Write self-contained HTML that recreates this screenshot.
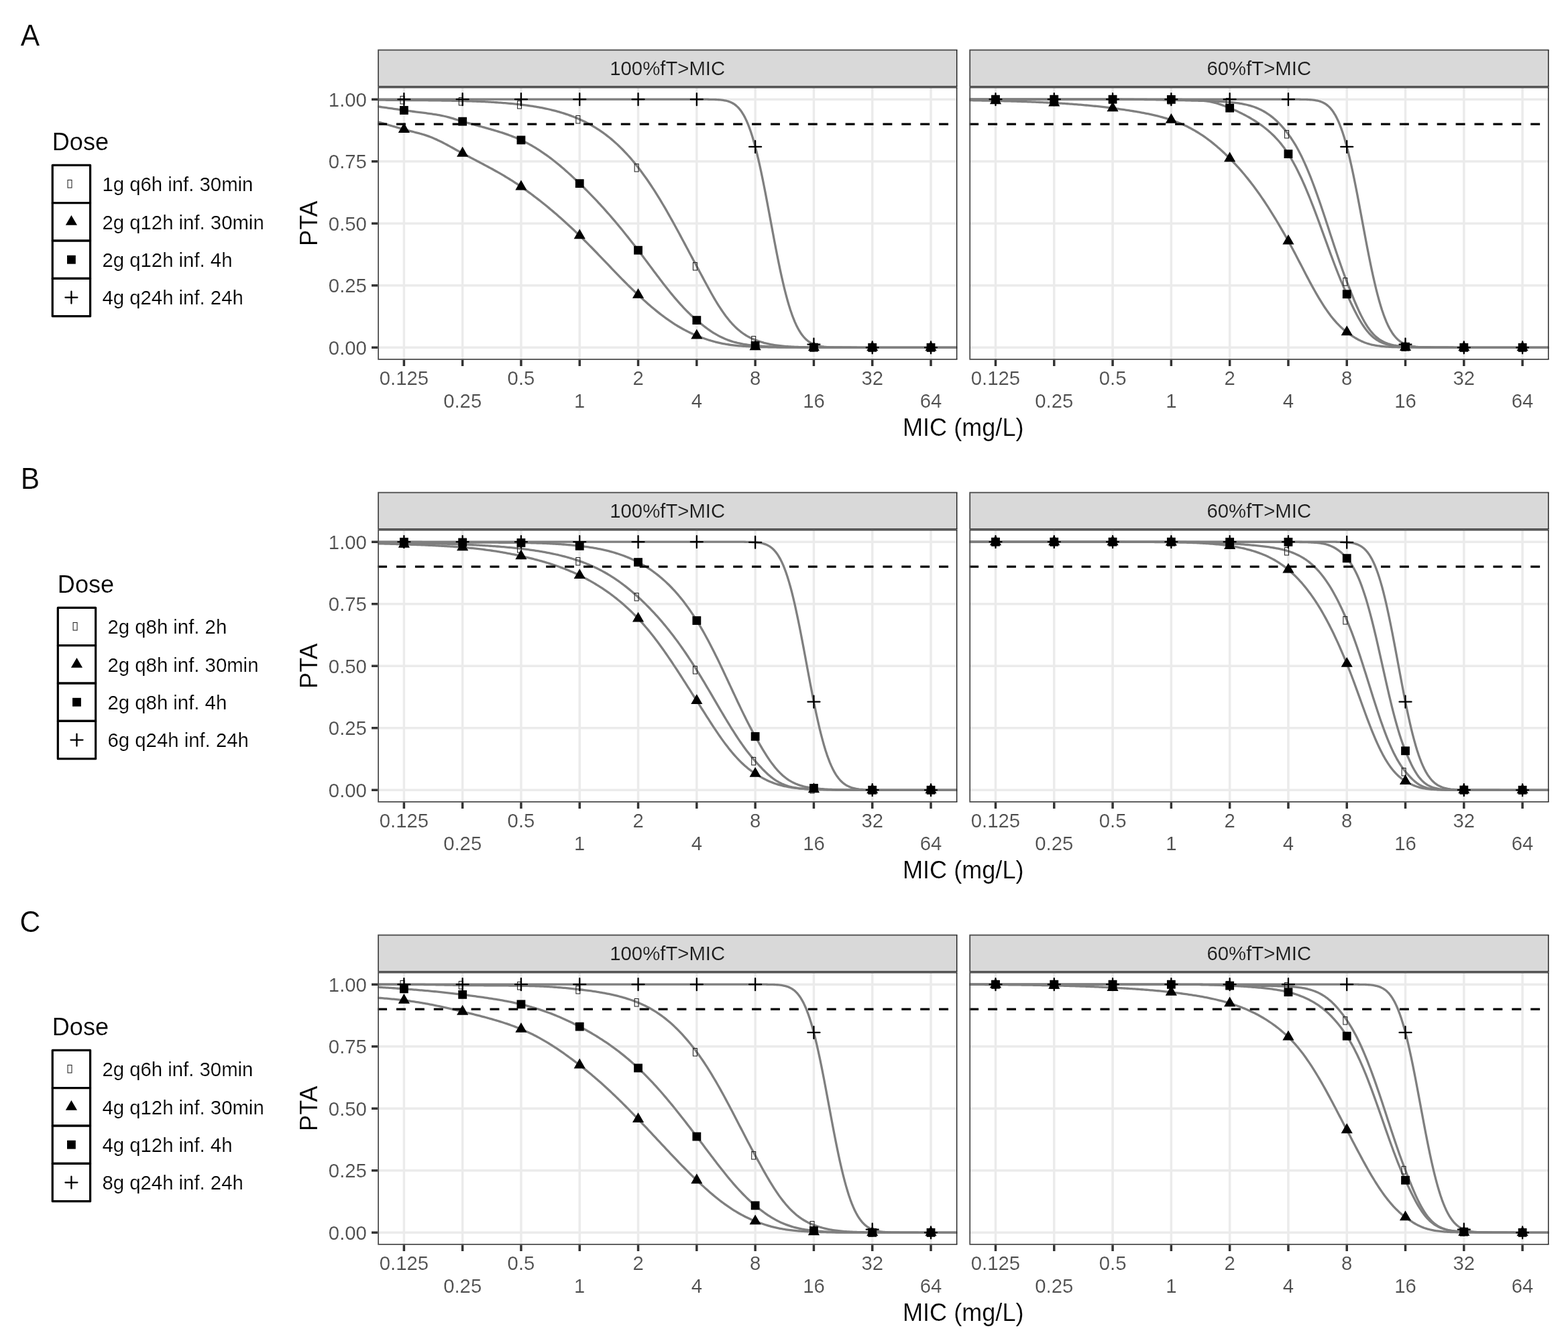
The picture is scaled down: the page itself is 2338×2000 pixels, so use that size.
<!DOCTYPE html>
<html lang="en">
<head>
<meta charset="utf-8">
<title>PTA versus MIC by dosing regimen</title>
<style>
html,body{margin:0;padding:0;background:#fff}
body{width:2338px;height:2000px;overflow:hidden}
svg{display:block}
text{font-family:"Liberation Sans",Arial,Helvetica,sans-serif;fill:#000;stroke:#fff;stroke-width:.2px;paint-order:fill stroke}
.tag{font-size:42.6px}
.lt,.at{font-size:36.1px}
.ll{font-size:29.33px}
.ax{font-size:29.33px;fill:#4D4D4D}
.st{font-size:29.33px;fill:#1A1A1A;stroke:#D9D9D9}
.key{fill:#fff;stroke:#000;stroke-width:3.2;stroke-linejoin:round}
.tk{stroke:#333333;stroke-width:3.49;fill:none}
.cv{stroke:#7F7F7F;stroke-width:3.3;fill:none;stroke-linejoin:round;stroke-linecap:butt}
.mk{fill:#000}
.mk .pl{stroke:#000;stroke-width:2.3;stroke-linecap:round;fill:none}
.mk .tf{stroke:#222;stroke-width:1.05;fill:none}
</style>
</head>
<body>
<svg width="2338" height="2000" viewBox="0 0 2338 2000" role="img" aria-label="Probability of target attainment versus MIC for three dosing groups">
<rect width="2338" height="2000" fill="#fff"/>
<defs>
<clipPath id="c1"><rect x="563.1" y="129.7" width="864.2" height="406.9"/></clipPath>
<clipPath id="c2"><rect x="1445.2" y="129.7" width="864.2" height="406.9"/></clipPath>
</defs>
<g transform="translate(0 0)">
<text class="tag" transform="translate(30.7 68) scale(1 1.02)">A</text>
<text class="lt" transform="translate(77.8 224.1) scale(1 1.02)">Dose</text>
<rect class="key" x="78.25" y="246.4" width="56.33" height="56.33"/>
<rect class="key" x="78.25" y="302.73" width="56.33" height="56.33"/>
<rect class="key" x="78.25" y="359.06" width="56.33" height="56.33"/>
<rect class="key" x="78.25" y="415.39" width="56.33" height="56.33"/>
<g class="mk"><rect x="101.04" y="268.5" width="5.95" height="11.5" class="tf"/></g>
<text class="ll" transform="translate(152.48 285.37) scale(1 1.02)">1g q6h inf. 30min</text>
<g class="mk"><path d="M106.41 321L114.99 335.85H97.84Z"/></g>
<text class="ll" transform="translate(152.48 341.7) scale(1 1.02)">2g q12h inf. 30min</text>
<g class="mk"><rect x="100.01" y="380.83" width="12.8" height="12.8"/></g>
<text class="ll" transform="translate(152.48 398.03) scale(1 1.02)">2g q12h inf. 4h</text>
<g class="mk"><path d="M97.41 443.56H115.41M106.41 434.56V452.56" class="pl"/></g>
<text class="ll" transform="translate(152.48 454.36) scale(1 1.02)">4g q24h inf. 24h</text>
<text class="at" text-anchor="middle" transform="translate(472.9 333.15) rotate(-90) scale(1 1.02)">PTA</text>
<text class="ax" text-anchor="end" transform="translate(546.9 528.8) scale(1 1.02)">0.00</text>
<text class="ax" text-anchor="end" transform="translate(546.9 436.27) scale(1 1.02)">0.25</text>
<text class="ax" text-anchor="end" transform="translate(546.9 343.75) scale(1 1.02)">0.50</text>
<text class="ax" text-anchor="end" transform="translate(546.9 251.22) scale(1 1.02)">0.75</text>
<text class="ax" text-anchor="end" transform="translate(546.9 158.7) scale(1 1.02)">1.00</text>
<path class="tk" d="M554.05 518.3H563.25M554.05 425.77H563.25M554.05 333.25H563.25M554.05 240.72H563.25M554.05 148.2H563.25"/>
<rect x="563.25" y="73.7" width="864.2" height="56.15" fill="#D9D9D9"/><path d="M563.25 73.7H1427.45V75.45H565V128.1H1427.45V129.85H563.25Z" fill="#4a4a4a"/><rect x="1425.95" y="74.6" width="1.4" height="54.35" fill="#1c1c1c"/>
<text class="st" text-anchor="middle" transform="translate(995.2 112.1) scale(1 1.02)">100%fT&gt;MIC</text>
<g clip-path="url(#c1)">
<path d="M563.1 518.3H1427.3M563.1 425.77H1427.3M563.1 333.25H1427.3M563.1 240.72H1427.3M563.1 148.2H1427.3M602.38 129.7V536.6M689.67 129.7V536.6M776.97 129.7V536.6M864.26 129.7V536.6M951.55 129.7V536.6M1038.85 129.7V536.6M1126.14 129.7V536.6M1213.43 129.7V536.6M1300.73 129.7V536.6M1388.02 129.7V536.6" stroke="#EBEBEB" stroke-width="3.49" fill="none"/>
<path class="cv" d="M563.1 149.13L565.28 149.15L567.46 149.17L569.65 149.18L571.83 149.2L574.01 149.22L576.19 149.23L578.38 149.25L580.56 149.27L582.74 149.28L584.92 149.3L587.11 149.32L589.29 149.34L591.47 149.36L593.65 149.38L595.83 149.4L598.02 149.42L600.2 149.44L602.38 149.46L604.56 149.47L606.75 149.48L608.93 149.49L611.11 149.5L613.29 149.51L615.48 149.53L617.66 149.54L619.84 149.56L622.02 149.57L624.21 149.59L626.39 149.61L628.57 149.63L630.75 149.65L632.93 149.67L635.12 149.69L637.3 149.71L639.48 149.74L641.66 149.76L643.85 149.79L646.03 149.81L648.21 149.84L650.39 149.87L652.58 149.9L654.76 149.93L656.94 149.96L659.12 149.99L661.3 150.03L663.49 150.06L665.67 150.1L667.85 150.13L670.03 150.17L672.22 150.21L674.4 150.25L676.58 150.29L678.76 150.34L680.95 150.38L683.13 150.43L685.31 150.47L687.49 150.52L689.67 150.57L691.86 150.62L694.04 150.67L696.22 150.73L698.4 150.79L700.59 150.86L702.77 150.92L704.95 151L707.13 151.07L709.32 151.15L711.5 151.23L713.68 151.32L715.86 151.41L718.04 151.51L720.23 151.61L722.41 151.71L724.59 151.82L726.77 151.94L728.96 152.05L731.14 152.18L733.32 152.31L735.5 152.44L737.69 152.58L739.87 152.73L742.05 152.88L744.23 153.04L746.42 153.2L748.6 153.37L750.78 153.54L752.96 153.72L755.14 153.91L757.33 154.1L759.51 154.3L761.69 154.51L763.87 154.72L766.06 154.94L768.24 155.16L770.42 155.39L772.6 155.63L774.79 155.87L776.97 156.12L779.15 156.38L781.33 156.64L783.51 156.92L785.7 157.21L787.88 157.5L790.06 157.81L792.24 158.13L794.43 158.46L796.61 158.81L798.79 159.16L800.97 159.53L803.16 159.91L805.34 160.31L807.52 160.72L809.7 161.14L811.88 161.58L814.07 162.04L816.25 162.51L818.43 163L820.61 163.5L822.8 164.02L824.98 164.56L827.16 165.12L829.34 165.7L831.53 166.3L833.71 166.91L835.89 167.55L838.07 168.21L840.26 168.89L842.44 169.59L844.62 170.32L846.8 171.06L848.98 171.84L851.17 172.63L853.35 173.45L855.53 174.3L857.71 175.17L859.9 176.07L862.08 177L864.26 177.96L866.44 178.94L868.63 179.96L870.81 181L872.99 182.08L875.17 183.2L877.35 184.35L879.54 185.53L881.72 186.75L883.9 188.01L886.08 189.31L888.27 190.64L890.45 192.02L892.63 193.43L894.81 194.89L897 196.39L899.18 197.93L901.36 199.52L903.54 201.15L905.72 202.83L907.91 204.55L910.09 206.32L912.27 208.14L914.45 210.01L916.64 211.92L918.82 213.89L921 215.91L923.18 217.97L925.37 220.1L927.55 222.27L929.73 224.5L931.91 226.78L934.09 229.11L936.28 231.5L938.46 233.94L940.64 236.44L942.82 238.99L945.01 241.6L947.19 244.26L949.37 246.98L951.55 249.76L953.74 252.59L955.92 255.47L958.1 258.41L960.28 261.41L962.47 264.46L964.65 267.57L966.83 270.73L969.01 273.95L971.19 277.22L973.38 280.54L975.56 283.92L977.74 287.35L979.92 290.83L982.11 294.35L984.29 297.93L986.47 301.55L988.65 305.22L990.84 308.94L993.02 312.69L995.2 316.49L997.38 320.32L999.56 324.19L1001.75 328.1L1003.93 332.03L1006.11 336L1008.29 340L1010.48 344.01L1012.66 348.06L1014.84 352.11L1017.02 356.19L1019.21 360.28L1021.39 364.37L1023.57 368.47L1025.75 372.58L1027.93 376.68L1030.12 380.78L1032.3 384.87L1034.48 388.95L1036.66 393.01L1038.85 397.06L1041.03 401.1L1043.21 405.18L1045.39 409.27L1047.58 413.36L1049.76 417.45L1051.94 421.53L1054.12 425.57L1056.31 429.58L1058.49 433.54L1060.67 437.45L1062.85 441.29L1065.03 445.05L1067.22 448.73L1069.4 452.33L1071.58 455.82L1073.76 459.22L1075.95 462.51L1078.13 465.69L1080.31 468.75L1082.49 471.7L1084.68 474.53L1086.86 477.23L1089.04 479.82L1091.22 482.28L1093.4 484.62L1095.59 486.84L1097.77 488.95L1099.95 490.93L1102.13 492.81L1104.32 494.57L1106.5 496.23L1108.68 497.78L1110.86 499.24L1113.05 500.59L1115.23 501.86L1117.41 503.04L1119.59 504.14L1121.77 505.16L1123.96 506.1L1126.14 506.97L1128.32 507.8L1130.5 508.58L1132.69 509.31L1134.87 510.01L1137.05 510.67L1139.23 511.29L1141.42 511.86L1143.6 512.4L1145.78 512.9L1147.96 513.36L1150.14 513.79L1152.33 514.19L1154.51 514.56L1156.69 514.89L1158.87 515.2L1161.06 515.48L1163.24 515.74L1165.42 515.97L1167.6 516.19L1169.79 516.38L1171.97 516.56L1174.15 516.72L1176.33 516.86L1178.52 516.99L1180.7 517.11L1182.88 517.21L1185.06 517.31L1187.24 517.39L1189.43 517.47L1191.61 517.54L1193.79 517.6L1195.97 517.66L1198.16 517.7L1200.34 517.75L1202.52 517.79L1204.7 517.82L1206.89 517.86L1209.07 517.88L1211.25 517.91L1213.43 517.93L1215.61 517.95L1217.8 517.97L1219.98 517.99L1222.16 518L1224.34 518.02L1226.53 518.04L1228.71 518.05L1230.89 518.06L1233.07 518.08L1235.26 518.09L1237.44 518.1L1239.62 518.11L1241.8 518.12L1243.98 518.13L1246.17 518.14L1248.35 518.15L1250.53 518.15L1252.71 518.16L1254.9 518.17L1257.08 518.17L1259.26 518.18L1261.44 518.18L1263.63 518.19L1265.81 518.19L1267.99 518.2L1270.17 518.2L1272.36 518.21L1274.54 518.21L1276.72 518.21L1278.9 518.3L1281.08 518.3L1283.27 518.3L1285.45 518.3L1287.63 518.3L1289.81 518.3L1292 518.3L1294.18 518.3L1296.36 518.3L1298.54 518.3L1300.73 518.3L1302.91 518.3L1305.09 518.3L1307.27 518.3L1309.45 518.3L1311.64 518.3L1313.82 518.3L1316 518.3L1318.18 518.3L1320.37 518.3L1322.55 518.3L1324.73 518.3L1326.91 518.3L1329.1 518.3L1331.28 518.3L1333.46 518.3L1335.64 518.3L1337.82 518.3L1340.01 518.3L1342.19 518.3L1344.37 518.3L1346.55 518.3L1348.74 518.3L1350.92 518.3L1353.1 518.3L1355.28 518.3L1357.47 518.3L1359.65 518.3L1361.83 518.3L1364.01 518.3L1366.19 518.3L1368.38 518.3L1370.56 518.3L1372.74 518.3L1374.92 518.3L1377.11 518.3L1379.29 518.3L1381.47 518.3L1383.65 518.3L1385.84 518.3L1388.02 518.3L1390.2 518.3L1392.38 518.3L1394.57 518.3L1396.75 518.3L1398.93 518.3L1401.11 518.3L1403.29 518.3L1405.48 518.3L1407.66 518.3L1409.84 518.3L1412.02 518.3L1414.21 518.3L1416.39 518.3L1418.57 518.3L1420.75 518.3L1422.94 518.3L1425.12 518.3L1427.3 518.3"/>
<path class="cv" d="M563.1 181.69L565.28 182.31L567.46 182.94L569.65 183.56L571.83 184.19L574.01 184.82L576.19 185.44L578.38 186.07L580.56 186.71L582.74 187.34L584.92 187.97L587.11 188.6L589.29 189.23L591.47 189.86L593.65 190.49L595.83 191.11L598.02 191.74L600.2 192.36L602.38 192.98L604.56 193.59L606.75 194.18L608.93 194.76L611.11 195.32L613.29 195.88L615.48 196.43L617.66 196.99L619.84 197.54L622.02 198.1L624.21 198.68L626.39 199.27L628.57 199.87L630.75 200.51L632.93 201.17L635.12 201.87L637.3 202.6L639.48 203.38L641.66 204.2L643.85 205.07L646.03 205.97L648.21 206.91L650.39 207.88L652.58 208.89L654.76 209.92L656.94 210.99L659.12 212.09L661.3 213.21L663.49 214.35L665.67 215.51L667.85 216.69L670.03 217.88L672.22 219.08L674.4 220.29L676.58 221.51L678.76 222.73L680.95 223.94L683.13 225.15L685.31 226.35L687.49 227.53L689.67 228.7L691.86 229.85L694.04 231L696.22 232.15L698.4 233.3L700.59 234.45L702.77 235.59L704.95 236.74L707.13 237.88L709.32 239.03L711.5 240.17L713.68 241.32L715.86 242.47L718.04 243.62L720.23 244.78L722.41 245.93L724.59 247.1L726.77 248.27L728.96 249.44L731.14 250.63L733.32 251.82L735.5 253.01L737.69 254.22L739.87 255.44L742.05 256.67L744.23 257.91L746.42 259.16L748.6 260.42L750.78 261.7L752.96 263L755.14 264.3L757.33 265.63L759.51 266.98L761.69 268.34L763.87 269.72L766.06 271.12L768.24 272.55L770.42 273.99L772.6 275.46L774.79 276.96L776.97 278.48L779.15 280.01L781.33 281.57L783.51 283.13L785.7 284.71L787.88 286.31L790.06 287.91L792.24 289.53L794.43 291.17L796.61 292.82L798.79 294.49L800.97 296.17L803.16 297.86L805.34 299.57L807.52 301.29L809.7 303.03L811.88 304.78L814.07 306.55L816.25 308.34L818.43 310.14L820.61 311.95L822.8 313.78L824.98 315.63L827.16 317.49L829.34 319.36L831.53 321.25L833.71 323.16L835.89 325.08L838.07 327.02L840.26 328.97L842.44 330.93L844.62 332.91L846.8 334.91L848.98 336.92L851.17 338.94L853.35 340.98L855.53 343.04L857.71 345.1L859.9 347.18L862.08 349.28L864.26 351.38L866.44 353.51L868.63 355.65L870.81 357.8L872.99 359.97L875.17 362.16L877.35 364.35L879.54 366.56L881.72 368.78L883.9 371.02L886.08 373.26L888.27 375.51L890.45 377.77L892.63 380.03L894.81 382.3L897 384.58L899.18 386.85L901.36 389.14L903.54 391.42L905.72 393.7L907.91 395.98L910.09 398.26L912.27 400.54L914.45 402.82L916.64 405.08L918.82 407.35L921 409.6L923.18 411.85L925.37 414.09L927.55 416.32L929.73 418.53L931.91 420.73L934.09 422.92L936.28 425.1L938.46 427.26L940.64 429.4L942.82 431.53L945.01 433.64L947.19 435.72L949.37 437.79L951.55 439.84L953.74 441.87L955.92 443.88L958.1 445.87L960.28 447.85L962.47 449.8L964.65 451.74L966.83 453.65L969.01 455.54L971.19 457.41L973.38 459.25L975.56 461.07L977.74 462.86L979.92 464.63L982.11 466.37L984.29 468.08L986.47 469.76L988.65 471.41L990.84 473.04L993.02 474.63L995.2 476.19L997.38 477.72L999.56 479.22L1001.75 480.69L1003.93 482.12L1006.11 483.52L1008.29 484.89L1010.48 486.22L1012.66 487.52L1014.84 488.79L1017.02 490.02L1019.21 491.22L1021.39 492.39L1023.57 493.52L1025.75 494.62L1027.93 495.69L1030.12 496.73L1032.3 497.73L1034.48 498.69L1036.66 499.63L1038.85 500.54L1041.03 501.41L1043.21 502.28L1045.39 503.12L1047.58 503.93L1049.76 504.73L1051.94 505.49L1054.12 506.24L1056.31 506.95L1058.49 507.64L1060.67 508.29L1062.85 508.92L1065.03 509.52L1067.22 510.09L1069.4 510.63L1071.58 511.15L1073.76 511.63L1075.95 512.09L1078.13 512.52L1080.31 512.93L1082.49 513.31L1084.68 513.67L1086.86 514L1089.04 514.31L1091.22 514.61L1093.4 514.88L1095.59 515.13L1097.77 515.36L1099.95 515.58L1102.13 515.78L1104.32 515.97L1106.5 516.14L1108.68 516.3L1110.86 516.45L1113.05 516.58L1115.23 516.71L1117.41 516.82L1119.59 516.92L1121.77 517.02L1123.96 517.11L1126.14 517.19L1128.32 517.27L1130.5 517.34L1132.69 517.41L1134.87 517.48L1137.05 517.54L1139.23 517.6L1141.42 517.65L1143.6 517.71L1145.78 517.76L1147.96 517.8L1150.14 517.84L1152.33 517.88L1154.51 517.92L1156.69 517.95L1158.87 517.98L1161.06 518.01L1163.24 518.03L1165.42 518.05L1167.6 518.07L1169.79 518.09L1171.97 518.11L1174.15 518.12L1176.33 518.14L1178.52 518.15L1180.7 518.16L1182.88 518.17L1185.06 518.18L1187.24 518.19L1189.43 518.19L1191.61 518.2L1193.79 518.21L1195.97 518.21L1198.16 518.21L1200.34 518.3L1202.52 518.3L1204.7 518.3L1206.89 518.3L1209.07 518.3L1211.25 518.3L1213.43 518.3L1215.61 518.3L1217.8 518.3L1219.98 518.3L1222.16 518.3L1224.34 518.3L1226.53 518.3L1228.71 518.3L1230.89 518.3L1233.07 518.3L1235.26 518.3L1237.44 518.3L1239.62 518.3L1241.8 518.3L1243.98 518.3L1246.17 518.3L1248.35 518.3L1250.53 518.3L1252.71 518.3L1254.9 518.3L1257.08 518.3L1259.26 518.3L1261.44 518.3L1263.63 518.3L1265.81 518.3L1267.99 518.3L1270.17 518.3L1272.36 518.3L1274.54 518.3L1276.72 518.3L1278.9 518.3L1281.08 518.3L1283.27 518.3L1285.45 518.3L1287.63 518.3L1289.81 518.3L1292 518.3L1294.18 518.3L1296.36 518.3L1298.54 518.3L1300.73 518.3L1302.91 518.3L1305.09 518.3L1307.27 518.3L1309.45 518.3L1311.64 518.3L1313.82 518.3L1316 518.3L1318.18 518.3L1320.37 518.3L1322.55 518.3L1324.73 518.3L1326.91 518.3L1329.1 518.3L1331.28 518.3L1333.46 518.3L1335.64 518.3L1337.82 518.3L1340.01 518.3L1342.19 518.3L1344.37 518.3L1346.55 518.3L1348.74 518.3L1350.92 518.3L1353.1 518.3L1355.28 518.3L1357.47 518.3L1359.65 518.3L1361.83 518.3L1364.01 518.3L1366.19 518.3L1368.38 518.3L1370.56 518.3L1372.74 518.3L1374.92 518.3L1377.11 518.3L1379.29 518.3L1381.47 518.3L1383.65 518.3L1385.84 518.3L1388.02 518.3L1390.2 518.3L1392.38 518.3L1394.57 518.3L1396.75 518.3L1398.93 518.3L1401.11 518.3L1403.29 518.3L1405.48 518.3L1407.66 518.3L1409.84 518.3L1412.02 518.3L1414.21 518.3L1416.39 518.3L1418.57 518.3L1420.75 518.3L1422.94 518.3L1425.12 518.3L1427.3 518.3"/>
<path class="cv" d="M563.1 158.93L565.28 159.22L567.46 159.51L569.65 159.81L571.83 160.11L574.01 160.41L576.19 160.72L578.38 161.03L580.56 161.34L582.74 161.65L584.92 161.97L587.11 162.28L589.29 162.6L591.47 162.92L593.65 163.23L595.83 163.55L598.02 163.86L600.2 164.17L602.38 164.48L604.56 164.79L606.75 165.09L608.93 165.38L611.11 165.67L613.29 165.96L615.48 166.24L617.66 166.51L619.84 166.79L622.02 167.06L624.21 167.33L626.39 167.61L628.57 167.88L630.75 168.16L632.93 168.44L635.12 168.73L637.3 169.02L639.48 169.32L641.66 169.62L643.85 169.94L646.03 170.27L648.21 170.61L650.39 170.96L652.58 171.33L654.76 171.71L656.94 172.12L659.12 172.55L661.3 173L663.49 173.49L665.67 174.02L667.85 174.58L670.03 175.18L672.22 175.81L674.4 176.45L676.58 177.12L678.76 177.8L680.95 178.48L683.13 179.16L685.31 179.84L687.49 180.5L689.67 181.14L691.86 181.76L694.04 182.38L696.22 182.99L698.4 183.6L700.59 184.21L702.77 184.81L704.95 185.42L707.13 186.02L709.32 186.62L711.5 187.21L713.68 187.81L715.86 188.41L718.04 189.01L720.23 189.61L722.41 190.21L724.59 190.82L726.77 191.43L728.96 192.04L731.14 192.66L733.32 193.29L735.5 193.92L737.69 194.57L739.87 195.22L742.05 195.88L744.23 196.56L746.42 197.24L748.6 197.94L750.78 198.66L752.96 199.39L755.14 200.14L757.33 200.91L759.51 201.69L761.69 202.5L763.87 203.34L766.06 204.19L768.24 205.07L770.42 205.98L772.6 206.92L774.79 207.89L776.97 208.9L779.15 209.93L781.33 211L783.51 212.1L785.7 213.23L787.88 214.39L790.06 215.58L792.24 216.81L794.43 218.07L796.61 219.36L798.79 220.68L800.97 222.03L803.16 223.42L805.34 224.84L807.52 226.29L809.7 227.77L811.88 229.28L814.07 230.82L816.25 232.4L818.43 234L820.61 235.63L822.8 237.3L824.98 238.99L827.16 240.71L829.34 242.46L831.53 244.24L833.71 246.04L835.89 247.87L838.07 249.72L840.26 251.6L842.44 253.51L844.62 255.43L846.8 257.38L848.98 259.35L851.17 261.34L853.35 263.36L855.53 265.38L857.71 267.43L859.9 269.49L862.08 271.57L864.26 273.66L866.44 275.77L868.63 277.9L870.81 280.04L872.99 282.21L875.17 284.39L877.35 286.59L879.54 288.82L881.72 291.06L883.9 293.32L886.08 295.6L888.27 297.9L890.45 300.22L892.63 302.56L894.81 304.93L897 307.31L899.18 309.71L901.36 312.14L903.54 314.58L905.72 317.05L907.91 319.53L910.09 322.04L912.27 324.56L914.45 327.11L916.64 329.68L918.82 332.26L921 334.87L923.18 337.5L925.37 340.14L927.55 342.81L929.73 345.49L931.91 348.19L934.09 350.91L936.28 353.64L938.46 356.4L940.64 359.16L942.82 361.95L945.01 364.75L947.19 367.56L949.37 370.38L951.55 373.22L953.74 376.07L955.92 378.94L958.1 381.83L960.28 384.72L962.47 387.63L964.65 390.54L966.83 393.46L969.01 396.38L971.19 399.31L973.38 402.23L975.56 405.14L977.74 408.05L979.92 410.95L982.11 413.83L984.29 416.71L986.47 419.56L988.65 422.39L990.84 425.21L993.02 428L995.2 430.76L997.38 433.49L999.56 436.19L1001.75 438.86L1003.93 441.5L1006.11 444.1L1008.29 446.65L1010.48 449.17L1012.66 451.65L1014.84 454.08L1017.02 456.47L1019.21 458.81L1021.39 461.1L1023.57 463.34L1025.75 465.53L1027.93 467.67L1030.12 469.76L1032.3 471.8L1034.48 473.78L1036.66 475.71L1038.85 477.59L1041.03 479.43L1043.21 481.24L1045.39 483.02L1047.58 484.78L1049.76 486.49L1051.94 488.16L1054.12 489.78L1056.31 491.36L1058.49 492.88L1060.67 494.36L1062.85 495.77L1065.03 497.14L1067.22 498.44L1069.4 499.69L1071.58 500.88L1073.76 502.01L1075.95 503.08L1078.13 504.1L1080.31 505.07L1082.49 505.97L1084.68 506.83L1086.86 507.63L1089.04 508.39L1091.22 509.1L1093.4 509.76L1095.59 510.37L1097.77 510.95L1099.95 511.48L1102.13 511.98L1104.32 512.44L1106.5 512.87L1108.68 513.26L1110.86 513.62L1113.05 513.96L1115.23 514.27L1117.41 514.56L1119.59 514.82L1121.77 515.06L1123.96 515.28L1126.14 515.49L1128.32 515.68L1130.5 515.86L1132.69 516.03L1134.87 516.19L1137.05 516.34L1139.23 516.48L1141.42 516.61L1143.6 516.74L1145.78 516.85L1147.96 516.96L1150.14 517.06L1152.33 517.15L1154.51 517.24L1156.69 517.32L1158.87 517.39L1161.06 517.46L1163.24 517.52L1165.42 517.58L1167.6 517.64L1169.79 517.69L1171.97 517.73L1174.15 517.77L1176.33 517.81L1178.52 517.84L1180.7 517.88L1182.88 517.9L1185.06 517.93L1187.24 517.95L1189.43 517.98L1191.61 518L1193.79 518.01L1195.97 518.03L1198.16 518.05L1200.34 518.06L1202.52 518.07L1204.7 518.08L1206.89 518.09L1209.07 518.1L1211.25 518.11L1213.43 518.11L1215.61 518.12L1217.8 518.13L1219.98 518.13L1222.16 518.14L1224.34 518.14L1226.53 518.15L1228.71 518.15L1230.89 518.16L1233.07 518.16L1235.26 518.17L1237.44 518.17L1239.62 518.18L1241.8 518.18L1243.98 518.18L1246.17 518.19L1248.35 518.19L1250.53 518.19L1252.71 518.2L1254.9 518.2L1257.08 518.2L1259.26 518.2L1261.44 518.21L1263.63 518.21L1265.81 518.21L1267.99 518.21L1270.17 518.3L1272.36 518.3L1274.54 518.3L1276.72 518.3L1278.9 518.3L1281.08 518.3L1283.27 518.3L1285.45 518.3L1287.63 518.3L1289.81 518.3L1292 518.3L1294.18 518.3L1296.36 518.3L1298.54 518.3L1300.73 518.3L1302.91 518.3L1305.09 518.3L1307.27 518.3L1309.45 518.3L1311.64 518.3L1313.82 518.3L1316 518.3L1318.18 518.3L1320.37 518.3L1322.55 518.3L1324.73 518.3L1326.91 518.3L1329.1 518.3L1331.28 518.3L1333.46 518.3L1335.64 518.3L1337.82 518.3L1340.01 518.3L1342.19 518.3L1344.37 518.3L1346.55 518.3L1348.74 518.3L1350.92 518.3L1353.1 518.3L1355.28 518.3L1357.47 518.3L1359.65 518.3L1361.83 518.3L1364.01 518.3L1366.19 518.3L1368.38 518.3L1370.56 518.3L1372.74 518.3L1374.92 518.3L1377.11 518.3L1379.29 518.3L1381.47 518.3L1383.65 518.3L1385.84 518.3L1388.02 518.3L1390.2 518.3L1392.38 518.3L1394.57 518.3L1396.75 518.3L1398.93 518.3L1401.11 518.3L1403.29 518.3L1405.48 518.3L1407.66 518.3L1409.84 518.3L1412.02 518.3L1414.21 518.3L1416.39 518.3L1418.57 518.3L1420.75 518.3L1422.94 518.3L1425.12 518.3L1427.3 518.3"/>
<path class="cv" d="M563.1 148.2L565.28 148.2L567.46 148.2L569.65 148.2L571.83 148.2L574.01 148.2L576.19 148.2L578.38 148.2L580.56 148.2L582.74 148.2L584.92 148.2L587.11 148.2L589.29 148.2L591.47 148.2L593.65 148.2L595.83 148.2L598.02 148.2L600.2 148.2L602.38 148.2L604.56 148.2L606.75 148.2L608.93 148.2L611.11 148.2L613.29 148.2L615.48 148.2L617.66 148.2L619.84 148.2L622.02 148.2L624.21 148.2L626.39 148.2L628.57 148.2L630.75 148.2L632.93 148.2L635.12 148.2L637.3 148.2L639.48 148.2L641.66 148.2L643.85 148.2L646.03 148.2L648.21 148.2L650.39 148.2L652.58 148.2L654.76 148.2L656.94 148.2L659.12 148.2L661.3 148.2L663.49 148.2L665.67 148.2L667.85 148.2L670.03 148.2L672.22 148.2L674.4 148.2L676.58 148.2L678.76 148.2L680.95 148.2L683.13 148.2L685.31 148.2L687.49 148.2L689.67 148.2L691.86 148.2L694.04 148.2L696.22 148.2L698.4 148.2L700.59 148.2L702.77 148.2L704.95 148.2L707.13 148.2L709.32 148.2L711.5 148.2L713.68 148.2L715.86 148.2L718.04 148.2L720.23 148.2L722.41 148.2L724.59 148.2L726.77 148.2L728.96 148.2L731.14 148.2L733.32 148.2L735.5 148.2L737.69 148.2L739.87 148.2L742.05 148.2L744.23 148.2L746.42 148.2L748.6 148.2L750.78 148.2L752.96 148.2L755.14 148.2L757.33 148.2L759.51 148.2L761.69 148.2L763.87 148.2L766.06 148.2L768.24 148.2L770.42 148.2L772.6 148.2L774.79 148.2L776.97 148.2L779.15 148.2L781.33 148.2L783.51 148.2L785.7 148.2L787.88 148.2L790.06 148.2L792.24 148.2L794.43 148.2L796.61 148.2L798.79 148.2L800.97 148.2L803.16 148.2L805.34 148.2L807.52 148.2L809.7 148.2L811.88 148.2L814.07 148.2L816.25 148.2L818.43 148.2L820.61 148.2L822.8 148.2L824.98 148.2L827.16 148.2L829.34 148.2L831.53 148.2L833.71 148.2L835.89 148.2L838.07 148.2L840.26 148.2L842.44 148.2L844.62 148.2L846.8 148.2L848.98 148.2L851.17 148.2L853.35 148.2L855.53 148.2L857.71 148.2L859.9 148.2L862.08 148.2L864.26 148.2L866.44 148.2L868.63 148.2L870.81 148.2L872.99 148.2L875.17 148.2L877.35 148.2L879.54 148.2L881.72 148.2L883.9 148.2L886.08 148.2L888.27 148.2L890.45 148.2L892.63 148.2L894.81 148.2L897 148.2L899.18 148.2L901.36 148.2L903.54 148.2L905.72 148.2L907.91 148.2L910.09 148.2L912.27 148.2L914.45 148.2L916.64 148.2L918.82 148.2L921 148.2L923.18 148.2L925.37 148.2L927.55 148.2L929.73 148.2L931.91 148.2L934.09 148.2L936.28 148.2L938.46 148.2L940.64 148.2L942.82 148.2L945.01 148.2L947.19 148.2L949.37 148.2L951.55 148.2L953.74 148.2L955.92 148.2L958.1 148.2L960.28 148.2L962.47 148.2L964.65 148.2L966.83 148.2L969.01 148.2L971.19 148.2L973.38 148.2L975.56 148.2L977.74 148.2L979.92 148.2L982.11 148.2L984.29 148.2L986.47 148.2L988.65 148.2L990.84 148.2L993.02 148.2L995.2 148.2L997.38 148.2L999.56 148.2L1001.75 148.2L1003.93 148.2L1006.11 148.2L1008.29 148.2L1010.48 148.2L1012.66 148.2L1014.84 148.2L1017.02 148.2L1019.21 148.2L1021.39 148.2L1023.57 148.2L1025.75 148.2L1027.93 148.2L1030.12 148.2L1032.3 148.2L1034.48 148.2L1036.66 148.2L1038.85 148.2L1041.03 148.2L1043.21 148.2L1045.39 148.2L1047.58 148.2L1049.76 148.2L1051.94 148.2L1054.12 148.2L1056.31 148.26L1058.49 148.28L1060.67 148.32L1062.85 148.36L1065.03 148.42L1067.22 148.5L1069.4 148.6L1071.58 148.73L1073.76 148.9L1075.95 149.12L1078.13 149.4L1080.31 149.76L1082.49 150.2L1084.68 150.75L1086.86 151.42L1089.04 152.25L1091.22 153.25L1093.4 154.45L1095.59 155.89L1097.77 157.59L1099.95 159.6L1102.13 161.94L1104.32 164.65L1106.5 167.77L1108.68 171.33L1110.86 175.37L1113.05 179.91L1115.23 184.99L1117.41 190.62L1119.59 196.82L1121.77 203.61L1123.96 210.98L1126.14 218.93L1128.32 227.45L1130.5 236.51L1132.69 246.09L1134.87 256.15L1137.05 266.64L1139.23 277.5L1141.42 288.68L1143.6 300.1L1145.78 311.71L1147.96 323.42L1150.14 335.17L1152.33 346.88L1154.51 358.46L1156.69 369.87L1158.87 381.02L1161.06 391.86L1163.24 402.33L1165.42 412.38L1167.6 421.98L1169.79 431.08L1171.97 439.67L1174.15 447.72L1176.33 455.22L1178.52 462.18L1180.7 468.59L1182.88 474.46L1185.06 479.81L1187.24 484.66L1189.43 489.03L1191.61 492.94L1193.79 496.43L1195.97 499.53L1198.16 502.25L1200.34 504.65L1202.52 506.73L1204.7 508.54L1206.89 510.11L1209.07 511.45L1211.25 512.6L1213.43 513.58L1215.61 514.4L1217.8 515.1L1219.98 515.68L1222.16 516.17L1224.34 516.57L1226.53 516.9L1228.71 517.18L1230.89 517.4L1233.07 517.58L1235.26 517.73L1237.44 517.85L1239.62 517.94L1241.8 518.02L1243.98 518.08L1246.17 518.13L1248.35 518.17L1250.53 518.2L1252.71 518.22L1254.9 518.24L1257.08 518.3L1259.26 518.3L1261.44 518.3L1263.63 518.3L1265.81 518.3L1267.99 518.3L1270.17 518.3L1272.36 518.3L1274.54 518.3L1276.72 518.3L1278.9 518.3L1281.08 518.3L1283.27 518.3L1285.45 518.3L1287.63 518.3L1289.81 518.3L1292 518.3L1294.18 518.3L1296.36 518.3L1298.54 518.3L1300.73 518.3L1302.91 518.3L1305.09 518.3L1307.27 518.3L1309.45 518.3L1311.64 518.3L1313.82 518.3L1316 518.3L1318.18 518.3L1320.37 518.3L1322.55 518.3L1324.73 518.3L1326.91 518.3L1329.1 518.3L1331.28 518.3L1333.46 518.3L1335.64 518.3L1337.82 518.3L1340.01 518.3L1342.19 518.3L1344.37 518.3L1346.55 518.3L1348.74 518.3L1350.92 518.3L1353.1 518.3L1355.28 518.3L1357.47 518.3L1359.65 518.3L1361.83 518.3L1364.01 518.3L1366.19 518.3L1368.38 518.3L1370.56 518.3L1372.74 518.3L1374.92 518.3L1377.11 518.3L1379.29 518.3L1381.47 518.3L1383.65 518.3L1385.84 518.3L1388.02 518.3L1390.2 518.3L1392.38 518.3L1394.57 518.3L1396.75 518.3L1398.93 518.3L1401.11 518.3L1403.29 518.3L1405.48 518.3L1407.66 518.3L1409.84 518.3L1412.02 518.3L1414.21 518.3L1416.39 518.3L1418.57 518.3L1420.75 518.3L1422.94 518.3L1425.12 518.3L1427.3 518.3"/>
<path d="M563.1 185.21H1427.3" stroke="#000" stroke-width="3.3" stroke-dasharray="13.95 13.95" fill="none"/>
<g class="mk">
<rect x="597.01" y="143.5" width="5.95" height="11.5" class="tf"/>
<rect x="684.3" y="145.5" width="5.95" height="11.5" class="tf"/>
<rect x="771.59" y="150.5" width="5.95" height="11.5" class="tf"/>
<rect x="858.89" y="172.5" width="5.95" height="11.5" class="tf"/>
<rect x="946.18" y="244.5" width="5.95" height="11.5" class="tf"/>
<rect x="1033.47" y="391.5" width="5.95" height="11.5" class="tf"/>
<rect x="1120.76" y="501.5" width="5.95" height="11.5" class="tf"/>
<rect x="1208.06" y="512.5" width="5.95" height="11.5" class="tf"/>
<rect x="1295.35" y="512.5" width="5.95" height="11.5" class="tf"/>
<rect x="1382.64" y="512.5" width="5.95" height="11.5" class="tf"/>
<path d="M602.38 183.08L610.96 197.93H593.81Z"/>
<path d="M689.67 218.8L698.25 233.65H681.1Z"/>
<path d="M776.97 268.58L785.54 283.43H768.39Z"/>
<path d="M864.26 341.48L872.83 356.33H855.69Z"/>
<path d="M951.55 429.94L960.13 444.79H942.98Z"/>
<path d="M1038.85 490.64L1047.42 505.49H1030.27Z"/>
<path d="M1126.14 507.29L1134.71 522.14H1117.57Z"/>
<path d="M1213.43 508.4L1222.01 523.25H1204.86Z"/>
<path d="M1300.73 508.4L1309.3 523.25H1292.15Z"/>
<path d="M1388.02 508.4L1396.59 523.25H1379.44Z"/>
<rect x="595.98" y="158.08" width="12.8" height="12.8"/>
<rect x="683.27" y="174.74" width="12.8" height="12.8"/>
<rect x="770.57" y="202.5" width="12.8" height="12.8"/>
<rect x="857.86" y="267.26" width="12.8" height="12.8"/>
<rect x="945.15" y="366.82" width="12.8" height="12.8"/>
<rect x="1032.45" y="471.19" width="12.8" height="12.8"/>
<rect x="1119.74" y="509.09" width="12.8" height="12.8"/>
<rect x="1207.03" y="511.71" width="12.8" height="12.8"/>
<rect x="1294.33" y="511.9" width="12.8" height="12.8"/>
<rect x="1381.62" y="511.9" width="12.8" height="12.8"/>
<path d="M593.38 148.2H611.38M602.38 139.2V157.2" class="pl"/>
<path d="M680.67 148.2H698.67M689.67 139.2V157.2" class="pl"/>
<path d="M767.97 148.2H785.97M776.97 139.2V157.2" class="pl"/>
<path d="M855.26 148.2H873.26M864.26 139.2V157.2" class="pl"/>
<path d="M942.55 148.2H960.55M951.55 139.2V157.2" class="pl"/>
<path d="M1029.85 148.2H1047.85M1038.85 139.2V157.2" class="pl"/>
<path d="M1117.14 218.93H1135.14M1126.14 209.93V227.93" class="pl"/>
<path d="M1204.43 513.58H1222.43M1213.43 504.58V522.58" class="pl"/>
<path d="M1291.73 518.3H1309.73M1300.73 509.3V527.3" class="pl"/>
<path d="M1379.02 518.3H1397.02M1388.02 509.3V527.3" class="pl"/>
</g>
</g>
<path d="M563.25 129.85H1427.45V131.59H565V535H1427.45V536.75H563.25Z" fill="#4a4a4a"/><rect x="1425.95" y="130.75" width="1.4" height="405.1" fill="#1c1c1c"/>
<path class="tk" d="M602.38 536.75V545.95M689.67 536.75V545.95M776.97 536.75V545.95M864.26 536.75V545.95M951.55 536.75V545.95M1038.85 536.75V545.95M1126.14 536.75V545.95M1213.43 536.75V545.95M1300.73 536.75V545.95M1388.02 536.75V545.95"/>
<text class="ax" text-anchor="middle" transform="translate(602.38 574.2) scale(1 1.02)">0.125</text>
<text class="ax" text-anchor="middle" transform="translate(689.67 608.3) scale(1 1.02)">0.25</text>
<text class="ax" text-anchor="middle" transform="translate(776.97 574.2) scale(1 1.02)">0.5</text>
<text class="ax" text-anchor="middle" transform="translate(864.26 608.3) scale(1 1.02)">1</text>
<text class="ax" text-anchor="middle" transform="translate(951.55 574.2) scale(1 1.02)">2</text>
<text class="ax" text-anchor="middle" transform="translate(1038.85 608.3) scale(1 1.02)">4</text>
<text class="ax" text-anchor="middle" transform="translate(1126.14 574.2) scale(1 1.02)">8</text>
<text class="ax" text-anchor="middle" transform="translate(1213.43 608.3) scale(1 1.02)">16</text>
<text class="ax" text-anchor="middle" transform="translate(1300.73 574.2) scale(1 1.02)">32</text>
<text class="ax" text-anchor="middle" transform="translate(1388.02 608.3) scale(1 1.02)">64</text>
<rect x="1445.35" y="73.7" width="864.2" height="56.15" fill="#D9D9D9"/><path d="M1445.35 73.7H2309.55V75.45H1447.1V128.1H2309.55V129.85H1445.35Z" fill="#4a4a4a"/><rect x="2308.05" y="74.6" width="1.4" height="54.35" fill="#1c1c1c"/>
<text class="st" text-anchor="middle" transform="translate(1877.3 112.1) scale(1 1.02)">60%fT&gt;MIC</text>
<g clip-path="url(#c2)">
<path d="M1445.2 518.3H2309.4M1445.2 425.77H2309.4M1445.2 333.25H2309.4M1445.2 240.72H2309.4M1445.2 148.2H2309.4M1484.48 129.7V536.6M1571.77 129.7V536.6M1659.07 129.7V536.6M1746.36 129.7V536.6M1833.65 129.7V536.6M1920.95 129.7V536.6M2008.24 129.7V536.6M2095.53 129.7V536.6M2182.83 129.7V536.6M2270.12 129.7V536.6" stroke="#EBEBEB" stroke-width="3.49" fill="none"/>
<path class="cv" d="M1445.2 148.2L1447.38 148.2L1449.56 148.2L1451.75 148.2L1453.93 148.2L1456.11 148.2L1458.29 148.2L1460.48 148.2L1462.66 148.2L1464.84 148.2L1467.02 148.2L1469.21 148.2L1471.39 148.2L1473.57 148.2L1475.75 148.2L1477.93 148.2L1480.12 148.2L1482.3 148.2L1484.48 148.2L1486.66 148.2L1488.85 148.2L1491.03 148.2L1493.21 148.2L1495.39 148.2L1497.58 148.2L1499.76 148.2L1501.94 148.2L1504.12 148.2L1506.31 148.2L1508.49 148.2L1510.67 148.2L1512.85 148.2L1515.03 148.2L1517.22 148.2L1519.4 148.2L1521.58 148.2L1523.76 148.2L1525.95 148.2L1528.13 148.2L1530.31 148.2L1532.49 148.2L1534.68 148.2L1536.86 148.2L1539.04 148.2L1541.22 148.2L1543.4 148.2L1545.59 148.2L1547.77 148.2L1549.95 148.2L1552.13 148.2L1554.32 148.2L1556.5 148.2L1558.68 148.2L1560.86 148.2L1563.05 148.2L1565.23 148.2L1567.41 148.2L1569.59 148.2L1571.77 148.2L1573.96 148.2L1576.14 148.2L1578.32 148.2L1580.5 148.2L1582.69 148.2L1584.87 148.2L1587.05 148.2L1589.23 148.2L1591.42 148.2L1593.6 148.2L1595.78 148.2L1597.96 148.2L1600.14 148.2L1602.33 148.2L1604.51 148.2L1606.69 148.2L1608.87 148.2L1611.06 148.2L1613.24 148.2L1615.42 148.2L1617.6 148.2L1619.79 148.2L1621.97 148.2L1624.15 148.2L1626.33 148.2L1628.52 148.2L1630.7 148.2L1632.88 148.2L1635.06 148.2L1637.24 148.2L1639.43 148.2L1641.61 148.2L1643.79 148.2L1645.97 148.2L1648.16 148.2L1650.34 148.2L1652.52 148.2L1654.7 148.2L1656.89 148.2L1659.07 148.2L1661.25 148.2L1663.43 148.2L1665.61 148.2L1667.8 148.2L1669.98 148.2L1672.16 148.2L1674.34 148.29L1676.53 148.29L1678.71 148.3L1680.89 148.31L1683.07 148.31L1685.26 148.32L1687.44 148.33L1689.62 148.34L1691.8 148.35L1693.98 148.37L1696.17 148.38L1698.35 148.4L1700.53 148.41L1702.71 148.43L1704.9 148.46L1707.08 148.48L1709.26 148.51L1711.44 148.53L1713.63 148.57L1715.81 148.6L1717.99 148.64L1720.17 148.68L1722.36 148.72L1724.54 148.76L1726.72 148.81L1728.9 148.86L1731.08 148.91L1733.27 148.96L1735.45 149.01L1737.63 149.06L1739.81 149.12L1742 149.17L1744.18 149.22L1746.36 149.27L1748.54 149.32L1750.73 149.37L1752.91 149.42L1755.09 149.47L1757.27 149.52L1759.45 149.57L1761.64 149.62L1763.82 149.67L1766 149.72L1768.18 149.77L1770.37 149.82L1772.55 149.87L1774.73 149.93L1776.91 149.98L1779.1 150.03L1781.28 150.09L1783.46 150.14L1785.64 150.2L1787.82 150.26L1790.01 150.32L1792.19 150.38L1794.37 150.44L1796.55 150.51L1798.74 150.58L1800.92 150.65L1803.1 150.72L1805.28 150.8L1807.47 150.88L1809.65 150.97L1811.83 151.07L1814.01 151.16L1816.19 151.27L1818.38 151.38L1820.56 151.5L1822.74 151.63L1824.92 151.76L1827.11 151.91L1829.29 152.07L1831.47 152.24L1833.65 152.42L1835.84 152.62L1838.02 152.84L1840.2 153.08L1842.38 153.34L1844.57 153.63L1846.75 153.95L1848.93 154.29L1851.11 154.66L1853.29 155.07L1855.48 155.51L1857.66 155.99L1859.84 156.51L1862.02 157.07L1864.21 157.68L1866.39 158.34L1868.57 159.05L1870.75 159.81L1872.94 160.63L1875.12 161.52L1877.3 162.47L1879.48 163.49L1881.66 164.59L1883.85 165.76L1886.03 167.01L1888.21 168.34L1890.39 169.76L1892.58 171.28L1894.76 172.88L1896.94 174.58L1899.12 176.38L1901.31 178.29L1903.49 180.29L1905.67 182.4L1907.85 184.62L1910.03 186.94L1912.22 189.38L1914.4 191.91L1916.58 194.56L1918.76 197.31L1920.95 200.16L1923.13 203.14L1925.31 206.29L1927.49 209.6L1929.68 213.07L1931.86 216.72L1934.04 220.55L1936.22 224.55L1938.41 228.73L1940.59 233.09L1942.77 237.63L1944.95 242.35L1947.13 247.24L1949.32 252.31L1951.5 257.54L1953.68 262.95L1955.86 268.51L1958.05 274.22L1960.23 280.08L1962.41 286.08L1964.59 292.2L1966.78 298.44L1968.96 304.78L1971.14 311.21L1973.32 317.72L1975.5 324.29L1977.69 330.91L1979.87 337.56L1982.05 344.23L1984.23 350.91L1986.42 357.56L1988.6 364.19L1990.78 370.77L1992.96 377.29L1995.15 383.73L1997.33 390.09L1999.51 396.33L2001.69 402.46L2003.87 408.45L2006.06 414.3L2008.24 420L2010.42 425.62L2012.6 431.21L2014.79 436.75L2016.97 442.2L2019.15 447.54L2021.33 452.74L2023.52 457.77L2025.7 462.6L2027.88 467.24L2030.06 471.64L2032.24 475.82L2034.43 479.75L2036.61 483.43L2038.79 486.85L2040.97 490.03L2043.16 492.96L2045.34 495.65L2047.52 498.11L2049.7 500.34L2051.89 502.36L2054.07 504.18L2056.25 505.82L2058.43 507.28L2060.62 508.58L2062.8 509.74L2064.98 510.76L2067.16 511.66L2069.34 512.45L2071.53 513.15L2073.71 513.76L2075.89 514.29L2078.07 514.76L2080.26 515.16L2082.44 515.51L2084.62 515.81L2086.8 516.08L2088.99 516.31L2091.17 516.5L2093.35 516.67L2095.53 516.82L2097.71 516.95L2099.9 517.07L2102.08 517.18L2104.26 517.28L2106.44 517.38L2108.63 517.46L2110.81 517.54L2112.99 517.61L2115.17 517.68L2117.36 517.74L2119.54 517.79L2121.72 517.84L2123.9 517.88L2126.08 517.92L2128.27 517.96L2130.45 517.99L2132.63 518.02L2134.81 518.04L2137 518.07L2139.18 518.09L2141.36 518.1L2143.54 518.12L2145.73 518.14L2147.91 518.15L2150.09 518.16L2152.27 518.17L2154.46 518.18L2156.64 518.19L2158.82 518.19L2161 518.2L2163.18 518.21L2165.37 518.21L2167.55 518.21L2169.73 518.3L2171.91 518.3L2174.1 518.3L2176.28 518.3L2178.46 518.3L2180.64 518.3L2182.83 518.3L2185.01 518.3L2187.19 518.3L2189.37 518.3L2191.55 518.3L2193.74 518.3L2195.92 518.3L2198.1 518.3L2200.28 518.3L2202.47 518.3L2204.65 518.3L2206.83 518.3L2209.01 518.3L2211.2 518.3L2213.38 518.3L2215.56 518.3L2217.74 518.3L2219.92 518.3L2222.11 518.3L2224.29 518.3L2226.47 518.3L2228.65 518.3L2230.84 518.3L2233.02 518.3L2235.2 518.3L2237.38 518.3L2239.57 518.3L2241.75 518.3L2243.93 518.3L2246.11 518.3L2248.29 518.3L2250.48 518.3L2252.66 518.3L2254.84 518.3L2257.02 518.3L2259.21 518.3L2261.39 518.3L2263.57 518.3L2265.75 518.3L2267.94 518.3L2270.12 518.3L2272.3 518.3L2274.48 518.3L2276.67 518.3L2278.85 518.3L2281.03 518.3L2283.21 518.3L2285.39 518.3L2287.58 518.3L2289.76 518.3L2291.94 518.3L2294.12 518.3L2296.31 518.3L2298.49 518.3L2300.67 518.3L2302.85 518.3L2305.04 518.3L2307.22 518.3L2309.4 518.3"/>
<path class="cv" d="M1445.2 149.65L1447.38 149.68L1449.56 149.72L1451.75 149.76L1453.93 149.79L1456.11 149.83L1458.29 149.87L1460.48 149.91L1462.66 149.95L1464.84 150L1467.02 150.04L1469.21 150.08L1471.39 150.13L1473.57 150.18L1475.75 150.22L1477.93 150.27L1480.12 150.32L1482.3 150.37L1484.48 150.42L1486.66 150.47L1488.85 150.52L1491.03 150.57L1493.21 150.62L1495.39 150.67L1497.58 150.73L1499.76 150.78L1501.94 150.84L1504.12 150.9L1506.31 150.96L1508.49 151.02L1510.67 151.08L1512.85 151.15L1515.03 151.21L1517.22 151.28L1519.4 151.35L1521.58 151.42L1523.76 151.49L1525.95 151.57L1528.13 151.64L1530.31 151.72L1532.49 151.8L1534.68 151.88L1536.86 151.96L1539.04 152.04L1541.22 152.13L1543.4 152.22L1545.59 152.31L1547.77 152.4L1549.95 152.5L1552.13 152.59L1554.32 152.69L1556.5 152.79L1558.68 152.9L1560.86 153L1563.05 153.11L1565.23 153.22L1567.41 153.33L1569.59 153.45L1571.77 153.57L1573.96 153.69L1576.14 153.81L1578.32 153.94L1580.5 154.07L1582.69 154.2L1584.87 154.34L1587.05 154.47L1589.23 154.62L1591.42 154.76L1593.6 154.91L1595.78 155.06L1597.96 155.22L1600.14 155.38L1602.33 155.54L1604.51 155.71L1606.69 155.88L1608.87 156.05L1611.06 156.23L1613.24 156.41L1615.42 156.6L1617.6 156.79L1619.79 156.99L1621.97 157.18L1624.15 157.39L1626.33 157.6L1628.52 157.81L1630.7 158.02L1632.88 158.25L1635.06 158.47L1637.24 158.7L1639.43 158.94L1641.61 159.18L1643.79 159.43L1645.97 159.68L1648.16 159.94L1650.34 160.2L1652.52 160.47L1654.7 160.74L1656.89 161.02L1659.07 161.3L1661.25 161.59L1663.43 161.88L1665.61 162.18L1667.8 162.48L1669.98 162.78L1672.16 163.09L1674.34 163.41L1676.53 163.72L1678.71 164.05L1680.89 164.38L1683.07 164.71L1685.26 165.05L1687.44 165.4L1689.62 165.75L1691.8 166.11L1693.98 166.48L1696.17 166.85L1698.35 167.24L1700.53 167.63L1702.71 168.03L1704.9 168.44L1707.08 168.87L1709.26 169.3L1711.44 169.74L1713.63 170.2L1715.81 170.67L1717.99 171.15L1720.17 171.64L1722.36 172.15L1724.54 172.67L1726.72 173.21L1728.9 173.77L1731.08 174.34L1733.27 174.93L1735.45 175.55L1737.63 176.18L1739.81 176.83L1742 177.5L1744.18 178.2L1746.36 178.92L1748.54 179.67L1750.73 180.44L1752.91 181.25L1755.09 182.08L1757.27 182.95L1759.45 183.85L1761.64 184.78L1763.82 185.74L1766 186.74L1768.18 187.76L1770.37 188.83L1772.55 189.93L1774.73 191.06L1776.91 192.23L1779.1 193.44L1781.28 194.68L1783.46 195.97L1785.64 197.28L1787.82 198.64L1790.01 200.04L1792.19 201.47L1794.37 202.95L1796.55 204.46L1798.74 206.02L1800.92 207.61L1803.1 209.25L1805.28 210.92L1807.47 212.64L1809.65 214.39L1811.83 216.19L1814.01 218.02L1816.19 219.9L1818.38 221.81L1820.56 223.77L1822.74 225.76L1824.92 227.79L1827.11 229.86L1829.29 231.96L1831.47 234.11L1833.65 236.28L1835.84 238.5L1838.02 240.75L1840.2 243.05L1842.38 245.39L1844.57 247.76L1846.75 250.18L1848.93 252.65L1851.11 255.15L1853.29 257.71L1855.48 260.3L1857.66 262.94L1859.84 265.63L1862.02 268.36L1864.21 271.14L1866.39 273.97L1868.57 276.84L1870.75 279.76L1872.94 282.73L1875.12 285.74L1877.3 288.81L1879.48 291.92L1881.66 295.08L1883.85 298.29L1886.03 301.54L1888.21 304.85L1890.39 308.2L1892.58 311.59L1894.76 315.03L1896.94 318.52L1899.12 322.05L1901.31 325.63L1903.49 329.25L1905.67 332.9L1907.85 336.6L1910.03 340.34L1912.22 344.11L1914.4 347.92L1916.58 351.76L1918.76 355.63L1920.95 359.53L1923.13 363.47L1925.31 367.48L1927.49 371.54L1929.68 375.64L1931.86 379.78L1934.04 383.96L1936.22 388.16L1938.41 392.37L1940.59 396.59L1942.77 400.81L1944.95 405.02L1947.13 409.21L1949.32 413.37L1951.5 417.51L1953.68 421.6L1955.86 425.64L1958.05 429.62L1960.23 433.55L1962.41 437.4L1964.59 441.17L1966.78 444.87L1968.96 448.47L1971.14 451.99L1973.32 455.41L1975.5 458.72L1977.69 461.94L1979.87 465.04L1982.05 468.04L1984.23 470.93L1986.42 473.7L1988.6 476.36L1990.78 478.91L1992.96 481.35L1995.15 483.67L1997.33 485.89L1999.51 487.99L2001.69 489.99L2003.87 491.88L2006.06 493.67L2008.24 495.35L2010.42 496.98L2012.6 498.55L2014.79 500.08L2016.97 501.55L2019.15 502.96L2021.33 504.29L2023.52 505.55L2025.7 506.74L2027.88 507.84L2030.06 508.87L2032.24 509.82L2034.43 510.69L2036.61 511.5L2038.79 512.23L2040.97 512.89L2043.16 513.49L2045.34 514.03L2047.52 514.51L2049.7 514.95L2051.89 515.33L2054.07 515.68L2056.25 515.98L2058.43 516.25L2060.62 516.49L2062.8 516.69L2064.98 516.88L2067.16 517.04L2069.34 517.18L2071.53 517.3L2073.71 517.4L2075.89 517.5L2078.07 517.58L2080.26 517.65L2082.44 517.71L2084.62 517.76L2086.8 517.81L2088.99 517.84L2091.17 517.88L2093.35 517.91L2095.53 517.93L2097.71 517.95L2099.9 517.97L2102.08 517.99L2104.26 518.01L2106.44 518.02L2108.63 518.04L2110.81 518.05L2112.99 518.07L2115.17 518.08L2117.36 518.09L2119.54 518.1L2121.72 518.11L2123.9 518.12L2126.08 518.13L2128.27 518.14L2130.45 518.15L2132.63 518.16L2134.81 518.16L2137 518.17L2139.18 518.18L2141.36 518.18L2143.54 518.19L2145.73 518.19L2147.91 518.2L2150.09 518.2L2152.27 518.2L2154.46 518.21L2156.64 518.21L2158.82 518.21L2161 518.3L2163.18 518.3L2165.37 518.3L2167.55 518.3L2169.73 518.3L2171.91 518.3L2174.1 518.3L2176.28 518.3L2178.46 518.3L2180.64 518.3L2182.83 518.3L2185.01 518.3L2187.19 518.3L2189.37 518.3L2191.55 518.3L2193.74 518.3L2195.92 518.3L2198.1 518.3L2200.28 518.3L2202.47 518.3L2204.65 518.3L2206.83 518.3L2209.01 518.3L2211.2 518.3L2213.38 518.3L2215.56 518.3L2217.74 518.3L2219.92 518.3L2222.11 518.3L2224.29 518.3L2226.47 518.3L2228.65 518.3L2230.84 518.3L2233.02 518.3L2235.2 518.3L2237.38 518.3L2239.57 518.3L2241.75 518.3L2243.93 518.3L2246.11 518.3L2248.29 518.3L2250.48 518.3L2252.66 518.3L2254.84 518.3L2257.02 518.3L2259.21 518.3L2261.39 518.3L2263.57 518.3L2265.75 518.3L2267.94 518.3L2270.12 518.3L2272.3 518.3L2274.48 518.3L2276.67 518.3L2278.85 518.3L2281.03 518.3L2283.21 518.3L2285.39 518.3L2287.58 518.3L2289.76 518.3L2291.94 518.3L2294.12 518.3L2296.31 518.3L2298.49 518.3L2300.67 518.3L2302.85 518.3L2305.04 518.3L2307.22 518.3L2309.4 518.3"/>
<path class="cv" d="M1445.2 148.2L1447.38 148.2L1449.56 148.2L1451.75 148.2L1453.93 148.2L1456.11 148.2L1458.29 148.2L1460.48 148.2L1462.66 148.2L1464.84 148.2L1467.02 148.2L1469.21 148.2L1471.39 148.2L1473.57 148.2L1475.75 148.2L1477.93 148.2L1480.12 148.2L1482.3 148.2L1484.48 148.2L1486.66 148.2L1488.85 148.2L1491.03 148.2L1493.21 148.2L1495.39 148.2L1497.58 148.2L1499.76 148.2L1501.94 148.2L1504.12 148.2L1506.31 148.2L1508.49 148.2L1510.67 148.2L1512.85 148.2L1515.03 148.2L1517.22 148.2L1519.4 148.2L1521.58 148.2L1523.76 148.2L1525.95 148.2L1528.13 148.2L1530.31 148.2L1532.49 148.2L1534.68 148.2L1536.86 148.2L1539.04 148.2L1541.22 148.2L1543.4 148.2L1545.59 148.2L1547.77 148.2L1549.95 148.2L1552.13 148.2L1554.32 148.2L1556.5 148.2L1558.68 148.2L1560.86 148.2L1563.05 148.2L1565.23 148.2L1567.41 148.2L1569.59 148.2L1571.77 148.2L1573.96 148.2L1576.14 148.2L1578.32 148.2L1580.5 148.2L1582.69 148.2L1584.87 148.2L1587.05 148.2L1589.23 148.2L1591.42 148.2L1593.6 148.2L1595.78 148.2L1597.96 148.2L1600.14 148.2L1602.33 148.2L1604.51 148.2L1606.69 148.2L1608.87 148.2L1611.06 148.2L1613.24 148.2L1615.42 148.2L1617.6 148.2L1619.79 148.2L1621.97 148.2L1624.15 148.2L1626.33 148.2L1628.52 148.2L1630.7 148.2L1632.88 148.2L1635.06 148.2L1637.24 148.2L1639.43 148.2L1641.61 148.2L1643.79 148.2L1645.97 148.2L1648.16 148.2L1650.34 148.2L1652.52 148.2L1654.7 148.2L1656.89 148.2L1659.07 148.2L1661.25 148.2L1663.43 148.2L1665.61 148.2L1667.8 148.2L1669.98 148.2L1672.16 148.2L1674.34 148.2L1676.53 148.2L1678.71 148.2L1680.89 148.2L1683.07 148.2L1685.26 148.2L1687.44 148.2L1689.62 148.2L1691.8 148.29L1693.98 148.29L1696.17 148.29L1698.35 148.29L1700.53 148.29L1702.71 148.3L1704.9 148.3L1707.08 148.3L1709.26 148.3L1711.44 148.31L1713.63 148.31L1715.81 148.31L1717.99 148.32L1720.17 148.32L1722.36 148.33L1724.54 148.33L1726.72 148.33L1728.9 148.34L1731.08 148.34L1733.27 148.35L1735.45 148.35L1737.63 148.36L1739.81 148.37L1742 148.37L1744.18 148.38L1746.36 148.39L1748.54 148.39L1750.73 148.4L1752.91 148.42L1755.09 148.43L1757.27 148.45L1759.45 148.47L1761.64 148.5L1763.82 148.53L1766 148.57L1768.18 148.61L1770.37 148.67L1772.55 148.72L1774.73 148.79L1776.91 148.87L1779.1 148.97L1781.28 149.07L1783.46 149.2L1785.64 149.34L1787.82 149.5L1790.01 149.69L1792.19 149.9L1794.37 150.14L1796.55 150.41L1798.74 150.72L1800.92 151.06L1803.1 151.45L1805.28 151.87L1807.47 152.34L1809.65 152.86L1811.83 153.42L1814.01 154.02L1816.19 154.68L1818.38 155.38L1820.56 156.12L1822.74 156.89L1824.92 157.71L1827.11 158.55L1829.29 159.41L1831.47 160.28L1833.65 161.15L1835.84 162.04L1838.02 162.95L1840.2 163.9L1842.38 164.86L1844.57 165.86L1846.75 166.88L1848.93 167.93L1851.11 169L1853.29 170.1L1855.48 171.23L1857.66 172.39L1859.84 173.58L1862.02 174.8L1864.21 176.05L1866.39 177.33L1868.57 178.65L1870.75 180L1872.94 181.4L1875.12 182.83L1877.3 184.31L1879.48 185.84L1881.66 187.42L1883.85 189.05L1886.03 190.74L1888.21 192.48L1890.39 194.3L1892.58 196.18L1894.76 198.14L1896.94 200.18L1899.12 202.3L1901.31 204.52L1903.49 206.83L1905.67 209.24L1907.85 211.76L1910.03 214.4L1912.22 217.17L1914.4 220.06L1916.58 223.1L1918.76 226.28L1920.95 229.62L1923.13 233.11L1925.31 236.75L1927.49 240.54L1929.68 244.47L1931.86 248.55L1934.04 252.77L1936.22 257.14L1938.41 261.66L1940.59 266.31L1942.77 271.11L1944.95 276.04L1947.13 281.1L1949.32 286.28L1951.5 291.58L1953.68 297L1955.86 302.52L1958.05 308.14L1960.23 313.84L1962.41 319.63L1964.59 325.48L1966.78 331.39L1968.96 337.34L1971.14 343.33L1973.32 349.34L1975.5 355.36L1977.69 361.38L1979.87 367.39L1982.05 373.37L1984.23 379.31L1986.42 385.19L1988.6 391.01L1990.78 396.76L1992.96 402.42L1995.15 407.98L1997.33 413.43L1999.51 418.76L2001.69 423.96L2003.87 429.03L2006.06 433.95L2008.24 438.73L2010.42 443.43L2012.6 448.1L2014.79 452.73L2016.97 457.28L2019.15 461.72L2021.33 466.04L2023.52 470.2L2025.7 474.2L2027.88 478.01L2030.06 481.62L2032.24 485.03L2034.43 488.22L2036.61 491.2L2038.79 493.96L2040.97 496.51L2043.16 498.85L2045.34 500.98L2047.52 502.92L2049.7 504.68L2051.89 506.26L2054.07 507.67L2056.25 508.94L2058.43 510.06L2060.62 511.06L2062.8 511.94L2064.98 512.71L2067.16 513.39L2069.34 513.99L2071.53 514.51L2073.71 514.96L2075.89 515.35L2078.07 515.69L2080.26 515.99L2082.44 516.25L2084.62 516.47L2086.8 516.66L2088.99 516.82L2091.17 516.97L2093.35 517.09L2095.53 517.19L2097.71 517.28L2099.9 517.37L2102.08 517.45L2104.26 517.52L2106.44 517.59L2108.63 517.65L2110.81 517.71L2112.99 517.76L2115.17 517.8L2117.36 517.85L2119.54 517.89L2121.72 517.92L2123.9 517.96L2126.08 517.99L2128.27 518.01L2130.45 518.04L2132.63 518.06L2134.81 518.08L2137 518.1L2139.18 518.11L2141.36 518.13L2143.54 518.14L2145.73 518.15L2147.91 518.16L2150.09 518.17L2152.27 518.18L2154.46 518.19L2156.64 518.19L2158.82 518.2L2161 518.2L2163.18 518.21L2165.37 518.21L2167.55 518.3L2169.73 518.3L2171.91 518.3L2174.1 518.3L2176.28 518.3L2178.46 518.3L2180.64 518.3L2182.83 518.3L2185.01 518.3L2187.19 518.3L2189.37 518.3L2191.55 518.3L2193.74 518.3L2195.92 518.3L2198.1 518.3L2200.28 518.3L2202.47 518.3L2204.65 518.3L2206.83 518.3L2209.01 518.3L2211.2 518.3L2213.38 518.3L2215.56 518.3L2217.74 518.3L2219.92 518.3L2222.11 518.3L2224.29 518.3L2226.47 518.3L2228.65 518.3L2230.84 518.3L2233.02 518.3L2235.2 518.3L2237.38 518.3L2239.57 518.3L2241.75 518.3L2243.93 518.3L2246.11 518.3L2248.29 518.3L2250.48 518.3L2252.66 518.3L2254.84 518.3L2257.02 518.3L2259.21 518.3L2261.39 518.3L2263.57 518.3L2265.75 518.3L2267.94 518.3L2270.12 518.3L2272.3 518.3L2274.48 518.3L2276.67 518.3L2278.85 518.3L2281.03 518.3L2283.21 518.3L2285.39 518.3L2287.58 518.3L2289.76 518.3L2291.94 518.3L2294.12 518.3L2296.31 518.3L2298.49 518.3L2300.67 518.3L2302.85 518.3L2305.04 518.3L2307.22 518.3L2309.4 518.3"/>
<path class="cv" d="M1445.2 148.2L1447.38 148.2L1449.56 148.2L1451.75 148.2L1453.93 148.2L1456.11 148.2L1458.29 148.2L1460.48 148.2L1462.66 148.2L1464.84 148.2L1467.02 148.2L1469.21 148.2L1471.39 148.2L1473.57 148.2L1475.75 148.2L1477.93 148.2L1480.12 148.2L1482.3 148.2L1484.48 148.2L1486.66 148.2L1488.85 148.2L1491.03 148.2L1493.21 148.2L1495.39 148.2L1497.58 148.2L1499.76 148.2L1501.94 148.2L1504.12 148.2L1506.31 148.2L1508.49 148.2L1510.67 148.2L1512.85 148.2L1515.03 148.2L1517.22 148.2L1519.4 148.2L1521.58 148.2L1523.76 148.2L1525.95 148.2L1528.13 148.2L1530.31 148.2L1532.49 148.2L1534.68 148.2L1536.86 148.2L1539.04 148.2L1541.22 148.2L1543.4 148.2L1545.59 148.2L1547.77 148.2L1549.95 148.2L1552.13 148.2L1554.32 148.2L1556.5 148.2L1558.68 148.2L1560.86 148.2L1563.05 148.2L1565.23 148.2L1567.41 148.2L1569.59 148.2L1571.77 148.2L1573.96 148.2L1576.14 148.2L1578.32 148.2L1580.5 148.2L1582.69 148.2L1584.87 148.2L1587.05 148.2L1589.23 148.2L1591.42 148.2L1593.6 148.2L1595.78 148.2L1597.96 148.2L1600.14 148.2L1602.33 148.2L1604.51 148.2L1606.69 148.2L1608.87 148.2L1611.06 148.2L1613.24 148.2L1615.42 148.2L1617.6 148.2L1619.79 148.2L1621.97 148.2L1624.15 148.2L1626.33 148.2L1628.52 148.2L1630.7 148.2L1632.88 148.2L1635.06 148.2L1637.24 148.2L1639.43 148.2L1641.61 148.2L1643.79 148.2L1645.97 148.2L1648.16 148.2L1650.34 148.2L1652.52 148.2L1654.7 148.2L1656.89 148.2L1659.07 148.2L1661.25 148.2L1663.43 148.2L1665.61 148.2L1667.8 148.2L1669.98 148.2L1672.16 148.2L1674.34 148.2L1676.53 148.2L1678.71 148.2L1680.89 148.2L1683.07 148.2L1685.26 148.2L1687.44 148.2L1689.62 148.2L1691.8 148.2L1693.98 148.2L1696.17 148.2L1698.35 148.2L1700.53 148.2L1702.71 148.2L1704.9 148.2L1707.08 148.2L1709.26 148.2L1711.44 148.2L1713.63 148.2L1715.81 148.2L1717.99 148.2L1720.17 148.2L1722.36 148.2L1724.54 148.2L1726.72 148.2L1728.9 148.2L1731.08 148.2L1733.27 148.2L1735.45 148.2L1737.63 148.2L1739.81 148.2L1742 148.2L1744.18 148.2L1746.36 148.2L1748.54 148.2L1750.73 148.2L1752.91 148.2L1755.09 148.2L1757.27 148.2L1759.45 148.2L1761.64 148.2L1763.82 148.2L1766 148.2L1768.18 148.2L1770.37 148.2L1772.55 148.2L1774.73 148.2L1776.91 148.2L1779.1 148.2L1781.28 148.2L1783.46 148.2L1785.64 148.2L1787.82 148.2L1790.01 148.2L1792.19 148.2L1794.37 148.2L1796.55 148.2L1798.74 148.2L1800.92 148.2L1803.1 148.2L1805.28 148.2L1807.47 148.2L1809.65 148.2L1811.83 148.2L1814.01 148.2L1816.19 148.2L1818.38 148.2L1820.56 148.2L1822.74 148.2L1824.92 148.2L1827.11 148.2L1829.29 148.2L1831.47 148.2L1833.65 148.2L1835.84 148.2L1838.02 148.2L1840.2 148.2L1842.38 148.2L1844.57 148.2L1846.75 148.2L1848.93 148.2L1851.11 148.2L1853.29 148.2L1855.48 148.2L1857.66 148.2L1859.84 148.2L1862.02 148.2L1864.21 148.2L1866.39 148.2L1868.57 148.2L1870.75 148.2L1872.94 148.2L1875.12 148.2L1877.3 148.2L1879.48 148.2L1881.66 148.2L1883.85 148.2L1886.03 148.2L1888.21 148.2L1890.39 148.2L1892.58 148.2L1894.76 148.2L1896.94 148.2L1899.12 148.2L1901.31 148.2L1903.49 148.2L1905.67 148.2L1907.85 148.2L1910.03 148.2L1912.22 148.2L1914.4 148.2L1916.58 148.2L1918.76 148.2L1920.95 148.2L1923.13 148.2L1925.31 148.2L1927.49 148.2L1929.68 148.2L1931.86 148.2L1934.04 148.2L1936.22 148.2L1938.41 148.26L1940.59 148.28L1942.77 148.32L1944.95 148.36L1947.13 148.42L1949.32 148.5L1951.5 148.6L1953.68 148.73L1955.86 148.9L1958.05 149.12L1960.23 149.4L1962.41 149.76L1964.59 150.2L1966.78 150.75L1968.96 151.42L1971.14 152.25L1973.32 153.25L1975.5 154.45L1977.69 155.89L1979.87 157.59L1982.05 159.6L1984.23 161.94L1986.42 164.65L1988.6 167.77L1990.78 171.33L1992.96 175.37L1995.15 179.91L1997.33 184.99L1999.51 190.62L2001.69 196.82L2003.87 203.61L2006.06 210.98L2008.24 218.93L2010.42 227.45L2012.6 236.51L2014.79 246.09L2016.97 256.15L2019.15 266.64L2021.33 277.5L2023.52 288.68L2025.7 300.1L2027.88 311.71L2030.06 323.42L2032.24 335.17L2034.43 346.88L2036.61 358.46L2038.79 369.87L2040.97 381.02L2043.16 391.86L2045.34 402.33L2047.52 412.38L2049.7 421.98L2051.89 431.08L2054.07 439.67L2056.25 447.72L2058.43 455.22L2060.62 462.18L2062.8 468.59L2064.98 474.46L2067.16 479.81L2069.34 484.66L2071.53 489.03L2073.71 492.94L2075.89 496.43L2078.07 499.53L2080.26 502.25L2082.44 504.65L2084.62 506.73L2086.8 508.54L2088.99 510.11L2091.17 511.45L2093.35 512.6L2095.53 513.58L2097.71 514.4L2099.9 515.1L2102.08 515.68L2104.26 516.17L2106.44 516.57L2108.63 516.9L2110.81 517.18L2112.99 517.4L2115.17 517.58L2117.36 517.73L2119.54 517.85L2121.72 517.94L2123.9 518.02L2126.08 518.08L2128.27 518.13L2130.45 518.17L2132.63 518.2L2134.81 518.22L2137 518.24L2139.18 518.3L2141.36 518.3L2143.54 518.3L2145.73 518.3L2147.91 518.3L2150.09 518.3L2152.27 518.3L2154.46 518.3L2156.64 518.3L2158.82 518.3L2161 518.3L2163.18 518.3L2165.37 518.3L2167.55 518.3L2169.73 518.3L2171.91 518.3L2174.1 518.3L2176.28 518.3L2178.46 518.3L2180.64 518.3L2182.83 518.3L2185.01 518.3L2187.19 518.3L2189.37 518.3L2191.55 518.3L2193.74 518.3L2195.92 518.3L2198.1 518.3L2200.28 518.3L2202.47 518.3L2204.65 518.3L2206.83 518.3L2209.01 518.3L2211.2 518.3L2213.38 518.3L2215.56 518.3L2217.74 518.3L2219.92 518.3L2222.11 518.3L2224.29 518.3L2226.47 518.3L2228.65 518.3L2230.84 518.3L2233.02 518.3L2235.2 518.3L2237.38 518.3L2239.57 518.3L2241.75 518.3L2243.93 518.3L2246.11 518.3L2248.29 518.3L2250.48 518.3L2252.66 518.3L2254.84 518.3L2257.02 518.3L2259.21 518.3L2261.39 518.3L2263.57 518.3L2265.75 518.3L2267.94 518.3L2270.12 518.3L2272.3 518.3L2274.48 518.3L2276.67 518.3L2278.85 518.3L2281.03 518.3L2283.21 518.3L2285.39 518.3L2287.58 518.3L2289.76 518.3L2291.94 518.3L2294.12 518.3L2296.31 518.3L2298.49 518.3L2300.67 518.3L2302.85 518.3L2305.04 518.3L2307.22 518.3L2309.4 518.3"/>
<path d="M1445.2 185.21H2309.4" stroke="#000" stroke-width="3.3" stroke-dasharray="13.95 13.95" fill="none"/>
<g class="mk">
<rect x="1479.11" y="142.5" width="5.95" height="11.5" class="tf"/>
<rect x="1566.4" y="142.5" width="5.95" height="11.5" class="tf"/>
<rect x="1653.69" y="142.5" width="5.95" height="11.5" class="tf"/>
<rect x="1740.99" y="143.5" width="5.95" height="11.5" class="tf"/>
<rect x="1828.28" y="146.5" width="5.95" height="11.5" class="tf"/>
<rect x="1915.57" y="194.5" width="5.95" height="11.5" class="tf"/>
<rect x="2002.86" y="414.5" width="5.95" height="11.5" class="tf"/>
<rect x="2090.16" y="511.5" width="5.95" height="11.5" class="tf"/>
<rect x="2177.45" y="512.5" width="5.95" height="11.5" class="tf"/>
<rect x="2264.74" y="512.5" width="5.95" height="11.5" class="tf"/>
<path d="M1484.48 140.52L1493.06 155.37H1475.91Z"/>
<path d="M1571.77 143.67L1580.35 158.52H1563.2Z"/>
<path d="M1659.07 151.4L1667.64 166.25H1650.49Z"/>
<path d="M1746.36 169.02L1754.93 183.87H1737.79Z"/>
<path d="M1833.65 226.38L1842.23 241.23H1825.08Z"/>
<path d="M1920.95 349.63L1929.52 364.48H1912.37Z"/>
<path d="M2008.24 485.45L2016.81 500.3H1999.67Z"/>
<path d="M2095.53 508.03L2104.11 522.88H2086.96Z"/>
<path d="M2182.83 508.4L2191.4 523.25H2174.25Z"/>
<path d="M2270.12 508.4L2278.69 523.25H2261.54Z"/>
<rect x="1478.08" y="141.8" width="12.8" height="12.8"/>
<rect x="1565.37" y="141.8" width="12.8" height="12.8"/>
<rect x="1652.67" y="141.8" width="12.8" height="12.8"/>
<rect x="1739.96" y="141.99" width="12.8" height="12.8"/>
<rect x="1827.25" y="154.75" width="12.8" height="12.8"/>
<rect x="1914.55" y="223.22" width="12.8" height="12.8"/>
<rect x="2001.84" y="432.33" width="12.8" height="12.8"/>
<rect x="2089.13" y="510.79" width="12.8" height="12.8"/>
<rect x="2176.43" y="511.9" width="12.8" height="12.8"/>
<rect x="2263.72" y="511.9" width="12.8" height="12.8"/>
<path d="M1475.48 148.2H1493.48M1484.48 139.2V157.2" class="pl"/>
<path d="M1562.77 148.2H1580.77M1571.77 139.2V157.2" class="pl"/>
<path d="M1650.07 148.2H1668.07M1659.07 139.2V157.2" class="pl"/>
<path d="M1737.36 148.2H1755.36M1746.36 139.2V157.2" class="pl"/>
<path d="M1824.65 148.2H1842.65M1833.65 139.2V157.2" class="pl"/>
<path d="M1911.95 148.2H1929.95M1920.95 139.2V157.2" class="pl"/>
<path d="M1999.24 218.93H2017.24M2008.24 209.93V227.93" class="pl"/>
<path d="M2086.53 513.58H2104.53M2095.53 504.58V522.58" class="pl"/>
<path d="M2173.83 518.3H2191.83M2182.83 509.3V527.3" class="pl"/>
<path d="M2261.12 518.3H2279.12M2270.12 509.3V527.3" class="pl"/>
</g>
</g>
<path d="M1445.35 129.85H2309.55V131.59H1447.1V535H2309.55V536.75H1445.35Z" fill="#4a4a4a"/><rect x="2308.05" y="130.75" width="1.4" height="405.1" fill="#1c1c1c"/>
<path class="tk" d="M1484.48 536.75V545.95M1571.77 536.75V545.95M1659.07 536.75V545.95M1746.36 536.75V545.95M1833.65 536.75V545.95M1920.95 536.75V545.95M2008.24 536.75V545.95M2095.53 536.75V545.95M2182.83 536.75V545.95M2270.12 536.75V545.95"/>
<text class="ax" text-anchor="middle" transform="translate(1484.48 574.2) scale(1 1.02)">0.125</text>
<text class="ax" text-anchor="middle" transform="translate(1571.77 608.3) scale(1 1.02)">0.25</text>
<text class="ax" text-anchor="middle" transform="translate(1659.07 574.2) scale(1 1.02)">0.5</text>
<text class="ax" text-anchor="middle" transform="translate(1746.36 608.3) scale(1 1.02)">1</text>
<text class="ax" text-anchor="middle" transform="translate(1833.65 574.2) scale(1 1.02)">2</text>
<text class="ax" text-anchor="middle" transform="translate(1920.95 608.3) scale(1 1.02)">4</text>
<text class="ax" text-anchor="middle" transform="translate(2008.24 574.2) scale(1 1.02)">8</text>
<text class="ax" text-anchor="middle" transform="translate(2095.53 608.3) scale(1 1.02)">16</text>
<text class="ax" text-anchor="middle" transform="translate(2182.83 574.2) scale(1 1.02)">32</text>
<text class="ax" text-anchor="middle" transform="translate(2270.12 608.3) scale(1 1.02)">64</text>
<text class="at" text-anchor="middle" transform="translate(1436.25 650.2) scale(1 1.02)">MIC (mg/L)</text>
</g>
<g transform="translate(0 660)">
<text class="tag" transform="translate(30.7 68.9) scale(1 1.02)">B</text>
<text class="lt" transform="translate(85.85 224.1) scale(1 1.02)">Dose</text>
<rect class="key" x="86.3" y="246.4" width="56.33" height="56.33"/>
<rect class="key" x="86.3" y="302.73" width="56.33" height="56.33"/>
<rect class="key" x="86.3" y="359.06" width="56.33" height="56.33"/>
<rect class="key" x="86.3" y="415.39" width="56.33" height="56.33"/>
<g class="mk"><rect x="109.09" y="268.5" width="5.95" height="11.5" class="tf"/></g>
<text class="ll" transform="translate(160.53 285.37) scale(1 1.02)">2g q8h inf. 2h</text>
<g class="mk"><path d="M114.47 321L123.04 335.85H105.89Z"/></g>
<text class="ll" transform="translate(160.53 341.7) scale(1 1.02)">2g q8h inf. 30min</text>
<g class="mk"><rect x="108.06" y="380.83" width="12.8" height="12.8"/></g>
<text class="ll" transform="translate(160.53 398.03) scale(1 1.02)">2g q8h inf. 4h</text>
<g class="mk"><path d="M105.47 443.56H123.47M114.47 434.56V452.56" class="pl"/></g>
<text class="ll" transform="translate(160.53 454.36) scale(1 1.02)">6g q24h inf. 24h</text>
<text class="at" text-anchor="middle" transform="translate(472.9 333.15) rotate(-90) scale(1 1.02)">PTA</text>
<text class="ax" text-anchor="end" transform="translate(546.9 528.8) scale(1 1.02)">0.00</text>
<text class="ax" text-anchor="end" transform="translate(546.9 436.27) scale(1 1.02)">0.25</text>
<text class="ax" text-anchor="end" transform="translate(546.9 343.75) scale(1 1.02)">0.50</text>
<text class="ax" text-anchor="end" transform="translate(546.9 251.22) scale(1 1.02)">0.75</text>
<text class="ax" text-anchor="end" transform="translate(546.9 158.7) scale(1 1.02)">1.00</text>
<path class="tk" d="M554.05 518.3H563.25M554.05 425.77H563.25M554.05 333.25H563.25M554.05 240.72H563.25M554.05 148.2H563.25"/>
<rect x="563.25" y="73.7" width="864.2" height="56.15" fill="#D9D9D9"/><path d="M563.25 73.7H1427.45V75.45H565V128.1H1427.45V129.85H563.25Z" fill="#4a4a4a"/><rect x="1425.95" y="74.6" width="1.4" height="54.35" fill="#1c1c1c"/>
<text class="st" text-anchor="middle" transform="translate(995.2 112.1) scale(1 1.02)">100%fT&gt;MIC</text>
<g clip-path="url(#c1)">
<path d="M563.1 518.3H1427.3M563.1 425.77H1427.3M563.1 333.25H1427.3M563.1 240.72H1427.3M563.1 148.2H1427.3M602.38 129.7V536.6M689.67 129.7V536.6M776.97 129.7V536.6M864.26 129.7V536.6M951.55 129.7V536.6M1038.85 129.7V536.6M1126.14 129.7V536.6M1213.43 129.7V536.6M1300.73 129.7V536.6M1388.02 129.7V536.6" stroke="#EBEBEB" stroke-width="3.49" fill="none"/>
<path class="cv" d="M563.1 149.27L565.28 149.3L567.46 149.33L569.65 149.35L571.83 149.38L574.01 149.41L576.19 149.44L578.38 149.47L580.56 149.5L582.74 149.53L584.92 149.56L587.11 149.59L589.29 149.62L591.47 149.65L593.65 149.69L595.83 149.72L598.02 149.76L600.2 149.79L602.38 149.83L604.56 149.86L606.75 149.89L608.93 149.93L611.11 149.96L613.29 150L615.48 150.04L617.66 150.07L619.84 150.11L622.02 150.15L624.21 150.19L626.39 150.23L628.57 150.28L630.75 150.32L632.93 150.37L635.12 150.41L637.3 150.46L639.48 150.51L641.66 150.56L643.85 150.61L646.03 150.66L648.21 150.72L650.39 150.77L652.58 150.83L654.76 150.89L656.94 150.95L659.12 151.01L661.3 151.07L663.49 151.14L665.67 151.2L667.85 151.27L670.03 151.34L672.22 151.41L674.4 151.48L676.58 151.56L678.76 151.64L680.95 151.71L683.13 151.79L685.31 151.88L687.49 151.96L689.67 152.05L691.86 152.14L694.04 152.23L696.22 152.32L698.4 152.42L700.59 152.52L702.77 152.62L704.95 152.73L707.13 152.83L709.32 152.94L711.5 153.06L713.68 153.17L715.86 153.29L718.04 153.42L720.23 153.54L722.41 153.67L724.59 153.8L726.77 153.94L728.96 154.08L731.14 154.23L733.32 154.37L735.5 154.53L737.69 154.68L739.87 154.84L742.05 155.01L744.23 155.18L746.42 155.35L748.6 155.53L750.78 155.71L752.96 155.9L755.14 156.09L757.33 156.29L759.51 156.5L761.69 156.71L763.87 156.92L766.06 157.14L768.24 157.37L770.42 157.6L772.6 157.84L774.79 158.09L776.97 158.34L779.15 158.6L781.33 158.87L783.51 159.14L785.7 159.42L787.88 159.71L790.06 160.01L792.24 160.31L794.43 160.62L796.61 160.94L798.79 161.28L800.97 161.61L803.16 161.96L805.34 162.32L807.52 162.69L809.7 163.07L811.88 163.46L814.07 163.86L816.25 164.27L818.43 164.69L820.61 165.12L822.8 165.57L824.98 166.03L827.16 166.5L829.34 166.99L831.53 167.48L833.71 167.99L835.89 168.52L838.07 169.06L840.26 169.62L842.44 170.19L844.62 170.77L846.8 171.38L848.98 172L851.17 172.64L853.35 173.29L855.53 173.96L857.71 174.65L859.9 175.37L862.08 176.1L864.26 176.85L866.44 177.62L868.63 178.41L870.81 179.23L872.99 180.08L875.17 180.95L877.35 181.85L879.54 182.77L881.72 183.72L883.9 184.69L886.08 185.7L888.27 186.73L890.45 187.79L892.63 188.88L894.81 190L897 191.15L899.18 192.33L901.36 193.54L903.54 194.78L905.72 196.05L907.91 197.36L910.09 198.69L912.27 200.06L914.45 201.47L916.64 202.9L918.82 204.37L921 205.88L923.18 207.41L925.37 208.98L927.55 210.59L929.73 212.23L931.91 213.9L934.09 215.61L936.28 217.35L938.46 219.13L940.64 220.94L942.82 222.79L945.01 224.67L947.19 226.58L949.37 228.53L951.55 230.51L953.74 232.52L955.92 234.57L958.1 236.64L960.28 238.75L962.47 240.89L964.65 243.06L966.83 245.26L969.01 247.5L971.19 249.77L973.38 252.08L975.56 254.42L977.74 256.8L979.92 259.22L982.11 261.67L984.29 264.16L986.47 266.69L988.65 269.25L990.84 271.86L993.02 274.5L995.2 277.18L997.38 279.9L999.56 282.67L1001.75 285.47L1003.93 288.31L1006.11 291.2L1008.29 294.12L1010.48 297.09L1012.66 300.1L1014.84 303.15L1017.02 306.24L1019.21 309.37L1021.39 312.54L1023.57 315.75L1025.75 319L1027.93 322.3L1030.12 325.63L1032.3 328.99L1034.48 332.4L1036.66 335.84L1038.85 339.32L1041.03 342.83L1043.21 346.38L1045.39 349.96L1047.58 353.57L1049.76 357.2L1051.94 360.86L1054.12 364.54L1056.31 368.24L1058.49 371.95L1060.67 375.68L1062.85 379.41L1065.03 383.15L1067.22 386.88L1069.4 390.62L1071.58 394.35L1073.76 398.07L1075.95 401.77L1078.13 405.46L1080.31 409.13L1082.49 412.77L1084.68 416.38L1086.86 419.96L1089.04 423.51L1091.22 427.01L1093.4 430.47L1095.59 433.89L1097.77 437.25L1099.95 440.57L1102.13 443.82L1104.32 447.02L1106.5 450.15L1108.68 453.22L1110.86 456.22L1113.05 459.15L1115.23 462.01L1117.41 464.79L1119.59 467.5L1121.77 470.13L1123.96 472.68L1126.14 475.15L1128.32 477.58L1130.5 479.99L1132.69 482.38L1134.87 484.73L1137.05 487.02L1139.23 489.25L1141.42 491.4L1143.6 493.46L1145.78 495.44L1147.96 497.32L1150.14 499.1L1152.33 500.77L1154.51 502.34L1156.69 503.81L1158.87 505.17L1161.06 506.43L1163.24 507.6L1165.42 508.66L1167.6 509.64L1169.79 510.53L1171.97 511.33L1174.15 512.06L1176.33 512.72L1178.52 513.32L1180.7 513.85L1182.88 514.32L1185.06 514.75L1187.24 515.12L1189.43 515.46L1191.61 515.76L1193.79 516.02L1195.97 516.25L1198.16 516.46L1200.34 516.64L1202.52 516.79L1204.7 516.93L1206.89 517.06L1209.07 517.16L1211.25 517.26L1213.43 517.34L1215.61 517.41L1217.8 517.48L1219.98 517.54L1222.16 517.6L1224.34 517.66L1226.53 517.71L1228.71 517.76L1230.89 517.8L1233.07 517.84L1235.26 517.88L1237.44 517.92L1239.62 517.95L1241.8 517.98L1243.98 518L1246.17 518.03L1248.35 518.05L1250.53 518.07L1252.71 518.09L1254.9 518.1L1257.08 518.12L1259.26 518.13L1261.44 518.14L1263.63 518.15L1265.81 518.16L1267.99 518.17L1270.17 518.18L1272.36 518.19L1274.54 518.19L1276.72 518.2L1278.9 518.2L1281.08 518.21L1283.27 518.21L1285.45 518.3L1287.63 518.3L1289.81 518.3L1292 518.3L1294.18 518.3L1296.36 518.3L1298.54 518.3L1300.73 518.3L1302.91 518.3L1305.09 518.3L1307.27 518.3L1309.45 518.3L1311.64 518.3L1313.82 518.3L1316 518.3L1318.18 518.3L1320.37 518.3L1322.55 518.3L1324.73 518.3L1326.91 518.3L1329.1 518.3L1331.28 518.3L1333.46 518.3L1335.64 518.3L1337.82 518.3L1340.01 518.3L1342.19 518.3L1344.37 518.3L1346.55 518.3L1348.74 518.3L1350.92 518.3L1353.1 518.3L1355.28 518.3L1357.47 518.3L1359.65 518.3L1361.83 518.3L1364.01 518.3L1366.19 518.3L1368.38 518.3L1370.56 518.3L1372.74 518.3L1374.92 518.3L1377.11 518.3L1379.29 518.3L1381.47 518.3L1383.65 518.3L1385.84 518.3L1388.02 518.3L1390.2 518.3L1392.38 518.3L1394.57 518.3L1396.75 518.3L1398.93 518.3L1401.11 518.3L1403.29 518.3L1405.48 518.3L1407.66 518.3L1409.84 518.3L1412.02 518.3L1414.21 518.3L1416.39 518.3L1418.57 518.3L1420.75 518.3L1422.94 518.3L1425.12 518.3L1427.3 518.3"/>
<path class="cv" d="M563.1 150.72L565.28 150.78L567.46 150.83L569.65 150.89L571.83 150.95L574.01 151.01L576.19 151.07L578.38 151.13L580.56 151.2L582.74 151.26L584.92 151.33L587.11 151.4L589.29 151.46L591.47 151.53L593.65 151.6L595.83 151.68L598.02 151.75L600.2 151.82L602.38 151.9L604.56 151.96L606.75 152.03L608.93 152.1L611.11 152.16L613.29 152.23L615.48 152.31L617.66 152.38L619.84 152.46L622.02 152.54L624.21 152.62L626.39 152.7L628.57 152.79L630.75 152.87L632.93 152.96L635.12 153.06L637.3 153.15L639.48 153.25L641.66 153.35L643.85 153.45L646.03 153.56L648.21 153.67L650.39 153.78L652.58 153.89L654.76 154.01L656.94 154.13L659.12 154.25L661.3 154.38L663.49 154.51L665.67 154.64L667.85 154.78L670.03 154.92L672.22 155.06L674.4 155.21L676.58 155.36L678.76 155.51L680.95 155.67L683.13 155.83L685.31 156L687.49 156.17L689.67 156.34L691.86 156.52L694.04 156.71L696.22 156.9L698.4 157.1L700.59 157.3L702.77 157.51L704.95 157.73L707.13 157.96L709.32 158.19L711.5 158.43L713.68 158.68L715.86 158.93L718.04 159.2L720.23 159.46L722.41 159.74L724.59 160.03L726.77 160.32L728.96 160.62L731.14 160.93L733.32 161.25L735.5 161.57L737.69 161.9L739.87 162.24L742.05 162.59L744.23 162.95L746.42 163.32L748.6 163.69L750.78 164.07L752.96 164.47L755.14 164.86L757.33 165.27L759.51 165.69L761.69 166.11L763.87 166.54L766.06 166.98L768.24 167.43L770.42 167.89L772.6 168.35L774.79 168.82L776.97 169.3L779.15 169.78L781.33 170.27L783.51 170.78L785.7 171.29L787.88 171.81L790.06 172.34L792.24 172.87L794.43 173.42L796.61 173.98L798.79 174.55L800.97 175.13L803.16 175.72L805.34 176.32L807.52 176.93L809.7 177.55L811.88 178.19L814.07 178.84L816.25 179.5L818.43 180.17L820.61 180.86L822.8 181.56L824.98 182.28L827.16 183.01L829.34 183.75L831.53 184.52L833.71 185.29L835.89 186.09L838.07 186.9L840.26 187.73L842.44 188.58L844.62 189.44L846.8 190.33L848.98 191.23L851.17 192.15L853.35 193.1L855.53 194.07L857.71 195.06L859.9 196.07L862.08 197.1L864.26 198.16L866.44 199.24L868.63 200.35L870.81 201.47L872.99 202.61L875.17 203.78L877.35 204.96L879.54 206.17L881.72 207.4L883.9 208.66L886.08 209.94L888.27 211.24L890.45 212.57L892.63 213.93L894.81 215.31L897 216.72L899.18 218.15L901.36 219.62L903.54 221.11L905.72 222.63L907.91 224.18L910.09 225.77L912.27 227.38L914.45 229.03L916.64 230.71L918.82 232.42L921 234.17L923.18 235.95L925.37 237.77L927.55 239.62L929.73 241.51L931.91 243.44L934.09 245.41L936.28 247.41L938.46 249.45L940.64 251.53L942.82 253.66L945.01 255.82L947.19 258.02L949.37 260.27L951.55 262.56L953.74 264.9L955.92 267.28L958.1 269.71L960.28 272.19L962.47 274.72L964.65 277.29L966.83 279.91L969.01 282.58L971.19 285.29L973.38 288.05L975.56 290.85L977.74 293.7L979.92 296.59L982.11 299.52L984.29 302.49L986.47 305.49L988.65 308.54L990.84 311.62L993.02 314.74L995.2 317.9L997.38 321.08L999.56 324.3L1001.75 327.54L1003.93 330.81L1006.11 334.11L1008.29 337.42L1010.48 340.76L1012.66 344.12L1014.84 347.5L1017.02 350.89L1019.21 354.29L1021.39 357.7L1023.57 361.12L1025.75 364.55L1027.93 367.97L1030.12 371.4L1032.3 374.83L1034.48 378.25L1036.66 381.66L1038.85 385.06L1041.03 388.47L1043.21 391.89L1045.39 395.32L1047.58 398.76L1049.76 402.2L1051.94 405.63L1054.12 409.06L1056.31 412.47L1058.49 415.87L1060.67 419.24L1062.85 422.58L1065.03 425.89L1067.22 429.17L1069.4 432.41L1071.58 435.6L1073.76 438.74L1075.95 441.83L1078.13 444.87L1080.31 447.85L1082.49 450.76L1084.68 453.61L1086.86 456.4L1089.04 459.12L1091.22 461.76L1093.4 464.34L1095.59 466.84L1097.77 469.27L1099.95 471.61L1102.13 473.89L1104.32 476.08L1106.5 478.2L1108.68 480.24L1110.86 482.21L1113.05 484.1L1115.23 485.91L1117.41 487.65L1119.59 489.31L1121.77 490.9L1123.96 492.42L1126.14 493.87L1128.32 495.27L1130.5 496.62L1132.69 497.92L1134.87 499.18L1137.05 500.39L1139.23 501.54L1141.42 502.65L1143.6 503.7L1145.78 504.7L1147.96 505.65L1150.14 506.55L1152.33 507.4L1154.51 508.2L1156.69 508.95L1158.87 509.65L1161.06 510.31L1163.24 510.93L1165.42 511.5L1167.6 512.04L1169.79 512.54L1171.97 513L1174.15 513.42L1176.33 513.82L1178.52 514.18L1180.7 514.52L1182.88 514.83L1185.06 515.11L1187.24 515.37L1189.43 515.61L1191.61 515.83L1193.79 516.02L1195.97 516.21L1198.16 516.37L1200.34 516.53L1202.52 516.66L1204.7 516.79L1206.89 516.9L1209.07 517.01L1211.25 517.1L1213.43 517.19L1215.61 517.27L1217.8 517.35L1219.98 517.42L1222.16 517.49L1224.34 517.55L1226.53 517.61L1228.71 517.67L1230.89 517.72L1233.07 517.77L1235.26 517.81L1237.44 517.85L1239.62 517.89L1241.8 517.93L1243.98 517.96L1246.17 517.99L1248.35 518.01L1250.53 518.04L1252.71 518.06L1254.9 518.08L1257.08 518.1L1259.26 518.11L1261.44 518.13L1263.63 518.14L1265.81 518.15L1267.99 518.16L1270.17 518.17L1272.36 518.18L1274.54 518.19L1276.72 518.19L1278.9 518.2L1281.08 518.21L1283.27 518.21L1285.45 518.3L1287.63 518.3L1289.81 518.3L1292 518.3L1294.18 518.3L1296.36 518.3L1298.54 518.3L1300.73 518.3L1302.91 518.3L1305.09 518.3L1307.27 518.3L1309.45 518.3L1311.64 518.3L1313.82 518.3L1316 518.3L1318.18 518.3L1320.37 518.3L1322.55 518.3L1324.73 518.3L1326.91 518.3L1329.1 518.3L1331.28 518.3L1333.46 518.3L1335.64 518.3L1337.82 518.3L1340.01 518.3L1342.19 518.3L1344.37 518.3L1346.55 518.3L1348.74 518.3L1350.92 518.3L1353.1 518.3L1355.28 518.3L1357.47 518.3L1359.65 518.3L1361.83 518.3L1364.01 518.3L1366.19 518.3L1368.38 518.3L1370.56 518.3L1372.74 518.3L1374.92 518.3L1377.11 518.3L1379.29 518.3L1381.47 518.3L1383.65 518.3L1385.84 518.3L1388.02 518.3L1390.2 518.3L1392.38 518.3L1394.57 518.3L1396.75 518.3L1398.93 518.3L1401.11 518.3L1403.29 518.3L1405.48 518.3L1407.66 518.3L1409.84 518.3L1412.02 518.3L1414.21 518.3L1416.39 518.3L1418.57 518.3L1420.75 518.3L1422.94 518.3L1425.12 518.3L1427.3 518.3"/>
<path class="cv" d="M563.1 148.29L565.28 148.3L567.46 148.3L569.65 148.31L571.83 148.31L574.01 148.31L576.19 148.32L578.38 148.32L580.56 148.33L582.74 148.33L584.92 148.34L587.11 148.34L589.29 148.35L591.47 148.35L593.65 148.36L595.83 148.37L598.02 148.37L600.2 148.38L602.38 148.39L604.56 148.39L606.75 148.4L608.93 148.41L611.11 148.42L613.29 148.43L615.48 148.44L617.66 148.45L619.84 148.46L622.02 148.48L624.21 148.49L626.39 148.5L628.57 148.51L630.75 148.53L632.93 148.54L635.12 148.55L637.3 148.57L639.48 148.58L641.66 148.59L643.85 148.61L646.03 148.62L648.21 148.64L650.39 148.65L652.58 148.67L654.76 148.69L656.94 148.7L659.12 148.72L661.3 148.73L663.49 148.75L665.67 148.77L667.85 148.78L670.03 148.8L672.22 148.81L674.4 148.83L676.58 148.85L678.76 148.86L680.95 148.88L683.13 148.89L685.31 148.91L687.49 148.93L689.67 148.94L691.86 148.95L694.04 148.97L696.22 148.98L698.4 149L700.59 149.01L702.77 149.02L704.95 149.03L707.13 149.05L709.32 149.06L711.5 149.07L713.68 149.08L715.86 149.09L718.04 149.1L720.23 149.11L722.41 149.12L724.59 149.13L726.77 149.14L728.96 149.15L731.14 149.16L733.32 149.17L735.5 149.19L737.69 149.2L739.87 149.21L742.05 149.22L744.23 149.23L746.42 149.24L748.6 149.25L750.78 149.27L752.96 149.28L755.14 149.3L757.33 149.31L759.51 149.33L761.69 149.34L763.87 149.36L766.06 149.38L768.24 149.4L770.42 149.42L772.6 149.45L774.79 149.47L776.97 149.5L779.15 149.52L781.33 149.55L783.51 149.59L785.7 149.63L787.88 149.67L790.06 149.71L792.24 149.76L794.43 149.81L796.61 149.87L798.79 149.92L800.97 149.99L803.16 150.06L805.34 150.13L807.52 150.2L809.7 150.29L811.88 150.37L814.07 150.46L816.25 150.56L818.43 150.66L820.61 150.77L822.8 150.88L824.98 151L827.16 151.13L829.34 151.26L831.53 151.4L833.71 151.54L835.89 151.7L838.07 151.86L840.26 152.02L842.44 152.19L844.62 152.37L846.8 152.56L848.98 152.76L851.17 152.96L853.35 153.17L855.53 153.38L857.71 153.6L859.9 153.83L862.08 154.07L864.26 154.31L866.44 154.56L868.63 154.82L870.81 155.09L872.99 155.37L875.17 155.67L877.35 155.98L879.54 156.3L881.72 156.63L883.9 156.99L886.08 157.35L888.27 157.73L890.45 158.13L892.63 158.54L894.81 158.98L897 159.43L899.18 159.89L901.36 160.38L903.54 160.89L905.72 161.42L907.91 161.97L910.09 162.54L912.27 163.13L914.45 163.75L916.64 164.39L918.82 165.06L921 165.75L923.18 166.47L925.37 167.21L927.55 167.99L929.73 168.79L931.91 169.62L934.09 170.48L936.28 171.38L938.46 172.3L940.64 173.26L942.82 174.24L945.01 175.27L947.19 176.33L949.37 177.42L951.55 178.55L953.74 179.71L955.92 180.92L958.1 182.16L960.28 183.44L962.47 184.76L964.65 186.12L966.83 187.52L969.01 188.97L971.19 190.46L973.38 192L975.56 193.59L977.74 195.22L979.92 196.9L982.11 198.64L984.29 200.42L986.47 202.26L988.65 204.16L990.84 206.11L993.02 208.11L995.2 210.18L997.38 212.3L999.56 214.49L1001.75 216.74L1003.93 219.05L1006.11 221.43L1008.29 223.87L1010.48 226.38L1012.66 228.95L1014.84 231.6L1017.02 234.32L1019.21 237.1L1021.39 239.96L1023.57 242.9L1025.75 245.9L1027.93 248.98L1030.12 252.14L1032.3 255.37L1034.48 258.68L1036.66 262.06L1038.85 265.52L1041.03 269.06L1043.21 272.68L1045.39 276.38L1047.58 280.16L1049.76 284.02L1051.94 287.96L1054.12 291.97L1056.31 296.05L1058.49 300.2L1060.67 304.41L1062.85 308.69L1065.03 313.02L1067.22 317.41L1069.4 321.85L1071.58 326.34L1073.76 330.87L1075.95 335.44L1078.13 340.05L1080.31 344.68L1082.49 349.33L1084.68 354L1086.86 358.68L1089.04 363.37L1091.22 368.06L1093.4 372.74L1095.59 377.41L1097.77 382.07L1099.95 386.7L1102.13 391.3L1104.32 395.87L1106.5 400.39L1108.68 404.87L1110.86 409.3L1113.05 413.66L1115.23 417.97L1117.41 422.2L1119.59 426.36L1121.77 430.45L1123.96 434.45L1126.14 438.36L1128.32 442.22L1130.5 446.06L1132.69 449.86L1134.87 453.61L1137.05 457.29L1139.23 460.9L1141.42 464.41L1143.6 467.83L1145.78 471.13L1147.96 474.32L1150.14 477.38L1152.33 480.31L1154.51 483.11L1156.69 485.77L1158.87 488.29L1161.06 490.66L1163.24 492.9L1165.42 495L1167.6 496.97L1169.79 498.8L1171.97 500.5L1174.15 502.08L1176.33 503.53L1178.52 504.88L1180.7 506.11L1182.88 507.24L1185.06 508.27L1187.24 509.22L1189.43 510.08L1191.61 510.86L1193.79 511.56L1195.97 512.2L1198.16 512.78L1200.34 513.3L1202.52 513.77L1204.7 514.19L1206.89 514.57L1209.07 514.91L1211.25 515.22L1213.43 515.49L1215.61 515.74L1217.8 515.97L1219.98 516.19L1222.16 516.4L1224.34 516.59L1226.53 516.76L1228.71 516.92L1230.89 517.07L1233.07 517.2L1235.26 517.32L1237.44 517.43L1239.62 517.52L1241.8 517.61L1243.98 517.69L1246.17 517.76L1248.35 517.82L1250.53 517.87L1252.71 517.92L1254.9 517.96L1257.08 518L1259.26 518.03L1261.44 518.06L1263.63 518.08L1265.81 518.11L1267.99 518.12L1270.17 518.14L1272.36 518.15L1274.54 518.17L1276.72 518.18L1278.9 518.19L1281.08 518.2L1283.27 518.2L1285.45 518.21L1287.63 518.21L1289.81 518.3L1292 518.3L1294.18 518.3L1296.36 518.3L1298.54 518.3L1300.73 518.3L1302.91 518.3L1305.09 518.3L1307.27 518.3L1309.45 518.3L1311.64 518.3L1313.82 518.3L1316 518.3L1318.18 518.3L1320.37 518.3L1322.55 518.3L1324.73 518.3L1326.91 518.3L1329.1 518.3L1331.28 518.3L1333.46 518.3L1335.64 518.3L1337.82 518.3L1340.01 518.3L1342.19 518.3L1344.37 518.3L1346.55 518.3L1348.74 518.3L1350.92 518.3L1353.1 518.3L1355.28 518.3L1357.47 518.3L1359.65 518.3L1361.83 518.3L1364.01 518.3L1366.19 518.3L1368.38 518.3L1370.56 518.3L1372.74 518.3L1374.92 518.3L1377.11 518.3L1379.29 518.3L1381.47 518.3L1383.65 518.3L1385.84 518.3L1388.02 518.3L1390.2 518.3L1392.38 518.3L1394.57 518.3L1396.75 518.3L1398.93 518.3L1401.11 518.3L1403.29 518.3L1405.48 518.3L1407.66 518.3L1409.84 518.3L1412.02 518.3L1414.21 518.3L1416.39 518.3L1418.57 518.3L1420.75 518.3L1422.94 518.3L1425.12 518.3L1427.3 518.3"/>
<path class="cv" d="M563.1 148.2L565.28 148.2L567.46 148.2L569.65 148.2L571.83 148.2L574.01 148.2L576.19 148.2L578.38 148.2L580.56 148.2L582.74 148.2L584.92 148.2L587.11 148.2L589.29 148.2L591.47 148.2L593.65 148.2L595.83 148.2L598.02 148.2L600.2 148.2L602.38 148.2L604.56 148.2L606.75 148.2L608.93 148.2L611.11 148.2L613.29 148.2L615.48 148.2L617.66 148.2L619.84 148.2L622.02 148.2L624.21 148.2L626.39 148.2L628.57 148.2L630.75 148.2L632.93 148.2L635.12 148.2L637.3 148.2L639.48 148.2L641.66 148.2L643.85 148.2L646.03 148.2L648.21 148.2L650.39 148.2L652.58 148.2L654.76 148.2L656.94 148.2L659.12 148.2L661.3 148.2L663.49 148.2L665.67 148.2L667.85 148.2L670.03 148.2L672.22 148.2L674.4 148.2L676.58 148.2L678.76 148.2L680.95 148.2L683.13 148.2L685.31 148.2L687.49 148.2L689.67 148.2L691.86 148.2L694.04 148.2L696.22 148.2L698.4 148.2L700.59 148.2L702.77 148.2L704.95 148.2L707.13 148.2L709.32 148.2L711.5 148.2L713.68 148.2L715.86 148.2L718.04 148.2L720.23 148.2L722.41 148.2L724.59 148.2L726.77 148.2L728.96 148.2L731.14 148.2L733.32 148.2L735.5 148.2L737.69 148.2L739.87 148.2L742.05 148.2L744.23 148.2L746.42 148.2L748.6 148.2L750.78 148.2L752.96 148.2L755.14 148.2L757.33 148.2L759.51 148.2L761.69 148.2L763.87 148.2L766.06 148.2L768.24 148.2L770.42 148.2L772.6 148.2L774.79 148.2L776.97 148.2L779.15 148.2L781.33 148.2L783.51 148.2L785.7 148.2L787.88 148.2L790.06 148.2L792.24 148.2L794.43 148.2L796.61 148.2L798.79 148.2L800.97 148.2L803.16 148.2L805.34 148.2L807.52 148.2L809.7 148.2L811.88 148.2L814.07 148.2L816.25 148.2L818.43 148.2L820.61 148.2L822.8 148.2L824.98 148.2L827.16 148.2L829.34 148.2L831.53 148.2L833.71 148.2L835.89 148.2L838.07 148.2L840.26 148.2L842.44 148.2L844.62 148.2L846.8 148.2L848.98 148.2L851.17 148.2L853.35 148.2L855.53 148.2L857.71 148.2L859.9 148.2L862.08 148.2L864.26 148.2L866.44 148.2L868.63 148.2L870.81 148.2L872.99 148.2L875.17 148.2L877.35 148.2L879.54 148.2L881.72 148.2L883.9 148.2L886.08 148.2L888.27 148.2L890.45 148.2L892.63 148.2L894.81 148.2L897 148.2L899.18 148.2L901.36 148.2L903.54 148.2L905.72 148.2L907.91 148.2L910.09 148.2L912.27 148.2L914.45 148.2L916.64 148.2L918.82 148.2L921 148.2L923.18 148.2L925.37 148.2L927.55 148.2L929.73 148.2L931.91 148.2L934.09 148.2L936.28 148.2L938.46 148.2L940.64 148.2L942.82 148.2L945.01 148.2L947.19 148.2L949.37 148.2L951.55 148.2L953.74 148.2L955.92 148.2L958.1 148.2L960.28 148.2L962.47 148.2L964.65 148.2L966.83 148.2L969.01 148.2L971.19 148.2L973.38 148.2L975.56 148.2L977.74 148.2L979.92 148.2L982.11 148.2L984.29 148.2L986.47 148.2L988.65 148.2L990.84 148.2L993.02 148.2L995.2 148.2L997.38 148.2L999.56 148.2L1001.75 148.2L1003.93 148.2L1006.11 148.2L1008.29 148.2L1010.48 148.2L1012.66 148.2L1014.84 148.2L1017.02 148.2L1019.21 148.2L1021.39 148.2L1023.57 148.2L1025.75 148.2L1027.93 148.2L1030.12 148.2L1032.3 148.2L1034.48 148.2L1036.66 148.2L1038.85 148.2L1041.03 148.2L1043.21 148.2L1045.39 148.2L1047.58 148.2L1049.76 148.2L1051.94 148.2L1054.12 148.2L1056.31 148.2L1058.49 148.2L1060.67 148.2L1062.85 148.2L1065.03 148.2L1067.22 148.2L1069.4 148.2L1071.58 148.2L1073.76 148.2L1075.95 148.2L1078.13 148.2L1080.31 148.2L1082.49 148.2L1084.68 148.2L1086.86 148.2L1089.04 148.2L1091.22 148.2L1093.4 148.2L1095.59 148.2L1097.77 148.2L1099.95 148.2L1102.13 148.2L1104.32 148.2L1106.5 148.2L1108.68 148.2L1110.86 148.27L1113.05 148.3L1115.23 148.34L1117.41 148.39L1119.59 148.46L1121.77 148.55L1123.96 148.66L1126.14 148.82L1128.32 149.01L1130.5 149.26L1132.69 149.58L1134.87 149.97L1137.05 150.47L1139.23 151.08L1141.42 151.83L1143.6 152.74L1145.78 153.85L1147.96 155.17L1150.14 156.74L1152.33 158.6L1154.51 160.77L1156.69 163.3L1158.87 166.22L1161.06 169.56L1163.24 173.37L1165.42 177.66L1167.6 182.48L1169.79 187.84L1171.97 193.77L1174.15 200.28L1176.33 207.37L1178.52 215.04L1180.7 223.29L1182.88 232.1L1185.06 241.43L1187.24 251.27L1189.43 261.55L1191.61 272.24L1193.79 283.28L1195.97 294.59L1198.16 306.12L1200.34 317.79L1202.52 329.53L1204.7 341.27L1206.89 352.92L1209.07 364.42L1211.25 375.7L1213.43 386.7L1215.61 397.35L1217.8 407.61L1219.98 417.43L1222.16 426.77L1224.34 435.61L1226.53 443.92L1228.71 451.69L1230.89 458.91L1233.07 465.58L1235.26 471.71L1237.44 477.31L1239.62 482.39L1241.8 486.99L1243.98 491.12L1246.17 494.81L1248.35 498.09L1250.53 500.99L1252.71 503.54L1254.9 505.77L1257.08 507.71L1259.26 509.39L1261.44 510.83L1263.63 512.07L1265.81 513.13L1267.99 514.02L1270.17 514.78L1272.36 515.41L1274.54 515.94L1276.72 516.39L1278.9 516.75L1281.08 517.05L1283.27 517.3L1285.45 517.5L1287.63 517.66L1289.81 517.79L1292 517.9L1294.18 517.99L1296.36 518.05L1298.54 518.11L1300.73 518.15L1302.91 518.18L1305.09 518.21L1307.27 518.23L1309.45 518.3L1311.64 518.3L1313.82 518.3L1316 518.3L1318.18 518.3L1320.37 518.3L1322.55 518.3L1324.73 518.3L1326.91 518.3L1329.1 518.3L1331.28 518.3L1333.46 518.3L1335.64 518.3L1337.82 518.3L1340.01 518.3L1342.19 518.3L1344.37 518.3L1346.55 518.3L1348.74 518.3L1350.92 518.3L1353.1 518.3L1355.28 518.3L1357.47 518.3L1359.65 518.3L1361.83 518.3L1364.01 518.3L1366.19 518.3L1368.38 518.3L1370.56 518.3L1372.74 518.3L1374.92 518.3L1377.11 518.3L1379.29 518.3L1381.47 518.3L1383.65 518.3L1385.84 518.3L1388.02 518.3L1390.2 518.3L1392.38 518.3L1394.57 518.3L1396.75 518.3L1398.93 518.3L1401.11 518.3L1403.29 518.3L1405.48 518.3L1407.66 518.3L1409.84 518.3L1412.02 518.3L1414.21 518.3L1416.39 518.3L1418.57 518.3L1420.75 518.3L1422.94 518.3L1425.12 518.3L1427.3 518.3"/>
<path d="M563.1 185.21H1427.3" stroke="#000" stroke-width="3.3" stroke-dasharray="13.95 13.95" fill="none"/>
<g class="mk">
<rect x="597.01" y="144.5" width="5.95" height="11.5" class="tf"/>
<rect x="684.3" y="146.5" width="5.95" height="11.5" class="tf"/>
<rect x="771.59" y="152.5" width="5.95" height="11.5" class="tf"/>
<rect x="858.89" y="171.5" width="5.95" height="11.5" class="tf"/>
<rect x="946.18" y="224.5" width="5.95" height="11.5" class="tf"/>
<rect x="1033.47" y="333.5" width="5.95" height="11.5" class="tf"/>
<rect x="1120.76" y="469.5" width="5.95" height="11.5" class="tf"/>
<rect x="1208.06" y="511.5" width="5.95" height="11.5" class="tf"/>
<rect x="1295.35" y="512.5" width="5.95" height="11.5" class="tf"/>
<rect x="1382.64" y="512.5" width="5.95" height="11.5" class="tf"/>
<path d="M602.38 142L610.96 156.85H593.81Z"/>
<path d="M689.67 146.44L698.25 161.29H681.1Z"/>
<path d="M776.97 159.4L785.54 174.25H768.39Z"/>
<path d="M864.26 188.26L872.83 203.11H855.69Z"/>
<path d="M951.55 252.66L960.13 267.51H942.98Z"/>
<path d="M1038.85 375.16L1047.42 390.01H1030.27Z"/>
<path d="M1126.14 483.97L1134.71 498.82H1117.57Z"/>
<path d="M1213.43 507.29L1222.01 522.14H1204.86Z"/>
<path d="M1300.73 508.4L1309.3 523.25H1292.15Z"/>
<path d="M1388.02 508.4L1396.59 523.25H1379.44Z"/>
<rect x="595.98" y="141.99" width="12.8" height="12.8"/>
<rect x="683.27" y="142.54" width="12.8" height="12.8"/>
<rect x="770.57" y="143.1" width="12.8" height="12.8"/>
<rect x="857.86" y="147.91" width="12.8" height="12.8"/>
<rect x="945.15" y="172.15" width="12.8" height="12.8"/>
<rect x="1032.45" y="259.12" width="12.8" height="12.8"/>
<rect x="1119.74" y="431.96" width="12.8" height="12.8"/>
<rect x="1207.03" y="509.09" width="12.8" height="12.8"/>
<rect x="1294.33" y="511.9" width="12.8" height="12.8"/>
<rect x="1381.62" y="511.9" width="12.8" height="12.8"/>
<path d="M593.38 148.2H611.38M602.38 139.2V157.2" class="pl"/>
<path d="M680.67 148.2H698.67M689.67 139.2V157.2" class="pl"/>
<path d="M767.97 148.2H785.97M776.97 139.2V157.2" class="pl"/>
<path d="M855.26 148.2H873.26M864.26 139.2V157.2" class="pl"/>
<path d="M942.55 148.2H960.55M951.55 139.2V157.2" class="pl"/>
<path d="M1029.85 148.2H1047.85M1038.85 139.2V157.2" class="pl"/>
<path d="M1117.14 148.82H1135.14M1126.14 139.82V157.82" class="pl"/>
<path d="M1204.43 386.7H1222.43M1213.43 377.7V395.7" class="pl"/>
<path d="M1291.73 518.15H1309.73M1300.73 509.15V527.15" class="pl"/>
<path d="M1379.02 518.3H1397.02M1388.02 509.3V527.3" class="pl"/>
</g>
</g>
<path d="M563.25 129.85H1427.45V131.59H565V535H1427.45V536.75H563.25Z" fill="#4a4a4a"/><rect x="1425.95" y="130.75" width="1.4" height="405.1" fill="#1c1c1c"/>
<path class="tk" d="M602.38 536.75V545.95M689.67 536.75V545.95M776.97 536.75V545.95M864.26 536.75V545.95M951.55 536.75V545.95M1038.85 536.75V545.95M1126.14 536.75V545.95M1213.43 536.75V545.95M1300.73 536.75V545.95M1388.02 536.75V545.95"/>
<text class="ax" text-anchor="middle" transform="translate(602.38 574.2) scale(1 1.02)">0.125</text>
<text class="ax" text-anchor="middle" transform="translate(689.67 608.3) scale(1 1.02)">0.25</text>
<text class="ax" text-anchor="middle" transform="translate(776.97 574.2) scale(1 1.02)">0.5</text>
<text class="ax" text-anchor="middle" transform="translate(864.26 608.3) scale(1 1.02)">1</text>
<text class="ax" text-anchor="middle" transform="translate(951.55 574.2) scale(1 1.02)">2</text>
<text class="ax" text-anchor="middle" transform="translate(1038.85 608.3) scale(1 1.02)">4</text>
<text class="ax" text-anchor="middle" transform="translate(1126.14 574.2) scale(1 1.02)">8</text>
<text class="ax" text-anchor="middle" transform="translate(1213.43 608.3) scale(1 1.02)">16</text>
<text class="ax" text-anchor="middle" transform="translate(1300.73 574.2) scale(1 1.02)">32</text>
<text class="ax" text-anchor="middle" transform="translate(1388.02 608.3) scale(1 1.02)">64</text>
<rect x="1445.35" y="73.7" width="864.2" height="56.15" fill="#D9D9D9"/><path d="M1445.35 73.7H2309.55V75.45H1447.1V128.1H2309.55V129.85H1445.35Z" fill="#4a4a4a"/><rect x="2308.05" y="74.6" width="1.4" height="54.35" fill="#1c1c1c"/>
<text class="st" text-anchor="middle" transform="translate(1877.3 112.1) scale(1 1.02)">60%fT&gt;MIC</text>
<g clip-path="url(#c2)">
<path d="M1445.2 518.3H2309.4M1445.2 425.77H2309.4M1445.2 333.25H2309.4M1445.2 240.72H2309.4M1445.2 148.2H2309.4M1484.48 129.7V536.6M1571.77 129.7V536.6M1659.07 129.7V536.6M1746.36 129.7V536.6M1833.65 129.7V536.6M1920.95 129.7V536.6M2008.24 129.7V536.6M2095.53 129.7V536.6M2182.83 129.7V536.6M2270.12 129.7V536.6" stroke="#EBEBEB" stroke-width="3.49" fill="none"/>
<path class="cv" d="M1445.2 148.2L1447.38 148.2L1449.56 148.2L1451.75 148.2L1453.93 148.2L1456.11 148.2L1458.29 148.2L1460.48 148.2L1462.66 148.2L1464.84 148.2L1467.02 148.2L1469.21 148.2L1471.39 148.2L1473.57 148.2L1475.75 148.2L1477.93 148.2L1480.12 148.2L1482.3 148.2L1484.48 148.2L1486.66 148.2L1488.85 148.2L1491.03 148.2L1493.21 148.2L1495.39 148.2L1497.58 148.2L1499.76 148.2L1501.94 148.2L1504.12 148.2L1506.31 148.2L1508.49 148.2L1510.67 148.2L1512.85 148.2L1515.03 148.2L1517.22 148.2L1519.4 148.2L1521.58 148.2L1523.76 148.2L1525.95 148.2L1528.13 148.2L1530.31 148.2L1532.49 148.2L1534.68 148.2L1536.86 148.2L1539.04 148.2L1541.22 148.2L1543.4 148.2L1545.59 148.2L1547.77 148.2L1549.95 148.2L1552.13 148.2L1554.32 148.2L1556.5 148.2L1558.68 148.2L1560.86 148.2L1563.05 148.2L1565.23 148.2L1567.41 148.2L1569.59 148.2L1571.77 148.2L1573.96 148.2L1576.14 148.2L1578.32 148.2L1580.5 148.2L1582.69 148.2L1584.87 148.2L1587.05 148.2L1589.23 148.2L1591.42 148.2L1593.6 148.2L1595.78 148.2L1597.96 148.2L1600.14 148.2L1602.33 148.2L1604.51 148.2L1606.69 148.2L1608.87 148.2L1611.06 148.2L1613.24 148.2L1615.42 148.2L1617.6 148.2L1619.79 148.2L1621.97 148.2L1624.15 148.2L1626.33 148.2L1628.52 148.2L1630.7 148.2L1632.88 148.2L1635.06 148.2L1637.24 148.2L1639.43 148.2L1641.61 148.2L1643.79 148.2L1645.97 148.2L1648.16 148.2L1650.34 148.2L1652.52 148.2L1654.7 148.2L1656.89 148.2L1659.07 148.2L1661.25 148.2L1663.43 148.2L1665.61 148.2L1667.8 148.2L1669.98 148.2L1672.16 148.2L1674.34 148.2L1676.53 148.2L1678.71 148.2L1680.89 148.2L1683.07 148.2L1685.26 148.2L1687.44 148.2L1689.62 148.2L1691.8 148.2L1693.98 148.2L1696.17 148.2L1698.35 148.2L1700.53 148.2L1702.71 148.2L1704.9 148.2L1707.08 148.2L1709.26 148.2L1711.44 148.2L1713.63 148.2L1715.81 148.2L1717.99 148.2L1720.17 148.2L1722.36 148.2L1724.54 148.2L1726.72 148.2L1728.9 148.2L1731.08 148.2L1733.27 148.2L1735.45 148.2L1737.63 148.2L1739.81 148.2L1742 148.2L1744.18 148.2L1746.36 148.2L1748.54 148.2L1750.73 148.2L1752.91 148.2L1755.09 148.2L1757.27 148.2L1759.45 148.29L1761.64 148.29L1763.82 148.3L1766 148.31L1768.18 148.32L1770.37 148.33L1772.55 148.34L1774.73 148.36L1776.91 148.37L1779.1 148.39L1781.28 148.41L1783.46 148.44L1785.64 148.47L1787.82 148.5L1790.01 148.53L1792.19 148.58L1794.37 148.62L1796.55 148.67L1798.74 148.73L1800.92 148.8L1803.1 148.87L1805.28 148.95L1807.47 149.03L1809.65 149.13L1811.83 149.23L1814.01 149.34L1816.19 149.46L1818.38 149.58L1820.56 149.71L1822.74 149.85L1824.92 149.99L1827.11 150.13L1829.29 150.28L1831.47 150.43L1833.65 150.57L1835.84 150.71L1838.02 150.86L1840.2 151.01L1842.38 151.16L1844.57 151.31L1846.75 151.47L1848.93 151.63L1851.11 151.8L1853.29 151.97L1855.48 152.14L1857.66 152.32L1859.84 152.5L1862.02 152.68L1864.21 152.87L1866.39 153.06L1868.57 153.26L1870.75 153.47L1872.94 153.68L1875.12 153.9L1877.3 154.12L1879.48 154.36L1881.66 154.6L1883.85 154.85L1886.03 155.12L1888.21 155.39L1890.39 155.68L1892.58 155.99L1894.76 156.31L1896.94 156.64L1899.12 157L1901.31 157.37L1903.49 157.77L1905.67 158.19L1907.85 158.64L1910.03 159.12L1912.22 159.63L1914.4 160.17L1916.58 160.75L1918.76 161.37L1920.95 162.04L1923.13 162.76L1925.31 163.53L1927.49 164.35L1929.68 165.22L1931.86 166.16L1934.04 167.16L1936.22 168.23L1938.41 169.37L1940.59 170.58L1942.77 171.88L1944.95 173.25L1947.13 174.71L1949.32 176.27L1951.5 177.91L1953.68 179.66L1955.86 181.51L1958.05 183.47L1960.23 185.54L1962.41 187.73L1964.59 190.03L1966.78 192.46L1968.96 195.02L1971.14 197.71L1973.32 200.53L1975.5 203.49L1977.69 206.59L1979.87 209.83L1982.05 213.21L1984.23 216.74L1986.42 220.41L1988.6 224.23L1990.78 228.2L1992.96 232.31L1995.15 236.56L1997.33 240.96L1999.51 245.49L2001.69 250.16L2003.87 254.96L2006.06 259.88L2008.24 264.93L2010.42 270.13L2012.6 275.54L2014.79 281.14L2016.97 286.92L2019.15 292.89L2021.33 299.02L2023.52 305.31L2025.7 311.75L2027.88 318.31L2030.06 325L2032.24 331.78L2034.43 338.64L2036.61 345.56L2038.79 352.53L2040.97 359.51L2043.16 366.5L2045.34 373.47L2047.52 380.39L2049.7 387.26L2051.89 394.04L2054.07 400.71L2056.25 407.26L2058.43 413.67L2060.62 419.92L2062.8 426L2064.98 431.89L2067.16 437.58L2069.34 443.05L2071.53 448.31L2073.71 453.33L2075.89 458.12L2078.07 462.68L2080.26 466.99L2082.44 471.07L2084.62 474.91L2086.8 478.52L2088.99 481.89L2091.17 485.04L2093.35 487.97L2095.53 490.69L2097.71 493.28L2099.9 495.8L2102.08 498.21L2104.26 500.5L2106.44 502.64L2108.63 504.63L2110.81 506.44L2112.99 508.09L2115.17 509.56L2117.36 510.87L2119.54 512.02L2121.72 513.03L2123.9 513.89L2126.08 514.64L2128.27 515.27L2130.45 515.8L2132.63 516.24L2134.81 516.61L2137 516.92L2139.18 517.17L2141.36 517.38L2143.54 517.54L2145.73 517.68L2147.91 517.79L2150.09 517.88L2152.27 517.95L2154.46 518.01L2156.64 518.06L2158.82 518.09L2161 518.13L2163.18 518.15L2165.37 518.17L2167.55 518.18L2169.73 518.2L2171.91 518.21L2174.1 518.21L2176.28 518.3L2178.46 518.3L2180.64 518.3L2182.83 518.3L2185.01 518.3L2187.19 518.3L2189.37 518.3L2191.55 518.3L2193.74 518.3L2195.92 518.3L2198.1 518.3L2200.28 518.3L2202.47 518.3L2204.65 518.3L2206.83 518.3L2209.01 518.3L2211.2 518.3L2213.38 518.3L2215.56 518.3L2217.74 518.3L2219.92 518.3L2222.11 518.3L2224.29 518.3L2226.47 518.3L2228.65 518.3L2230.84 518.3L2233.02 518.3L2235.2 518.3L2237.38 518.3L2239.57 518.3L2241.75 518.3L2243.93 518.3L2246.11 518.3L2248.29 518.3L2250.48 518.3L2252.66 518.3L2254.84 518.3L2257.02 518.3L2259.21 518.3L2261.39 518.3L2263.57 518.3L2265.75 518.3L2267.94 518.3L2270.12 518.3L2272.3 518.3L2274.48 518.3L2276.67 518.3L2278.85 518.3L2281.03 518.3L2283.21 518.3L2285.39 518.3L2287.58 518.3L2289.76 518.3L2291.94 518.3L2294.12 518.3L2296.31 518.3L2298.49 518.3L2300.67 518.3L2302.85 518.3L2305.04 518.3L2307.22 518.3L2309.4 518.3"/>
<path class="cv" d="M1445.2 148.2L1447.38 148.2L1449.56 148.2L1451.75 148.2L1453.93 148.2L1456.11 148.2L1458.29 148.2L1460.48 148.2L1462.66 148.2L1464.84 148.2L1467.02 148.2L1469.21 148.2L1471.39 148.2L1473.57 148.2L1475.75 148.2L1477.93 148.2L1480.12 148.2L1482.3 148.2L1484.48 148.2L1486.66 148.2L1488.85 148.2L1491.03 148.2L1493.21 148.2L1495.39 148.2L1497.58 148.2L1499.76 148.2L1501.94 148.2L1504.12 148.2L1506.31 148.2L1508.49 148.2L1510.67 148.2L1512.85 148.2L1515.03 148.2L1517.22 148.2L1519.4 148.2L1521.58 148.2L1523.76 148.2L1525.95 148.2L1528.13 148.2L1530.31 148.2L1532.49 148.2L1534.68 148.2L1536.86 148.2L1539.04 148.2L1541.22 148.2L1543.4 148.2L1545.59 148.2L1547.77 148.2L1549.95 148.2L1552.13 148.2L1554.32 148.2L1556.5 148.2L1558.68 148.2L1560.86 148.2L1563.05 148.2L1565.23 148.2L1567.41 148.2L1569.59 148.2L1571.77 148.2L1573.96 148.2L1576.14 148.2L1578.32 148.2L1580.5 148.2L1582.69 148.2L1584.87 148.2L1587.05 148.2L1589.23 148.2L1591.42 148.2L1593.6 148.2L1595.78 148.2L1597.96 148.2L1600.14 148.2L1602.33 148.2L1604.51 148.2L1606.69 148.2L1608.87 148.2L1611.06 148.2L1613.24 148.2L1615.42 148.2L1617.6 148.2L1619.79 148.2L1621.97 148.2L1624.15 148.2L1626.33 148.2L1628.52 148.2L1630.7 148.2L1632.88 148.2L1635.06 148.2L1637.24 148.2L1639.43 148.2L1641.61 148.2L1643.79 148.2L1645.97 148.2L1648.16 148.2L1650.34 148.2L1652.52 148.2L1654.7 148.2L1656.89 148.2L1659.07 148.2L1661.25 148.2L1663.43 148.2L1665.61 148.2L1667.8 148.2L1669.98 148.2L1672.16 148.2L1674.34 148.2L1676.53 148.2L1678.71 148.29L1680.89 148.29L1683.07 148.3L1685.26 148.3L1687.44 148.31L1689.62 148.31L1691.8 148.32L1693.98 148.32L1696.17 148.33L1698.35 148.34L1700.53 148.35L1702.71 148.36L1704.9 148.37L1707.08 148.38L1709.26 148.39L1711.44 148.4L1713.63 148.42L1715.81 148.43L1717.99 148.45L1720.17 148.46L1722.36 148.48L1724.54 148.5L1726.72 148.52L1728.9 148.54L1731.08 148.56L1733.27 148.59L1735.45 148.61L1737.63 148.64L1739.81 148.67L1742 148.7L1744.18 148.73L1746.36 148.76L1748.54 148.79L1750.73 148.82L1752.91 148.86L1755.09 148.9L1757.27 148.94L1759.45 148.98L1761.64 149.03L1763.82 149.08L1766 149.13L1768.18 149.19L1770.37 149.25L1772.55 149.32L1774.73 149.39L1776.91 149.46L1779.1 149.54L1781.28 149.63L1783.46 149.72L1785.64 149.81L1787.82 149.92L1790.01 150.02L1792.19 150.14L1794.37 150.26L1796.55 150.39L1798.74 150.53L1800.92 150.68L1803.1 150.83L1805.28 151L1807.47 151.17L1809.65 151.35L1811.83 151.54L1814.01 151.75L1816.19 151.96L1818.38 152.19L1820.56 152.43L1822.74 152.68L1824.92 152.94L1827.11 153.21L1829.29 153.5L1831.47 153.81L1833.65 154.12L1835.84 154.45L1838.02 154.8L1840.2 155.16L1842.38 155.54L1844.57 155.94L1846.75 156.36L1848.93 156.79L1851.11 157.25L1853.29 157.72L1855.48 158.22L1857.66 158.74L1859.84 159.29L1862.02 159.86L1864.21 160.45L1866.39 161.08L1868.57 161.73L1870.75 162.41L1872.94 163.12L1875.12 163.86L1877.3 164.64L1879.48 165.45L1881.66 166.29L1883.85 167.18L1886.03 168.1L1888.21 169.06L1890.39 170.07L1892.58 171.12L1894.76 172.21L1896.94 173.35L1899.12 174.55L1901.31 175.79L1903.49 177.09L1905.67 178.44L1907.85 179.85L1910.03 181.32L1912.22 182.85L1914.4 184.45L1916.58 186.11L1918.76 187.85L1920.95 189.65L1923.13 191.52L1925.31 193.46L1927.49 195.46L1929.68 197.53L1931.86 199.67L1934.04 201.89L1936.22 204.17L1938.41 206.53L1940.59 208.97L1942.77 211.49L1944.95 214.08L1947.13 216.76L1949.32 219.53L1951.5 222.38L1953.68 225.31L1955.86 228.34L1958.05 231.46L1960.23 234.67L1962.41 237.97L1964.59 241.38L1966.78 244.87L1968.96 248.47L1971.14 252.16L1973.32 255.95L1975.5 259.85L1977.69 263.84L1979.87 267.94L1982.05 272.13L1984.23 276.43L1986.42 280.83L1988.6 285.32L1990.78 289.92L1992.96 294.61L1995.15 299.39L1997.33 304.27L1999.51 309.23L2001.69 314.29L2003.87 319.42L2006.06 324.63L2008.24 329.92L2010.42 335.31L2012.6 340.85L2014.79 346.51L2016.97 352.28L2019.15 358.14L2021.33 364.08L2023.52 370.08L2025.7 376.11L2027.88 382.17L2030.06 388.23L2032.24 394.27L2034.43 400.27L2036.61 406.21L2038.79 412.08L2040.97 417.86L2043.16 423.52L2045.34 429.05L2047.52 434.44L2049.7 439.67L2051.89 444.73L2054.07 449.61L2056.25 454.3L2058.43 458.8L2060.62 463.09L2062.8 467.17L2064.98 471.04L2067.16 474.71L2069.34 478.16L2071.53 481.4L2073.71 484.44L2075.89 487.28L2078.07 489.93L2080.26 492.39L2082.44 494.66L2084.62 496.76L2086.8 498.7L2088.99 500.48L2091.17 502.12L2093.35 503.61L2095.53 504.98L2097.71 506.26L2099.9 507.48L2102.08 508.64L2104.26 509.72L2106.44 510.73L2108.63 511.65L2110.81 512.5L2112.99 513.26L2115.17 513.94L2117.36 514.55L2119.54 515.09L2121.72 515.56L2123.9 515.97L2126.08 516.32L2128.27 516.63L2130.45 516.89L2132.63 517.11L2134.81 517.3L2137 517.46L2139.18 517.59L2141.36 517.7L2143.54 517.8L2145.73 517.87L2147.91 517.94L2150.09 517.99L2152.27 518.04L2154.46 518.07L2156.64 518.11L2158.82 518.13L2161 518.15L2163.18 518.17L2165.37 518.18L2167.55 518.19L2169.73 518.2L2171.91 518.21L2174.1 518.3L2176.28 518.3L2178.46 518.3L2180.64 518.3L2182.83 518.3L2185.01 518.3L2187.19 518.3L2189.37 518.3L2191.55 518.3L2193.74 518.3L2195.92 518.3L2198.1 518.3L2200.28 518.3L2202.47 518.3L2204.65 518.3L2206.83 518.3L2209.01 518.3L2211.2 518.3L2213.38 518.3L2215.56 518.3L2217.74 518.3L2219.92 518.3L2222.11 518.3L2224.29 518.3L2226.47 518.3L2228.65 518.3L2230.84 518.3L2233.02 518.3L2235.2 518.3L2237.38 518.3L2239.57 518.3L2241.75 518.3L2243.93 518.3L2246.11 518.3L2248.29 518.3L2250.48 518.3L2252.66 518.3L2254.84 518.3L2257.02 518.3L2259.21 518.3L2261.39 518.3L2263.57 518.3L2265.75 518.3L2267.94 518.3L2270.12 518.3L2272.3 518.3L2274.48 518.3L2276.67 518.3L2278.85 518.3L2281.03 518.3L2283.21 518.3L2285.39 518.3L2287.58 518.3L2289.76 518.3L2291.94 518.3L2294.12 518.3L2296.31 518.3L2298.49 518.3L2300.67 518.3L2302.85 518.3L2305.04 518.3L2307.22 518.3L2309.4 518.3"/>
<path class="cv" d="M1445.2 148.2L1447.38 148.2L1449.56 148.2L1451.75 148.2L1453.93 148.2L1456.11 148.2L1458.29 148.2L1460.48 148.2L1462.66 148.2L1464.84 148.2L1467.02 148.2L1469.21 148.2L1471.39 148.2L1473.57 148.2L1475.75 148.2L1477.93 148.2L1480.12 148.2L1482.3 148.2L1484.48 148.2L1486.66 148.2L1488.85 148.2L1491.03 148.2L1493.21 148.2L1495.39 148.2L1497.58 148.2L1499.76 148.2L1501.94 148.2L1504.12 148.2L1506.31 148.2L1508.49 148.2L1510.67 148.2L1512.85 148.2L1515.03 148.2L1517.22 148.2L1519.4 148.2L1521.58 148.2L1523.76 148.2L1525.95 148.2L1528.13 148.2L1530.31 148.2L1532.49 148.2L1534.68 148.2L1536.86 148.2L1539.04 148.2L1541.22 148.2L1543.4 148.2L1545.59 148.2L1547.77 148.2L1549.95 148.2L1552.13 148.2L1554.32 148.2L1556.5 148.2L1558.68 148.2L1560.86 148.2L1563.05 148.2L1565.23 148.2L1567.41 148.2L1569.59 148.2L1571.77 148.2L1573.96 148.2L1576.14 148.2L1578.32 148.2L1580.5 148.2L1582.69 148.2L1584.87 148.2L1587.05 148.2L1589.23 148.2L1591.42 148.2L1593.6 148.2L1595.78 148.2L1597.96 148.2L1600.14 148.2L1602.33 148.2L1604.51 148.2L1606.69 148.2L1608.87 148.2L1611.06 148.2L1613.24 148.2L1615.42 148.2L1617.6 148.2L1619.79 148.2L1621.97 148.2L1624.15 148.2L1626.33 148.2L1628.52 148.2L1630.7 148.2L1632.88 148.2L1635.06 148.2L1637.24 148.2L1639.43 148.2L1641.61 148.2L1643.79 148.2L1645.97 148.2L1648.16 148.2L1650.34 148.2L1652.52 148.2L1654.7 148.2L1656.89 148.2L1659.07 148.2L1661.25 148.2L1663.43 148.2L1665.61 148.2L1667.8 148.2L1669.98 148.2L1672.16 148.2L1674.34 148.2L1676.53 148.2L1678.71 148.2L1680.89 148.2L1683.07 148.2L1685.26 148.2L1687.44 148.2L1689.62 148.2L1691.8 148.2L1693.98 148.2L1696.17 148.2L1698.35 148.2L1700.53 148.2L1702.71 148.2L1704.9 148.2L1707.08 148.2L1709.26 148.2L1711.44 148.2L1713.63 148.2L1715.81 148.2L1717.99 148.2L1720.17 148.2L1722.36 148.2L1724.54 148.2L1726.72 148.2L1728.9 148.2L1731.08 148.2L1733.27 148.2L1735.45 148.2L1737.63 148.2L1739.81 148.2L1742 148.2L1744.18 148.2L1746.36 148.2L1748.54 148.2L1750.73 148.2L1752.91 148.2L1755.09 148.2L1757.27 148.2L1759.45 148.2L1761.64 148.2L1763.82 148.2L1766 148.2L1768.18 148.2L1770.37 148.29L1772.55 148.29L1774.73 148.29L1776.91 148.3L1779.1 148.3L1781.28 148.3L1783.46 148.31L1785.64 148.31L1787.82 148.31L1790.01 148.32L1792.19 148.32L1794.37 148.33L1796.55 148.33L1798.74 148.33L1800.92 148.34L1803.1 148.34L1805.28 148.35L1807.47 148.35L1809.65 148.36L1811.83 148.36L1814.01 148.36L1816.19 148.37L1818.38 148.37L1820.56 148.38L1822.74 148.38L1824.92 148.38L1827.11 148.38L1829.29 148.38L1831.47 148.38L1833.65 148.39L1835.84 148.39L1838.02 148.39L1840.2 148.39L1842.38 148.39L1844.57 148.39L1846.75 148.39L1848.93 148.39L1851.11 148.39L1853.29 148.39L1855.48 148.39L1857.66 148.39L1859.84 148.39L1862.02 148.39L1864.21 148.39L1866.39 148.39L1868.57 148.39L1870.75 148.39L1872.94 148.39L1875.12 148.39L1877.3 148.39L1879.48 148.39L1881.66 148.39L1883.85 148.39L1886.03 148.39L1888.21 148.39L1890.39 148.39L1892.58 148.39L1894.76 148.39L1896.94 148.39L1899.12 148.39L1901.31 148.39L1903.49 148.39L1905.67 148.39L1907.85 148.39L1910.03 148.39L1912.22 148.39L1914.4 148.39L1916.58 148.39L1918.76 148.39L1920.95 148.39L1923.13 148.39L1925.31 148.39L1927.49 148.4L1929.68 148.41L1931.86 148.42L1934.04 148.44L1936.22 148.46L1938.41 148.48L1940.59 148.51L1942.77 148.55L1944.95 148.59L1947.13 148.64L1949.32 148.71L1951.5 148.78L1953.68 148.87L1955.86 148.98L1958.05 149.1L1960.23 149.26L1962.41 149.44L1964.59 149.65L1966.78 149.9L1968.96 150.2L1971.14 150.55L1973.32 150.96L1975.5 151.44L1977.69 151.99L1979.87 152.63L1982.05 153.37L1984.23 154.21L1986.42 155.17L1988.6 156.26L1990.78 157.48L1992.96 158.84L1995.15 160.35L1997.33 162.02L1999.51 163.84L2001.69 165.81L2003.87 167.94L2006.06 170.22L2008.24 172.63L2010.42 175.23L2012.6 178.11L2014.79 181.27L2016.97 184.75L2019.15 188.56L2021.33 192.71L2023.52 197.23L2025.7 202.13L2027.88 207.42L2030.06 213.1L2032.24 219.2L2034.43 225.7L2036.61 232.6L2038.79 239.9L2040.97 247.58L2043.16 255.63L2045.34 264.03L2047.52 272.74L2049.7 281.74L2051.89 290.99L2054.07 300.44L2056.25 310.05L2058.43 319.78L2060.62 329.58L2062.8 339.39L2064.98 349.16L2067.16 358.85L2069.34 368.4L2071.53 377.77L2073.71 386.92L2075.89 395.8L2078.07 404.39L2080.26 412.65L2082.44 420.56L2084.62 428.1L2086.8 435.24L2088.99 441.99L2091.17 448.34L2093.35 454.28L2095.53 459.82L2097.71 465.09L2099.9 470.17L2102.08 475.04L2104.26 479.64L2106.44 483.97L2108.63 487.99L2110.81 491.7L2112.99 495.1L2115.17 498.18L2117.36 500.94L2119.54 503.41L2121.72 505.59L2123.9 507.5L2126.08 509.16L2128.27 510.6L2130.45 511.84L2132.63 512.9L2134.81 513.79L2137 514.55L2139.18 515.18L2141.36 515.71L2143.54 516.15L2145.73 516.51L2147.91 516.81L2150.09 517.06L2152.27 517.26L2154.46 517.43L2156.64 517.57L2158.82 517.68L2161 517.77L2163.18 517.84L2165.37 517.91L2167.55 517.96L2169.73 518L2171.91 518.03L2174.1 518.06L2176.28 518.08L2178.46 518.09L2180.64 518.11L2182.83 518.11L2185.01 518.12L2187.19 518.13L2189.37 518.14L2191.55 518.14L2193.74 518.15L2195.92 518.15L2198.1 518.16L2200.28 518.16L2202.47 518.17L2204.65 518.17L2206.83 518.18L2209.01 518.18L2211.2 518.18L2213.38 518.19L2215.56 518.19L2217.74 518.19L2219.92 518.2L2222.11 518.2L2224.29 518.2L2226.47 518.2L2228.65 518.21L2230.84 518.21L2233.02 518.21L2235.2 518.21L2237.38 518.3L2239.57 518.3L2241.75 518.3L2243.93 518.3L2246.11 518.3L2248.29 518.3L2250.48 518.3L2252.66 518.3L2254.84 518.3L2257.02 518.3L2259.21 518.3L2261.39 518.3L2263.57 518.3L2265.75 518.3L2267.94 518.3L2270.12 518.3L2272.3 518.3L2274.48 518.3L2276.67 518.3L2278.85 518.3L2281.03 518.3L2283.21 518.3L2285.39 518.3L2287.58 518.3L2289.76 518.3L2291.94 518.3L2294.12 518.3L2296.31 518.3L2298.49 518.3L2300.67 518.3L2302.85 518.3L2305.04 518.3L2307.22 518.3L2309.4 518.3"/>
<path class="cv" d="M1445.2 148.2L1447.38 148.2L1449.56 148.2L1451.75 148.2L1453.93 148.2L1456.11 148.2L1458.29 148.2L1460.48 148.2L1462.66 148.2L1464.84 148.2L1467.02 148.2L1469.21 148.2L1471.39 148.2L1473.57 148.2L1475.75 148.2L1477.93 148.2L1480.12 148.2L1482.3 148.2L1484.48 148.2L1486.66 148.2L1488.85 148.2L1491.03 148.2L1493.21 148.2L1495.39 148.2L1497.58 148.2L1499.76 148.2L1501.94 148.2L1504.12 148.2L1506.31 148.2L1508.49 148.2L1510.67 148.2L1512.85 148.2L1515.03 148.2L1517.22 148.2L1519.4 148.2L1521.58 148.2L1523.76 148.2L1525.95 148.2L1528.13 148.2L1530.31 148.2L1532.49 148.2L1534.68 148.2L1536.86 148.2L1539.04 148.2L1541.22 148.2L1543.4 148.2L1545.59 148.2L1547.77 148.2L1549.95 148.2L1552.13 148.2L1554.32 148.2L1556.5 148.2L1558.68 148.2L1560.86 148.2L1563.05 148.2L1565.23 148.2L1567.41 148.2L1569.59 148.2L1571.77 148.2L1573.96 148.2L1576.14 148.2L1578.32 148.2L1580.5 148.2L1582.69 148.2L1584.87 148.2L1587.05 148.2L1589.23 148.2L1591.42 148.2L1593.6 148.2L1595.78 148.2L1597.96 148.2L1600.14 148.2L1602.33 148.2L1604.51 148.2L1606.69 148.2L1608.87 148.2L1611.06 148.2L1613.24 148.2L1615.42 148.2L1617.6 148.2L1619.79 148.2L1621.97 148.2L1624.15 148.2L1626.33 148.2L1628.52 148.2L1630.7 148.2L1632.88 148.2L1635.06 148.2L1637.24 148.2L1639.43 148.2L1641.61 148.2L1643.79 148.2L1645.97 148.2L1648.16 148.2L1650.34 148.2L1652.52 148.2L1654.7 148.2L1656.89 148.2L1659.07 148.2L1661.25 148.2L1663.43 148.2L1665.61 148.2L1667.8 148.2L1669.98 148.2L1672.16 148.2L1674.34 148.2L1676.53 148.2L1678.71 148.2L1680.89 148.2L1683.07 148.2L1685.26 148.2L1687.44 148.2L1689.62 148.2L1691.8 148.2L1693.98 148.2L1696.17 148.2L1698.35 148.2L1700.53 148.2L1702.71 148.2L1704.9 148.2L1707.08 148.2L1709.26 148.2L1711.44 148.2L1713.63 148.2L1715.81 148.2L1717.99 148.2L1720.17 148.2L1722.36 148.2L1724.54 148.2L1726.72 148.2L1728.9 148.2L1731.08 148.2L1733.27 148.2L1735.45 148.2L1737.63 148.2L1739.81 148.2L1742 148.2L1744.18 148.2L1746.36 148.2L1748.54 148.2L1750.73 148.2L1752.91 148.2L1755.09 148.2L1757.27 148.2L1759.45 148.2L1761.64 148.2L1763.82 148.2L1766 148.2L1768.18 148.2L1770.37 148.2L1772.55 148.2L1774.73 148.2L1776.91 148.2L1779.1 148.2L1781.28 148.2L1783.46 148.2L1785.64 148.2L1787.82 148.2L1790.01 148.2L1792.19 148.2L1794.37 148.2L1796.55 148.2L1798.74 148.2L1800.92 148.2L1803.1 148.2L1805.28 148.2L1807.47 148.2L1809.65 148.2L1811.83 148.2L1814.01 148.2L1816.19 148.2L1818.38 148.2L1820.56 148.2L1822.74 148.2L1824.92 148.2L1827.11 148.2L1829.29 148.2L1831.47 148.2L1833.65 148.2L1835.84 148.2L1838.02 148.2L1840.2 148.2L1842.38 148.2L1844.57 148.2L1846.75 148.2L1848.93 148.2L1851.11 148.2L1853.29 148.2L1855.48 148.2L1857.66 148.2L1859.84 148.2L1862.02 148.2L1864.21 148.2L1866.39 148.2L1868.57 148.2L1870.75 148.2L1872.94 148.2L1875.12 148.2L1877.3 148.2L1879.48 148.2L1881.66 148.2L1883.85 148.2L1886.03 148.2L1888.21 148.2L1890.39 148.2L1892.58 148.2L1894.76 148.2L1896.94 148.2L1899.12 148.2L1901.31 148.2L1903.49 148.2L1905.67 148.2L1907.85 148.2L1910.03 148.2L1912.22 148.2L1914.4 148.2L1916.58 148.2L1918.76 148.2L1920.95 148.2L1923.13 148.2L1925.31 148.2L1927.49 148.2L1929.68 148.2L1931.86 148.2L1934.04 148.2L1936.22 148.2L1938.41 148.2L1940.59 148.2L1942.77 148.2L1944.95 148.2L1947.13 148.2L1949.32 148.2L1951.5 148.2L1953.68 148.2L1955.86 148.2L1958.05 148.2L1960.23 148.2L1962.41 148.2L1964.59 148.2L1966.78 148.2L1968.96 148.2L1971.14 148.2L1973.32 148.2L1975.5 148.2L1977.69 148.2L1979.87 148.2L1982.05 148.2L1984.23 148.2L1986.42 148.2L1988.6 148.2L1990.78 148.2L1992.96 148.27L1995.15 148.3L1997.33 148.34L1999.51 148.39L2001.69 148.46L2003.87 148.55L2006.06 148.66L2008.24 148.82L2010.42 149.01L2012.6 149.26L2014.79 149.58L2016.97 149.97L2019.15 150.47L2021.33 151.08L2023.52 151.83L2025.7 152.74L2027.88 153.85L2030.06 155.17L2032.24 156.74L2034.43 158.6L2036.61 160.77L2038.79 163.3L2040.97 166.22L2043.16 169.56L2045.34 173.37L2047.52 177.66L2049.7 182.48L2051.89 187.84L2054.07 193.77L2056.25 200.28L2058.43 207.37L2060.62 215.04L2062.8 223.29L2064.98 232.1L2067.16 241.43L2069.34 251.27L2071.53 261.55L2073.71 272.24L2075.89 283.28L2078.07 294.59L2080.26 306.12L2082.44 317.79L2084.62 329.53L2086.8 341.27L2088.99 352.92L2091.17 364.42L2093.35 375.7L2095.53 386.7L2097.71 397.35L2099.9 407.61L2102.08 417.43L2104.26 426.77L2106.44 435.61L2108.63 443.92L2110.81 451.69L2112.99 458.91L2115.17 465.58L2117.36 471.71L2119.54 477.31L2121.72 482.39L2123.9 486.99L2126.08 491.12L2128.27 494.81L2130.45 498.09L2132.63 500.99L2134.81 503.54L2137 505.77L2139.18 507.71L2141.36 509.39L2143.54 510.83L2145.73 512.07L2147.91 513.13L2150.09 514.02L2152.27 514.78L2154.46 515.41L2156.64 515.94L2158.82 516.39L2161 516.75L2163.18 517.05L2165.37 517.3L2167.55 517.5L2169.73 517.66L2171.91 517.79L2174.1 517.9L2176.28 517.99L2178.46 518.05L2180.64 518.11L2182.83 518.15L2185.01 518.18L2187.19 518.21L2189.37 518.23L2191.55 518.3L2193.74 518.3L2195.92 518.3L2198.1 518.3L2200.28 518.3L2202.47 518.3L2204.65 518.3L2206.83 518.3L2209.01 518.3L2211.2 518.3L2213.38 518.3L2215.56 518.3L2217.74 518.3L2219.92 518.3L2222.11 518.3L2224.29 518.3L2226.47 518.3L2228.65 518.3L2230.84 518.3L2233.02 518.3L2235.2 518.3L2237.38 518.3L2239.57 518.3L2241.75 518.3L2243.93 518.3L2246.11 518.3L2248.29 518.3L2250.48 518.3L2252.66 518.3L2254.84 518.3L2257.02 518.3L2259.21 518.3L2261.39 518.3L2263.57 518.3L2265.75 518.3L2267.94 518.3L2270.12 518.3L2272.3 518.3L2274.48 518.3L2276.67 518.3L2278.85 518.3L2281.03 518.3L2283.21 518.3L2285.39 518.3L2287.58 518.3L2289.76 518.3L2291.94 518.3L2294.12 518.3L2296.31 518.3L2298.49 518.3L2300.67 518.3L2302.85 518.3L2305.04 518.3L2307.22 518.3L2309.4 518.3"/>
<path d="M1445.2 185.21H2309.4" stroke="#000" stroke-width="3.3" stroke-dasharray="13.95 13.95" fill="none"/>
<g class="mk">
<rect x="1479.11" y="142.5" width="5.95" height="11.5" class="tf"/>
<rect x="1566.4" y="142.5" width="5.95" height="11.5" class="tf"/>
<rect x="1653.69" y="142.5" width="5.95" height="11.5" class="tf"/>
<rect x="1740.99" y="142.5" width="5.95" height="11.5" class="tf"/>
<rect x="1828.28" y="145.5" width="5.95" height="11.5" class="tf"/>
<rect x="1915.57" y="156.5" width="5.95" height="11.5" class="tf"/>
<rect x="2002.86" y="259.5" width="5.95" height="11.5" class="tf"/>
<rect x="2090.16" y="485.5" width="5.95" height="11.5" class="tf"/>
<rect x="2177.45" y="512.5" width="5.95" height="11.5" class="tf"/>
<rect x="2264.74" y="512.5" width="5.95" height="11.5" class="tf"/>
<path d="M1484.48 138.3L1493.06 153.15H1475.91Z"/>
<path d="M1571.77 138.3L1580.35 153.15H1563.2Z"/>
<path d="M1659.07 138.3L1667.64 153.15H1650.49Z"/>
<path d="M1746.36 138.86L1754.93 153.71H1737.79Z"/>
<path d="M1833.65 144.22L1842.23 159.07H1825.08Z"/>
<path d="M1920.95 179.75L1929.52 194.6H1912.37Z"/>
<path d="M2008.24 320.02L2016.81 334.87H1999.67Z"/>
<path d="M2095.53 495.08L2104.11 509.93H2086.96Z"/>
<path d="M2182.83 508.4L2191.4 523.25H2174.25Z"/>
<path d="M2270.12 508.4L2278.69 523.25H2261.54Z"/>
<rect x="1478.08" y="141.8" width="12.8" height="12.8"/>
<rect x="1565.37" y="141.8" width="12.8" height="12.8"/>
<rect x="1652.67" y="141.8" width="12.8" height="12.8"/>
<rect x="1739.96" y="141.8" width="12.8" height="12.8"/>
<rect x="1827.25" y="141.99" width="12.8" height="12.8"/>
<rect x="1914.55" y="141.99" width="12.8" height="12.8"/>
<rect x="2001.84" y="166.23" width="12.8" height="12.8"/>
<rect x="2089.13" y="453.42" width="12.8" height="12.8"/>
<rect x="2176.43" y="511.71" width="12.8" height="12.8"/>
<rect x="2263.72" y="511.9" width="12.8" height="12.8"/>
<path d="M1475.48 148.2H1493.48M1484.48 139.2V157.2" class="pl"/>
<path d="M1562.77 148.2H1580.77M1571.77 139.2V157.2" class="pl"/>
<path d="M1650.07 148.2H1668.07M1659.07 139.2V157.2" class="pl"/>
<path d="M1737.36 148.2H1755.36M1746.36 139.2V157.2" class="pl"/>
<path d="M1824.65 148.2H1842.65M1833.65 139.2V157.2" class="pl"/>
<path d="M1911.95 148.2H1929.95M1920.95 139.2V157.2" class="pl"/>
<path d="M1999.24 148.82H2017.24M2008.24 139.82V157.82" class="pl"/>
<path d="M2086.53 386.7H2104.53M2095.53 377.7V395.7" class="pl"/>
<path d="M2173.83 518.15H2191.83M2182.83 509.15V527.15" class="pl"/>
<path d="M2261.12 518.3H2279.12M2270.12 509.3V527.3" class="pl"/>
</g>
</g>
<path d="M1445.35 129.85H2309.55V131.59H1447.1V535H2309.55V536.75H1445.35Z" fill="#4a4a4a"/><rect x="2308.05" y="130.75" width="1.4" height="405.1" fill="#1c1c1c"/>
<path class="tk" d="M1484.48 536.75V545.95M1571.77 536.75V545.95M1659.07 536.75V545.95M1746.36 536.75V545.95M1833.65 536.75V545.95M1920.95 536.75V545.95M2008.24 536.75V545.95M2095.53 536.75V545.95M2182.83 536.75V545.95M2270.12 536.75V545.95"/>
<text class="ax" text-anchor="middle" transform="translate(1484.48 574.2) scale(1 1.02)">0.125</text>
<text class="ax" text-anchor="middle" transform="translate(1571.77 608.3) scale(1 1.02)">0.25</text>
<text class="ax" text-anchor="middle" transform="translate(1659.07 574.2) scale(1 1.02)">0.5</text>
<text class="ax" text-anchor="middle" transform="translate(1746.36 608.3) scale(1 1.02)">1</text>
<text class="ax" text-anchor="middle" transform="translate(1833.65 574.2) scale(1 1.02)">2</text>
<text class="ax" text-anchor="middle" transform="translate(1920.95 608.3) scale(1 1.02)">4</text>
<text class="ax" text-anchor="middle" transform="translate(2008.24 574.2) scale(1 1.02)">8</text>
<text class="ax" text-anchor="middle" transform="translate(2095.53 608.3) scale(1 1.02)">16</text>
<text class="ax" text-anchor="middle" transform="translate(2182.83 574.2) scale(1 1.02)">32</text>
<text class="ax" text-anchor="middle" transform="translate(2270.12 608.3) scale(1 1.02)">64</text>
<text class="at" text-anchor="middle" transform="translate(1436.25 650.2) scale(1 1.02)">MIC (mg/L)</text>
</g>
<g transform="translate(0 1320)">
<text class="tag" transform="translate(29.5 69.5) scale(1 1.02)">C</text>
<text class="lt" transform="translate(77.8 224.1) scale(1 1.02)">Dose</text>
<rect class="key" x="78.25" y="246.4" width="56.33" height="56.33"/>
<rect class="key" x="78.25" y="302.73" width="56.33" height="56.33"/>
<rect class="key" x="78.25" y="359.06" width="56.33" height="56.33"/>
<rect class="key" x="78.25" y="415.39" width="56.33" height="56.33"/>
<g class="mk"><rect x="101.04" y="268.5" width="5.95" height="11.5" class="tf"/></g>
<text class="ll" transform="translate(152.48 285.37) scale(1 1.02)">2g q6h inf. 30min</text>
<g class="mk"><path d="M106.41 321L114.99 335.85H97.84Z"/></g>
<text class="ll" transform="translate(152.48 341.7) scale(1 1.02)">4g q12h inf. 30min</text>
<g class="mk"><rect x="100.01" y="380.83" width="12.8" height="12.8"/></g>
<text class="ll" transform="translate(152.48 398.03) scale(1 1.02)">4g q12h inf. 4h</text>
<g class="mk"><path d="M97.41 443.56H115.41M106.41 434.56V452.56" class="pl"/></g>
<text class="ll" transform="translate(152.48 454.36) scale(1 1.02)">8g q24h inf. 24h</text>
<text class="at" text-anchor="middle" transform="translate(472.9 333.15) rotate(-90) scale(1 1.02)">PTA</text>
<text class="ax" text-anchor="end" transform="translate(546.9 528.8) scale(1 1.02)">0.00</text>
<text class="ax" text-anchor="end" transform="translate(546.9 436.27) scale(1 1.02)">0.25</text>
<text class="ax" text-anchor="end" transform="translate(546.9 343.75) scale(1 1.02)">0.50</text>
<text class="ax" text-anchor="end" transform="translate(546.9 251.22) scale(1 1.02)">0.75</text>
<text class="ax" text-anchor="end" transform="translate(546.9 158.7) scale(1 1.02)">1.00</text>
<path class="tk" d="M554.05 518.3H563.25M554.05 425.77H563.25M554.05 333.25H563.25M554.05 240.72H563.25M554.05 148.2H563.25"/>
<rect x="563.25" y="73.7" width="864.2" height="56.15" fill="#D9D9D9"/><path d="M563.25 73.7H1427.45V75.45H565V128.1H1427.45V129.85H563.25Z" fill="#4a4a4a"/><rect x="1425.95" y="74.6" width="1.4" height="54.35" fill="#1c1c1c"/>
<text class="st" text-anchor="middle" transform="translate(995.2 112.1) scale(1 1.02)">100%fT&gt;MIC</text>
<g clip-path="url(#c1)">
<path d="M563.1 518.3H1427.3M563.1 425.77H1427.3M563.1 333.25H1427.3M563.1 240.72H1427.3M563.1 148.2H1427.3M602.38 129.7V536.6M689.67 129.7V536.6M776.97 129.7V536.6M864.26 129.7V536.6M951.55 129.7V536.6M1038.85 129.7V536.6M1126.14 129.7V536.6M1213.43 129.7V536.6M1300.73 129.7V536.6M1388.02 129.7V536.6" stroke="#EBEBEB" stroke-width="3.49" fill="none"/>
<path class="cv" d="M563.1 148.2L565.28 148.2L567.46 148.2L569.65 148.2L571.83 148.2L574.01 148.2L576.19 148.2L578.38 148.2L580.56 148.2L582.74 148.2L584.92 148.2L587.11 148.2L589.29 148.2L591.47 148.2L593.65 148.2L595.83 148.2L598.02 148.2L600.2 148.2L602.38 148.2L604.56 148.2L606.75 148.29L608.93 148.3L611.11 148.31L613.29 148.33L615.48 148.34L617.66 148.36L619.84 148.37L622.02 148.39L624.21 148.41L626.39 148.43L628.57 148.45L630.75 148.47L632.93 148.5L635.12 148.53L637.3 148.55L639.48 148.58L641.66 148.62L643.85 148.65L646.03 148.68L648.21 148.72L650.39 148.76L652.58 148.8L654.76 148.84L656.94 148.88L659.12 148.92L661.3 148.96L663.49 149L665.67 149.05L667.85 149.09L670.03 149.13L672.22 149.18L674.4 149.22L676.58 149.26L678.76 149.3L680.95 149.33L683.13 149.37L685.31 149.4L687.49 149.43L689.67 149.46L691.86 149.48L694.04 149.51L696.22 149.53L698.4 149.55L700.59 149.57L702.77 149.59L704.95 149.61L707.13 149.63L709.32 149.65L711.5 149.66L713.68 149.68L715.86 149.7L718.04 149.71L720.23 149.72L722.41 149.74L724.59 149.75L726.77 149.77L728.96 149.78L731.14 149.79L733.32 149.8L735.5 149.82L737.69 149.83L739.87 149.84L742.05 149.86L744.23 149.87L746.42 149.89L748.6 149.9L750.78 149.92L752.96 149.93L755.14 149.95L757.33 149.97L759.51 149.99L761.69 150.01L763.87 150.03L766.06 150.05L768.24 150.08L770.42 150.11L772.6 150.13L774.79 150.17L776.97 150.2L779.15 150.23L781.33 150.28L783.51 150.32L785.7 150.37L787.88 150.42L790.06 150.48L792.24 150.54L794.43 150.61L796.61 150.68L798.79 150.75L800.97 150.84L803.16 150.92L805.34 151.01L807.52 151.11L809.7 151.21L811.88 151.32L814.07 151.43L816.25 151.55L818.43 151.68L820.61 151.81L822.8 151.95L824.98 152.09L827.16 152.24L829.34 152.4L831.53 152.57L833.71 152.74L835.89 152.91L838.07 153.1L840.26 153.29L842.44 153.48L844.62 153.69L846.8 153.89L848.98 154.11L851.17 154.33L853.35 154.55L855.53 154.78L857.71 155.02L859.9 155.26L862.08 155.5L864.26 155.75L866.44 156L868.63 156.26L870.81 156.53L872.99 156.8L875.17 157.08L877.35 157.37L879.54 157.67L881.72 157.98L883.9 158.29L886.08 158.62L888.27 158.95L890.45 159.3L892.63 159.66L894.81 160.02L897 160.4L899.18 160.79L901.36 161.19L903.54 161.61L905.72 162.04L907.91 162.48L910.09 162.94L912.27 163.41L914.45 163.9L916.64 164.4L918.82 164.92L921 165.46L923.18 166.02L925.37 166.6L927.55 167.2L929.73 167.81L931.91 168.45L934.09 169.12L936.28 169.8L938.46 170.52L940.64 171.25L942.82 172.02L945.01 172.81L947.19 173.63L949.37 174.48L951.55 175.37L953.74 176.28L955.92 177.23L958.1 178.22L960.28 179.25L962.47 180.32L964.65 181.42L966.83 182.57L969.01 183.76L971.19 184.99L973.38 186.27L975.56 187.59L977.74 188.95L979.92 190.37L982.11 191.83L984.29 193.34L986.47 194.9L988.65 196.51L990.84 198.18L993.02 199.9L995.2 201.67L997.38 203.49L999.56 205.37L1001.75 207.31L1003.93 209.3L1006.11 211.35L1008.29 213.45L1010.48 215.62L1012.66 217.84L1014.84 220.12L1017.02 222.45L1019.21 224.85L1021.39 227.31L1023.57 229.82L1025.75 232.39L1027.93 235.02L1030.12 237.71L1032.3 240.45L1034.48 243.25L1036.66 246.1L1038.85 249.02L1041.03 251.99L1043.21 255.03L1045.39 258.13L1047.58 261.3L1049.76 264.54L1051.94 267.84L1054.12 271.21L1056.31 274.64L1058.49 278.13L1060.67 281.69L1062.85 285.3L1065.03 288.97L1067.22 292.69L1069.4 296.47L1071.58 300.29L1073.76 304.17L1075.95 308.09L1078.13 312.06L1080.31 316.06L1082.49 320.11L1084.68 324.19L1086.86 328.3L1089.04 332.44L1091.22 336.6L1093.4 340.78L1095.59 344.98L1097.77 349.2L1099.95 353.42L1102.13 357.65L1104.32 361.88L1106.5 366.1L1108.68 370.32L1110.86 374.53L1113.05 378.73L1115.23 382.9L1117.41 387.06L1119.59 391.18L1121.77 395.27L1123.96 399.33L1126.14 403.35L1128.32 407.34L1130.5 411.34L1132.69 415.31L1134.87 419.27L1137.05 423.2L1139.23 427.09L1141.42 430.93L1143.6 434.72L1145.78 438.45L1147.96 442.11L1150.14 445.7L1152.33 449.2L1154.51 452.62L1156.69 455.95L1158.87 459.19L1161.06 462.33L1163.24 465.37L1165.42 468.3L1167.6 471.12L1169.79 473.84L1171.97 476.45L1174.15 478.95L1176.33 481.34L1178.52 483.62L1180.7 485.79L1182.88 487.85L1185.06 489.81L1187.24 491.67L1189.43 493.43L1191.61 495.08L1193.79 496.65L1195.97 498.12L1198.16 499.5L1200.34 500.79L1202.52 502.01L1204.7 503.14L1206.89 504.2L1209.07 505.19L1211.25 506.12L1213.43 506.97L1215.61 507.78L1217.8 508.55L1219.98 509.29L1222.16 509.98L1224.34 510.63L1226.53 511.25L1228.71 511.82L1230.89 512.36L1233.07 512.86L1235.26 513.33L1237.44 513.76L1239.62 514.16L1241.8 514.53L1243.98 514.86L1246.17 515.18L1248.35 515.46L1250.53 515.72L1252.71 515.96L1254.9 516.17L1257.08 516.37L1259.26 516.54L1261.44 516.7L1263.63 516.85L1265.81 516.98L1267.99 517.1L1270.17 517.21L1272.36 517.3L1274.54 517.39L1276.72 517.47L1278.9 517.54L1281.08 517.6L1283.27 517.65L1285.45 517.7L1287.63 517.75L1289.81 517.79L1292 517.82L1294.18 517.86L1296.36 517.88L1298.54 517.91L1300.73 517.93L1302.91 517.95L1305.09 517.97L1307.27 517.99L1309.45 518L1311.64 518.02L1313.82 518.03L1316 518.05L1318.18 518.06L1320.37 518.07L1322.55 518.09L1324.73 518.1L1326.91 518.11L1329.1 518.12L1331.28 518.13L1333.46 518.14L1335.64 518.14L1337.82 518.15L1340.01 518.16L1342.19 518.16L1344.37 518.17L1346.55 518.18L1348.74 518.18L1350.92 518.19L1353.1 518.19L1355.28 518.19L1357.47 518.2L1359.65 518.2L1361.83 518.21L1364.01 518.21L1366.19 518.21L1368.38 518.21L1370.56 518.3L1372.74 518.3L1374.92 518.3L1377.11 518.3L1379.29 518.3L1381.47 518.3L1383.65 518.3L1385.84 518.3L1388.02 518.3L1390.2 518.3L1392.38 518.3L1394.57 518.3L1396.75 518.3L1398.93 518.3L1401.11 518.3L1403.29 518.3L1405.48 518.3L1407.66 518.3L1409.84 518.3L1412.02 518.3L1414.21 518.3L1416.39 518.3L1418.57 518.3L1420.75 518.3L1422.94 518.3L1425.12 518.3L1427.3 518.3"/>
<path class="cv" d="M563.1 168.19L565.28 168.35L567.46 168.51L569.65 168.68L571.83 168.86L574.01 169.04L576.19 169.23L578.38 169.42L580.56 169.61L582.74 169.81L584.92 170.02L587.11 170.23L589.29 170.45L591.47 170.67L593.65 170.9L595.83 171.14L598.02 171.38L600.2 171.63L602.38 171.89L604.56 172.15L606.75 172.42L608.93 172.71L611.11 173L613.29 173.3L615.48 173.61L617.66 173.94L619.84 174.27L622.02 174.6L624.21 174.95L626.39 175.31L628.57 175.67L630.75 176.05L632.93 176.43L635.12 176.82L637.3 177.22L639.48 177.63L641.66 178.05L643.85 178.47L646.03 178.9L648.21 179.34L650.39 179.78L652.58 180.24L654.76 180.7L656.94 181.16L659.12 181.63L661.3 182.11L663.49 182.6L665.67 183.09L667.85 183.58L670.03 184.08L672.22 184.58L674.4 185.09L676.58 185.6L678.76 186.12L680.95 186.63L683.13 187.15L685.31 187.68L687.49 188.2L689.67 188.73L691.86 189.25L694.04 189.78L696.22 190.31L698.4 190.84L700.59 191.38L702.77 191.92L704.95 192.46L707.13 193L709.32 193.55L711.5 194.1L713.68 194.66L715.86 195.22L718.04 195.79L720.23 196.37L722.41 196.95L724.59 197.53L726.77 198.12L728.96 198.72L731.14 199.33L733.32 199.95L735.5 200.57L737.69 201.21L739.87 201.85L742.05 202.51L744.23 203.17L746.42 203.85L748.6 204.53L750.78 205.23L752.96 205.95L755.14 206.67L757.33 207.41L759.51 208.17L761.69 208.94L763.87 209.73L766.06 210.53L768.24 211.35L770.42 212.19L772.6 213.04L774.79 213.92L776.97 214.82L779.15 215.74L781.33 216.68L783.51 217.65L785.7 218.64L787.88 219.65L790.06 220.69L792.24 221.75L794.43 222.83L796.61 223.94L798.79 225.07L800.97 226.22L803.16 227.4L805.34 228.6L807.52 229.82L809.7 231.06L811.88 232.33L814.07 233.62L816.25 234.93L818.43 236.26L820.61 237.61L822.8 238.99L824.98 240.38L827.16 241.79L829.34 243.23L831.53 244.68L833.71 246.16L835.89 247.65L838.07 249.16L840.26 250.68L842.44 252.23L844.62 253.79L846.8 255.36L848.98 256.96L851.17 258.56L853.35 260.19L855.53 261.82L857.71 263.47L859.9 265.13L862.08 266.8L864.26 268.48L866.44 270.18L868.63 271.89L870.81 273.63L872.99 275.38L875.17 277.15L877.35 278.93L879.54 280.74L881.72 282.56L883.9 284.4L886.08 286.26L888.27 288.13L890.45 290.03L892.63 291.93L894.81 293.86L897 295.81L899.18 297.77L901.36 299.74L903.54 301.74L905.72 303.75L907.91 305.77L910.09 307.81L912.27 309.87L914.45 311.94L916.64 314.03L918.82 316.13L921 318.24L923.18 320.37L925.37 322.52L927.55 324.68L929.73 326.84L931.91 329.03L934.09 331.22L936.28 333.43L938.46 335.65L940.64 337.87L942.82 340.11L945.01 342.36L947.19 344.62L949.37 346.89L951.55 349.16L953.74 351.45L955.92 353.74L958.1 356.04L960.28 358.34L962.47 360.65L964.65 362.97L966.83 365.29L969.01 367.62L971.19 369.95L973.38 372.28L975.56 374.62L977.74 376.95L979.92 379.29L982.11 381.63L984.29 383.97L986.47 386.31L988.65 388.64L990.84 390.98L993.02 393.31L995.2 395.64L997.38 397.96L999.56 400.28L1001.75 402.59L1003.93 404.89L1006.11 407.19L1008.29 409.48L1010.48 411.76L1012.66 414.03L1014.84 416.29L1017.02 418.54L1019.21 420.77L1021.39 423L1023.57 425.21L1025.75 427.4L1027.93 429.58L1030.12 431.74L1032.3 433.89L1034.48 436.01L1036.66 438.12L1038.85 440.21L1041.03 442.28L1043.21 444.33L1045.39 446.37L1047.58 448.39L1049.76 450.38L1051.94 452.36L1054.12 454.31L1056.31 456.24L1058.49 458.14L1060.67 460.02L1062.85 461.87L1065.03 463.69L1067.22 465.49L1069.4 467.25L1071.58 468.99L1073.76 470.69L1075.95 472.36L1078.13 474L1080.31 475.6L1082.49 477.18L1084.68 478.71L1086.86 480.22L1089.04 481.69L1091.22 483.12L1093.4 484.52L1095.59 485.89L1097.77 487.21L1099.95 488.51L1102.13 489.76L1104.32 490.98L1106.5 492.17L1108.68 493.32L1110.86 494.43L1113.05 495.51L1115.23 496.56L1117.41 497.57L1119.59 498.55L1121.77 499.49L1123.96 500.4L1126.14 501.28L1128.32 502.13L1130.5 502.96L1132.69 503.76L1134.87 504.55L1137.05 505.3L1139.23 506.04L1141.42 506.74L1143.6 507.42L1145.78 508.07L1147.96 508.7L1150.14 509.29L1152.33 509.86L1154.51 510.4L1156.69 510.91L1158.87 511.4L1161.06 511.86L1163.24 512.3L1165.42 512.71L1167.6 513.09L1169.79 513.45L1171.97 513.79L1174.15 514.11L1176.33 514.41L1178.52 514.69L1180.7 514.95L1182.88 515.19L1185.06 515.41L1187.24 515.62L1189.43 515.82L1191.61 516L1193.79 516.16L1195.97 516.32L1198.16 516.46L1200.34 516.59L1202.52 516.71L1204.7 516.82L1206.89 516.93L1209.07 517.02L1211.25 517.11L1213.43 517.19L1215.61 517.27L1217.8 517.34L1219.98 517.41L1222.16 517.47L1224.34 517.54L1226.53 517.6L1228.71 517.65L1230.89 517.71L1233.07 517.75L1235.26 517.8L1237.44 517.84L1239.62 517.88L1241.8 517.92L1243.98 517.95L1246.17 517.98L1248.35 518.01L1250.53 518.03L1252.71 518.05L1254.9 518.07L1257.08 518.09L1259.26 518.11L1261.44 518.12L1263.63 518.14L1265.81 518.15L1267.99 518.16L1270.17 518.17L1272.36 518.18L1274.54 518.19L1276.72 518.19L1278.9 518.2L1281.08 518.2L1283.27 518.21L1285.45 518.21L1287.63 518.3L1289.81 518.3L1292 518.3L1294.18 518.3L1296.36 518.3L1298.54 518.3L1300.73 518.3L1302.91 518.3L1305.09 518.3L1307.27 518.3L1309.45 518.3L1311.64 518.3L1313.82 518.3L1316 518.3L1318.18 518.3L1320.37 518.3L1322.55 518.3L1324.73 518.3L1326.91 518.3L1329.1 518.3L1331.28 518.3L1333.46 518.3L1335.64 518.3L1337.82 518.3L1340.01 518.3L1342.19 518.3L1344.37 518.3L1346.55 518.3L1348.74 518.3L1350.92 518.3L1353.1 518.3L1355.28 518.3L1357.47 518.3L1359.65 518.3L1361.83 518.3L1364.01 518.3L1366.19 518.3L1368.38 518.3L1370.56 518.3L1372.74 518.3L1374.92 518.3L1377.11 518.3L1379.29 518.3L1381.47 518.3L1383.65 518.3L1385.84 518.3L1388.02 518.3L1390.2 518.3L1392.38 518.3L1394.57 518.3L1396.75 518.3L1398.93 518.3L1401.11 518.3L1403.29 518.3L1405.48 518.3L1407.66 518.3L1409.84 518.3L1412.02 518.3L1414.21 518.3L1416.39 518.3L1418.57 518.3L1420.75 518.3L1422.94 518.3L1425.12 518.3L1427.3 518.3"/>
<path class="cv" d="M563.1 152.27L565.28 152.39L567.46 152.52L569.65 152.65L571.83 152.78L574.01 152.91L576.19 153.05L578.38 153.19L580.56 153.33L582.74 153.47L584.92 153.62L587.11 153.77L589.29 153.92L591.47 154.07L593.65 154.23L595.83 154.38L598.02 154.54L600.2 154.7L602.38 154.86L604.56 155.02L606.75 155.19L608.93 155.36L611.11 155.53L613.29 155.7L615.48 155.87L617.66 156.05L619.84 156.22L622.02 156.4L624.21 156.59L626.39 156.77L628.57 156.96L630.75 157.15L632.93 157.34L635.12 157.53L637.3 157.73L639.48 157.93L641.66 158.13L643.85 158.34L646.03 158.54L648.21 158.75L650.39 158.97L652.58 159.18L654.76 159.4L656.94 159.62L659.12 159.85L661.3 160.07L663.49 160.31L665.67 160.54L667.85 160.78L670.03 161.02L672.22 161.27L674.4 161.52L676.58 161.77L678.76 162.03L680.95 162.29L683.13 162.55L685.31 162.82L687.49 163.1L689.67 163.37L691.86 163.66L694.04 163.94L696.22 164.22L698.4 164.51L700.59 164.8L702.77 165.09L704.95 165.38L707.13 165.67L709.32 165.97L711.5 166.27L713.68 166.57L715.86 166.88L718.04 167.18L720.23 167.49L722.41 167.81L724.59 168.13L726.77 168.45L728.96 168.78L731.14 169.11L733.32 169.45L735.5 169.79L737.69 170.14L739.87 170.49L742.05 170.85L744.23 171.22L746.42 171.59L748.6 171.97L750.78 172.36L752.96 172.76L755.14 173.16L757.33 173.58L759.51 174L761.69 174.44L763.87 174.88L766.06 175.34L768.24 175.81L770.42 176.29L772.6 176.78L774.79 177.29L776.97 177.81L779.15 178.34L781.33 178.89L783.51 179.45L785.7 180.03L787.88 180.62L790.06 181.23L792.24 181.85L794.43 182.49L796.61 183.14L798.79 183.8L800.97 184.48L803.16 185.18L805.34 185.89L807.52 186.62L809.7 187.36L811.88 188.12L814.07 188.89L816.25 189.68L818.43 190.49L820.61 191.31L822.8 192.15L824.98 193.01L827.16 193.88L829.34 194.76L831.53 195.67L833.71 196.59L835.89 197.52L838.07 198.47L840.26 199.44L842.44 200.42L844.62 201.42L846.8 202.44L848.98 203.47L851.17 204.52L853.35 205.58L855.53 206.66L857.71 207.75L859.9 208.86L862.08 209.98L864.26 211.12L866.44 212.27L868.63 213.44L870.81 214.62L872.99 215.82L875.17 217.03L877.35 218.27L879.54 219.51L881.72 220.78L883.9 222.07L886.08 223.37L888.27 224.69L890.45 226.03L892.63 227.39L894.81 228.77L897 230.17L899.18 231.58L901.36 233.03L903.54 234.49L905.72 235.97L907.91 237.48L910.09 239L912.27 240.56L914.45 242.13L916.64 243.73L918.82 245.35L921 247L923.18 248.68L925.37 250.37L927.55 252.1L929.73 253.85L931.91 255.63L934.09 257.44L936.28 259.27L938.46 261.13L940.64 263.02L942.82 264.94L945.01 266.89L947.19 268.87L949.37 270.88L951.55 272.92L953.74 274.99L955.92 277.09L958.1 279.22L960.28 281.38L962.47 283.57L964.65 285.79L966.83 288.03L969.01 290.31L971.19 292.61L973.38 294.94L975.56 297.3L977.74 299.68L979.92 302.1L982.11 304.54L984.29 307L986.47 309.49L988.65 312.01L990.84 314.55L993.02 317.12L995.2 319.71L997.38 322.32L999.56 324.95L1001.75 327.6L1003.93 330.28L1006.11 332.97L1008.29 335.69L1010.48 338.42L1012.66 341.16L1014.84 343.93L1017.02 346.71L1019.21 349.5L1021.39 352.3L1023.57 355.12L1025.75 357.95L1027.93 360.79L1030.12 363.63L1032.3 366.49L1034.48 369.34L1036.66 372.21L1038.85 375.07L1041.03 377.94L1043.21 380.83L1045.39 383.72L1047.58 386.61L1049.76 389.51L1051.94 392.41L1054.12 395.31L1056.31 398.21L1058.49 401.1L1060.67 403.99L1062.85 406.87L1065.03 409.74L1067.22 412.59L1069.4 415.43L1071.58 418.25L1073.76 421.06L1075.95 423.84L1078.13 426.6L1080.31 429.33L1082.49 432.04L1084.68 434.71L1086.86 437.36L1089.04 439.97L1091.22 442.55L1093.4 445.09L1095.59 447.59L1097.77 450.06L1099.95 452.48L1102.13 454.86L1104.32 457.2L1106.5 459.49L1108.68 461.74L1110.86 463.94L1113.05 466.09L1115.23 468.2L1117.41 470.25L1119.59 472.25L1121.77 474.21L1123.96 476.11L1126.14 477.96L1128.32 479.77L1130.5 481.54L1132.69 483.28L1134.87 484.97L1137.05 486.63L1139.23 488.24L1141.42 489.8L1143.6 491.32L1145.78 492.78L1147.96 494.2L1150.14 495.56L1152.33 496.87L1154.51 498.13L1156.69 499.34L1158.87 500.5L1161.06 501.6L1163.24 502.65L1165.42 503.65L1167.6 504.61L1169.79 505.51L1171.97 506.36L1174.15 507.17L1176.33 507.93L1178.52 508.65L1180.7 509.33L1182.88 509.97L1185.06 510.56L1187.24 511.12L1189.43 511.64L1191.61 512.13L1193.79 512.59L1195.97 513.01L1198.16 513.41L1200.34 513.78L1202.52 514.12L1204.7 514.44L1206.89 514.73L1209.07 515L1211.25 515.25L1213.43 515.49L1215.61 515.71L1217.8 515.92L1219.98 516.12L1222.16 516.32L1224.34 516.5L1226.53 516.67L1228.71 516.83L1230.89 516.98L1233.07 517.12L1235.26 517.24L1237.44 517.36L1239.62 517.46L1241.8 517.55L1243.98 517.63L1246.17 517.71L1248.35 517.78L1250.53 517.83L1252.71 517.89L1254.9 517.93L1257.08 517.97L1259.26 518.01L1261.44 518.04L1263.63 518.07L1265.81 518.09L1267.99 518.11L1270.17 518.13L1272.36 518.15L1274.54 518.16L1276.72 518.17L1278.9 518.18L1281.08 518.19L1283.27 518.2L1285.45 518.21L1287.63 518.21L1289.81 518.3L1292 518.3L1294.18 518.3L1296.36 518.3L1298.54 518.3L1300.73 518.3L1302.91 518.3L1305.09 518.3L1307.27 518.3L1309.45 518.3L1311.64 518.3L1313.82 518.3L1316 518.3L1318.18 518.3L1320.37 518.3L1322.55 518.3L1324.73 518.3L1326.91 518.3L1329.1 518.3L1331.28 518.3L1333.46 518.3L1335.64 518.3L1337.82 518.3L1340.01 518.3L1342.19 518.3L1344.37 518.3L1346.55 518.3L1348.74 518.3L1350.92 518.3L1353.1 518.3L1355.28 518.3L1357.47 518.3L1359.65 518.3L1361.83 518.3L1364.01 518.3L1366.19 518.3L1368.38 518.3L1370.56 518.3L1372.74 518.3L1374.92 518.3L1377.11 518.3L1379.29 518.3L1381.47 518.3L1383.65 518.3L1385.84 518.3L1388.02 518.3L1390.2 518.3L1392.38 518.3L1394.57 518.3L1396.75 518.3L1398.93 518.3L1401.11 518.3L1403.29 518.3L1405.48 518.3L1407.66 518.3L1409.84 518.3L1412.02 518.3L1414.21 518.3L1416.39 518.3L1418.57 518.3L1420.75 518.3L1422.94 518.3L1425.12 518.3L1427.3 518.3"/>
<path class="cv" d="M563.1 148.2L565.28 148.2L567.46 148.2L569.65 148.2L571.83 148.2L574.01 148.2L576.19 148.2L578.38 148.2L580.56 148.2L582.74 148.2L584.92 148.2L587.11 148.2L589.29 148.2L591.47 148.2L593.65 148.2L595.83 148.2L598.02 148.2L600.2 148.2L602.38 148.2L604.56 148.2L606.75 148.2L608.93 148.2L611.11 148.2L613.29 148.2L615.48 148.2L617.66 148.2L619.84 148.2L622.02 148.2L624.21 148.2L626.39 148.2L628.57 148.2L630.75 148.2L632.93 148.2L635.12 148.2L637.3 148.2L639.48 148.2L641.66 148.2L643.85 148.2L646.03 148.2L648.21 148.2L650.39 148.2L652.58 148.2L654.76 148.2L656.94 148.2L659.12 148.2L661.3 148.2L663.49 148.2L665.67 148.2L667.85 148.2L670.03 148.2L672.22 148.2L674.4 148.2L676.58 148.2L678.76 148.2L680.95 148.2L683.13 148.2L685.31 148.2L687.49 148.2L689.67 148.2L691.86 148.2L694.04 148.2L696.22 148.2L698.4 148.2L700.59 148.2L702.77 148.2L704.95 148.2L707.13 148.2L709.32 148.2L711.5 148.2L713.68 148.2L715.86 148.2L718.04 148.2L720.23 148.2L722.41 148.2L724.59 148.2L726.77 148.2L728.96 148.2L731.14 148.2L733.32 148.2L735.5 148.2L737.69 148.2L739.87 148.2L742.05 148.2L744.23 148.2L746.42 148.2L748.6 148.2L750.78 148.2L752.96 148.2L755.14 148.2L757.33 148.2L759.51 148.2L761.69 148.2L763.87 148.2L766.06 148.2L768.24 148.2L770.42 148.2L772.6 148.2L774.79 148.2L776.97 148.2L779.15 148.2L781.33 148.2L783.51 148.2L785.7 148.2L787.88 148.2L790.06 148.2L792.24 148.2L794.43 148.2L796.61 148.2L798.79 148.2L800.97 148.2L803.16 148.2L805.34 148.2L807.52 148.2L809.7 148.2L811.88 148.2L814.07 148.2L816.25 148.2L818.43 148.2L820.61 148.2L822.8 148.2L824.98 148.2L827.16 148.2L829.34 148.2L831.53 148.2L833.71 148.2L835.89 148.2L838.07 148.2L840.26 148.2L842.44 148.2L844.62 148.2L846.8 148.2L848.98 148.2L851.17 148.2L853.35 148.2L855.53 148.2L857.71 148.2L859.9 148.2L862.08 148.2L864.26 148.2L866.44 148.2L868.63 148.2L870.81 148.2L872.99 148.2L875.17 148.2L877.35 148.2L879.54 148.2L881.72 148.2L883.9 148.2L886.08 148.2L888.27 148.2L890.45 148.2L892.63 148.2L894.81 148.2L897 148.2L899.18 148.2L901.36 148.2L903.54 148.2L905.72 148.2L907.91 148.2L910.09 148.2L912.27 148.2L914.45 148.2L916.64 148.2L918.82 148.2L921 148.2L923.18 148.2L925.37 148.2L927.55 148.2L929.73 148.2L931.91 148.2L934.09 148.2L936.28 148.2L938.46 148.2L940.64 148.2L942.82 148.2L945.01 148.2L947.19 148.2L949.37 148.2L951.55 148.2L953.74 148.2L955.92 148.2L958.1 148.2L960.28 148.2L962.47 148.2L964.65 148.2L966.83 148.2L969.01 148.2L971.19 148.2L973.38 148.2L975.56 148.2L977.74 148.2L979.92 148.2L982.11 148.2L984.29 148.2L986.47 148.2L988.65 148.2L990.84 148.2L993.02 148.2L995.2 148.2L997.38 148.2L999.56 148.2L1001.75 148.2L1003.93 148.2L1006.11 148.2L1008.29 148.2L1010.48 148.2L1012.66 148.2L1014.84 148.2L1017.02 148.2L1019.21 148.2L1021.39 148.2L1023.57 148.2L1025.75 148.2L1027.93 148.2L1030.12 148.2L1032.3 148.2L1034.48 148.2L1036.66 148.2L1038.85 148.2L1041.03 148.2L1043.21 148.2L1045.39 148.2L1047.58 148.2L1049.76 148.2L1051.94 148.2L1054.12 148.2L1056.31 148.2L1058.49 148.2L1060.67 148.2L1062.85 148.2L1065.03 148.2L1067.22 148.2L1069.4 148.2L1071.58 148.2L1073.76 148.2L1075.95 148.2L1078.13 148.2L1080.31 148.2L1082.49 148.2L1084.68 148.2L1086.86 148.2L1089.04 148.2L1091.22 148.2L1093.4 148.2L1095.59 148.2L1097.77 148.2L1099.95 148.2L1102.13 148.2L1104.32 148.2L1106.5 148.2L1108.68 148.2L1110.86 148.2L1113.05 148.2L1115.23 148.2L1117.41 148.2L1119.59 148.2L1121.77 148.2L1123.96 148.2L1126.14 148.2L1128.32 148.2L1130.5 148.2L1132.69 148.2L1134.87 148.2L1137.05 148.2L1139.23 148.2L1141.42 148.2L1143.6 148.26L1145.78 148.29L1147.96 148.32L1150.14 148.37L1152.33 148.43L1154.51 148.51L1156.69 148.61L1158.87 148.75L1161.06 148.93L1163.24 149.15L1165.42 149.44L1167.6 149.81L1169.79 150.26L1171.97 150.82L1174.15 151.51L1176.33 152.36L1178.52 153.38L1180.7 154.61L1182.88 156.08L1185.06 157.82L1187.24 159.86L1189.43 162.24L1191.61 165L1193.79 168.17L1195.97 171.79L1198.16 175.88L1200.34 180.49L1202.52 185.63L1204.7 191.33L1206.89 197.61L1209.07 204.46L1211.25 211.9L1213.43 219.92L1215.61 228.51L1217.8 237.64L1219.98 247.28L1222.16 257.39L1224.34 267.92L1226.53 278.83L1228.71 290.04L1230.89 301.49L1233.07 313.11L1235.26 324.83L1237.44 336.58L1239.62 348.27L1241.8 359.84L1243.98 371.22L1246.17 382.34L1248.35 393.14L1250.53 403.56L1252.71 413.56L1254.9 423.1L1257.08 432.14L1259.26 440.66L1261.44 448.65L1263.63 456.09L1265.81 462.97L1267.99 469.32L1270.17 475.13L1272.36 480.42L1274.54 485.21L1276.72 489.52L1278.9 493.38L1281.08 496.82L1283.27 499.87L1285.45 502.56L1287.63 504.91L1289.81 506.96L1292 508.74L1294.18 510.28L1296.36 511.6L1298.54 512.73L1300.73 513.68L1302.91 514.49L1305.09 515.17L1307.27 515.74L1309.45 516.22L1311.64 516.61L1313.82 516.94L1316 517.21L1318.18 517.42L1320.37 517.6L1322.55 517.75L1324.73 517.86L1326.91 517.95L1329.1 518.03L1331.28 518.09L1333.46 518.14L1335.64 518.17L1337.82 518.2L1340.01 518.22L1342.19 518.3L1344.37 518.3L1346.55 518.3L1348.74 518.3L1350.92 518.3L1353.1 518.3L1355.28 518.3L1357.47 518.3L1359.65 518.3L1361.83 518.3L1364.01 518.3L1366.19 518.3L1368.38 518.3L1370.56 518.3L1372.74 518.3L1374.92 518.3L1377.11 518.3L1379.29 518.3L1381.47 518.3L1383.65 518.3L1385.84 518.3L1388.02 518.3L1390.2 518.3L1392.38 518.3L1394.57 518.3L1396.75 518.3L1398.93 518.3L1401.11 518.3L1403.29 518.3L1405.48 518.3L1407.66 518.3L1409.84 518.3L1412.02 518.3L1414.21 518.3L1416.39 518.3L1418.57 518.3L1420.75 518.3L1422.94 518.3L1425.12 518.3L1427.3 518.3"/>
<path d="M563.1 185.21H1427.3" stroke="#000" stroke-width="3.3" stroke-dasharray="13.95 13.95" fill="none"/>
<g class="mk">
<rect x="597.01" y="142.5" width="5.95" height="11.5" class="tf"/>
<rect x="684.3" y="143.5" width="5.95" height="11.5" class="tf"/>
<rect x="771.59" y="144.5" width="5.95" height="11.5" class="tf"/>
<rect x="858.89" y="150.5" width="5.95" height="11.5" class="tf"/>
<rect x="946.18" y="169.5" width="5.95" height="11.5" class="tf"/>
<rect x="1033.47" y="243.5" width="5.95" height="11.5" class="tf"/>
<rect x="1120.76" y="397.5" width="5.95" height="11.5" class="tf"/>
<rect x="1208.06" y="501.5" width="5.95" height="11.5" class="tf"/>
<rect x="1295.35" y="512.5" width="5.95" height="11.5" class="tf"/>
<rect x="1382.64" y="512.5" width="5.95" height="11.5" class="tf"/>
<path d="M602.38 161.99L610.96 176.84H593.81Z"/>
<path d="M689.67 178.83L698.25 193.68H681.1Z"/>
<path d="M776.97 204.92L785.54 219.77H768.39Z"/>
<path d="M864.26 258.58L872.83 273.43H855.69Z"/>
<path d="M951.55 339.26L960.13 354.11H942.98Z"/>
<path d="M1038.85 430.31L1047.42 445.16H1030.27Z"/>
<path d="M1126.14 491.38L1134.71 506.23H1117.57Z"/>
<path d="M1213.43 507.29L1222.01 522.14H1204.86Z"/>
<path d="M1300.73 508.4L1309.3 523.25H1292.15Z"/>
<path d="M1388.02 508.4L1396.59 523.25H1379.44Z"/>
<rect x="595.98" y="148.46" width="12.8" height="12.8"/>
<rect x="683.27" y="156.97" width="12.8" height="12.8"/>
<rect x="770.57" y="171.41" width="12.8" height="12.8"/>
<rect x="857.86" y="204.72" width="12.8" height="12.8"/>
<rect x="945.15" y="266.52" width="12.8" height="12.8"/>
<rect x="1032.45" y="368.67" width="12.8" height="12.8"/>
<rect x="1119.74" y="471.56" width="12.8" height="12.8"/>
<rect x="1207.03" y="509.09" width="12.8" height="12.8"/>
<rect x="1294.33" y="511.9" width="12.8" height="12.8"/>
<rect x="1381.62" y="511.9" width="12.8" height="12.8"/>
<path d="M593.38 148.2H611.38M602.38 139.2V157.2" class="pl"/>
<path d="M680.67 148.2H698.67M689.67 139.2V157.2" class="pl"/>
<path d="M767.97 148.2H785.97M776.97 139.2V157.2" class="pl"/>
<path d="M855.26 148.2H873.26M864.26 139.2V157.2" class="pl"/>
<path d="M942.55 148.2H960.55M951.55 139.2V157.2" class="pl"/>
<path d="M1029.85 148.2H1047.85M1038.85 139.2V157.2" class="pl"/>
<path d="M1117.14 148.2H1135.14M1126.14 139.2V157.2" class="pl"/>
<path d="M1204.43 219.92H1222.43M1213.43 210.92V228.92" class="pl"/>
<path d="M1291.73 513.68H1309.73M1300.73 504.68V522.68" class="pl"/>
<path d="M1379.02 518.3H1397.02M1388.02 509.3V527.3" class="pl"/>
</g>
</g>
<path d="M563.25 129.85H1427.45V131.59H565V535H1427.45V536.75H563.25Z" fill="#4a4a4a"/><rect x="1425.95" y="130.75" width="1.4" height="405.1" fill="#1c1c1c"/>
<path class="tk" d="M602.38 536.75V545.95M689.67 536.75V545.95M776.97 536.75V545.95M864.26 536.75V545.95M951.55 536.75V545.95M1038.85 536.75V545.95M1126.14 536.75V545.95M1213.43 536.75V545.95M1300.73 536.75V545.95M1388.02 536.75V545.95"/>
<text class="ax" text-anchor="middle" transform="translate(602.38 574.2) scale(1 1.02)">0.125</text>
<text class="ax" text-anchor="middle" transform="translate(689.67 608.3) scale(1 1.02)">0.25</text>
<text class="ax" text-anchor="middle" transform="translate(776.97 574.2) scale(1 1.02)">0.5</text>
<text class="ax" text-anchor="middle" transform="translate(864.26 608.3) scale(1 1.02)">1</text>
<text class="ax" text-anchor="middle" transform="translate(951.55 574.2) scale(1 1.02)">2</text>
<text class="ax" text-anchor="middle" transform="translate(1038.85 608.3) scale(1 1.02)">4</text>
<text class="ax" text-anchor="middle" transform="translate(1126.14 574.2) scale(1 1.02)">8</text>
<text class="ax" text-anchor="middle" transform="translate(1213.43 608.3) scale(1 1.02)">16</text>
<text class="ax" text-anchor="middle" transform="translate(1300.73 574.2) scale(1 1.02)">32</text>
<text class="ax" text-anchor="middle" transform="translate(1388.02 608.3) scale(1 1.02)">64</text>
<rect x="1445.35" y="73.7" width="864.2" height="56.15" fill="#D9D9D9"/><path d="M1445.35 73.7H2309.55V75.45H1447.1V128.1H2309.55V129.85H1445.35Z" fill="#4a4a4a"/><rect x="2308.05" y="74.6" width="1.4" height="54.35" fill="#1c1c1c"/>
<text class="st" text-anchor="middle" transform="translate(1877.3 112.1) scale(1 1.02)">60%fT&gt;MIC</text>
<g clip-path="url(#c2)">
<path d="M1445.2 518.3H2309.4M1445.2 425.77H2309.4M1445.2 333.25H2309.4M1445.2 240.72H2309.4M1445.2 148.2H2309.4M1484.48 129.7V536.6M1571.77 129.7V536.6M1659.07 129.7V536.6M1746.36 129.7V536.6M1833.65 129.7V536.6M1920.95 129.7V536.6M2008.24 129.7V536.6M2095.53 129.7V536.6M2182.83 129.7V536.6M2270.12 129.7V536.6" stroke="#EBEBEB" stroke-width="3.49" fill="none"/>
<path class="cv" d="M1445.2 148.2L1447.38 148.2L1449.56 148.2L1451.75 148.2L1453.93 148.2L1456.11 148.2L1458.29 148.2L1460.48 148.2L1462.66 148.2L1464.84 148.2L1467.02 148.2L1469.21 148.2L1471.39 148.2L1473.57 148.2L1475.75 148.2L1477.93 148.2L1480.12 148.2L1482.3 148.2L1484.48 148.2L1486.66 148.2L1488.85 148.2L1491.03 148.2L1493.21 148.2L1495.39 148.2L1497.58 148.2L1499.76 148.2L1501.94 148.2L1504.12 148.2L1506.31 148.2L1508.49 148.2L1510.67 148.2L1512.85 148.2L1515.03 148.2L1517.22 148.2L1519.4 148.2L1521.58 148.2L1523.76 148.2L1525.95 148.2L1528.13 148.2L1530.31 148.2L1532.49 148.2L1534.68 148.2L1536.86 148.2L1539.04 148.2L1541.22 148.2L1543.4 148.2L1545.59 148.2L1547.77 148.2L1549.95 148.2L1552.13 148.2L1554.32 148.2L1556.5 148.2L1558.68 148.2L1560.86 148.2L1563.05 148.2L1565.23 148.2L1567.41 148.2L1569.59 148.2L1571.77 148.2L1573.96 148.2L1576.14 148.2L1578.32 148.2L1580.5 148.2L1582.69 148.2L1584.87 148.2L1587.05 148.2L1589.23 148.2L1591.42 148.2L1593.6 148.2L1595.78 148.2L1597.96 148.2L1600.14 148.2L1602.33 148.2L1604.51 148.2L1606.69 148.2L1608.87 148.2L1611.06 148.2L1613.24 148.2L1615.42 148.2L1617.6 148.2L1619.79 148.2L1621.97 148.2L1624.15 148.2L1626.33 148.2L1628.52 148.2L1630.7 148.2L1632.88 148.2L1635.06 148.2L1637.24 148.2L1639.43 148.2L1641.61 148.2L1643.79 148.2L1645.97 148.2L1648.16 148.2L1650.34 148.2L1652.52 148.2L1654.7 148.2L1656.89 148.2L1659.07 148.2L1661.25 148.2L1663.43 148.2L1665.61 148.2L1667.8 148.2L1669.98 148.2L1672.16 148.2L1674.34 148.2L1676.53 148.2L1678.71 148.2L1680.89 148.2L1683.07 148.2L1685.26 148.2L1687.44 148.2L1689.62 148.2L1691.8 148.2L1693.98 148.2L1696.17 148.2L1698.35 148.2L1700.53 148.2L1702.71 148.2L1704.9 148.2L1707.08 148.2L1709.26 148.2L1711.44 148.2L1713.63 148.2L1715.81 148.2L1717.99 148.2L1720.17 148.2L1722.36 148.2L1724.54 148.2L1726.72 148.2L1728.9 148.2L1731.08 148.2L1733.27 148.2L1735.45 148.2L1737.63 148.2L1739.81 148.2L1742 148.2L1744.18 148.2L1746.36 148.2L1748.54 148.2L1750.73 148.2L1752.91 148.2L1755.09 148.2L1757.27 148.2L1759.45 148.29L1761.64 148.29L1763.82 148.3L1766 148.3L1768.18 148.31L1770.37 148.32L1772.55 148.33L1774.73 148.34L1776.91 148.35L1779.1 148.37L1781.28 148.39L1783.46 148.4L1785.64 148.42L1787.82 148.45L1790.01 148.47L1792.19 148.5L1794.37 148.53L1796.55 148.56L1798.74 148.6L1800.92 148.64L1803.1 148.68L1805.28 148.73L1807.47 148.78L1809.65 148.83L1811.83 148.89L1814.01 148.95L1816.19 149L1818.38 149.07L1820.56 149.13L1822.74 149.19L1824.92 149.25L1827.11 149.31L1829.29 149.36L1831.47 149.41L1833.65 149.46L1835.84 149.5L1838.02 149.54L1840.2 149.58L1842.38 149.62L1844.57 149.66L1846.75 149.7L1848.93 149.74L1851.11 149.77L1853.29 149.81L1855.48 149.84L1857.66 149.88L1859.84 149.91L1862.02 149.94L1864.21 149.97L1866.39 150L1868.57 150.04L1870.75 150.07L1872.94 150.1L1875.12 150.13L1877.3 150.16L1879.48 150.2L1881.66 150.23L1883.85 150.27L1886.03 150.3L1888.21 150.34L1890.39 150.38L1892.58 150.42L1894.76 150.46L1896.94 150.51L1899.12 150.56L1901.31 150.61L1903.49 150.67L1905.67 150.73L1907.85 150.79L1910.03 150.86L1912.22 150.94L1914.4 151.02L1916.58 151.11L1918.76 151.21L1920.95 151.31L1923.13 151.43L1925.31 151.56L1927.49 151.72L1929.68 151.9L1931.86 152.11L1934.04 152.34L1936.22 152.6L1938.41 152.9L1940.59 153.22L1942.77 153.59L1944.95 153.99L1947.13 154.44L1949.32 154.93L1951.5 155.48L1953.68 156.08L1955.86 156.75L1958.05 157.47L1960.23 158.27L1962.41 159.14L1964.59 160.1L1966.78 161.13L1968.96 162.26L1971.14 163.49L1973.32 164.81L1975.5 166.24L1977.69 167.78L1979.87 169.43L1982.05 171.2L1984.23 173.08L1986.42 175.09L1988.6 177.22L1990.78 179.48L1992.96 181.86L1995.15 184.35L1997.33 186.97L1999.51 189.7L2001.69 192.54L2003.87 195.48L2006.06 198.52L2008.24 201.64L2010.42 204.88L2012.6 208.29L2014.79 211.85L2016.97 215.59L2019.15 219.49L2021.33 223.56L2023.52 227.8L2025.7 232.22L2027.88 236.8L2030.06 241.56L2032.24 246.48L2034.43 251.57L2036.61 256.82L2038.79 262.23L2040.97 267.79L2043.16 273.5L2045.34 279.34L2047.52 285.32L2049.7 291.42L2051.89 297.62L2054.07 303.93L2056.25 310.33L2058.43 316.81L2060.62 323.35L2062.8 329.94L2064.98 336.57L2067.16 343.22L2069.34 349.89L2071.53 356.54L2073.71 363.17L2075.89 369.77L2078.07 376.32L2080.26 382.8L2082.44 389.2L2084.62 395.5L2086.8 401.7L2088.99 407.78L2091.17 413.73L2093.35 419.53L2095.53 425.18L2097.71 430.76L2099.9 436.31L2102.08 441.81L2104.26 447.21L2106.44 452.5L2108.63 457.63L2110.81 462.58L2112.99 467.33L2115.17 471.85L2117.36 476.14L2119.54 480.18L2121.72 483.95L2123.9 487.47L2126.08 490.72L2128.27 493.71L2130.45 496.45L2132.63 498.94L2134.81 501.19L2137 503.22L2139.18 505.04L2141.36 506.66L2143.54 508.1L2145.73 509.38L2147.91 510.5L2150.09 511.49L2152.27 512.36L2154.46 513.11L2156.64 513.77L2158.82 514.34L2161 514.83L2163.18 515.25L2165.37 515.62L2167.55 515.94L2169.73 516.21L2171.91 516.44L2174.1 516.64L2176.28 516.81L2178.46 516.96L2180.64 517.08L2182.83 517.19L2185.01 517.28L2187.19 517.37L2189.37 517.45L2191.55 517.52L2193.74 517.59L2195.92 517.65L2198.1 517.7L2200.28 517.75L2202.47 517.8L2204.65 517.84L2206.83 517.88L2209.01 517.91L2211.2 517.95L2213.38 517.98L2215.56 518L2217.74 518.03L2219.92 518.05L2222.11 518.07L2224.29 518.08L2226.47 518.1L2228.65 518.11L2230.84 518.13L2233.02 518.14L2235.2 518.15L2237.38 518.16L2239.57 518.17L2241.75 518.18L2243.93 518.18L2246.11 518.19L2248.29 518.2L2250.48 518.2L2252.66 518.21L2254.84 518.21L2257.02 518.21L2259.21 518.3L2261.39 518.3L2263.57 518.3L2265.75 518.3L2267.94 518.3L2270.12 518.3L2272.3 518.3L2274.48 518.3L2276.67 518.3L2278.85 518.3L2281.03 518.3L2283.21 518.3L2285.39 518.3L2287.58 518.3L2289.76 518.3L2291.94 518.3L2294.12 518.3L2296.31 518.3L2298.49 518.3L2300.67 518.3L2302.85 518.3L2305.04 518.3L2307.22 518.3L2309.4 518.3"/>
<path class="cv" d="M1445.2 148.38L1447.38 148.38L1449.56 148.39L1451.75 148.4L1453.93 148.41L1456.11 148.42L1458.29 148.43L1460.48 148.44L1462.66 148.45L1464.84 148.46L1467.02 148.47L1469.21 148.48L1471.39 148.49L1473.57 148.5L1475.75 148.51L1477.93 148.53L1480.12 148.54L1482.3 148.56L1484.48 148.57L1486.66 148.59L1488.85 148.6L1491.03 148.62L1493.21 148.64L1495.39 148.66L1497.58 148.68L1499.76 148.7L1501.94 148.72L1504.12 148.74L1506.31 148.77L1508.49 148.79L1510.67 148.81L1512.85 148.84L1515.03 148.86L1517.22 148.89L1519.4 148.92L1521.58 148.95L1523.76 148.98L1525.95 149.01L1528.13 149.04L1530.31 149.07L1532.49 149.1L1534.68 149.14L1536.86 149.17L1539.04 149.21L1541.22 149.24L1543.4 149.28L1545.59 149.32L1547.77 149.36L1549.95 149.4L1552.13 149.44L1554.32 149.48L1556.5 149.53L1558.68 149.57L1560.86 149.62L1563.05 149.67L1565.23 149.71L1567.41 149.76L1569.59 149.81L1571.77 149.87L1573.96 149.92L1576.14 149.97L1578.32 150.03L1580.5 150.08L1582.69 150.14L1584.87 150.2L1587.05 150.26L1589.23 150.32L1591.42 150.38L1593.6 150.44L1595.78 150.5L1597.96 150.57L1600.14 150.63L1602.33 150.7L1604.51 150.77L1606.69 150.84L1608.87 150.91L1611.06 150.98L1613.24 151.06L1615.42 151.13L1617.6 151.21L1619.79 151.29L1621.97 151.37L1624.15 151.45L1626.33 151.53L1628.52 151.61L1630.7 151.7L1632.88 151.79L1635.06 151.88L1637.24 151.97L1639.43 152.07L1641.61 152.16L1643.79 152.26L1645.97 152.36L1648.16 152.46L1650.34 152.57L1652.52 152.67L1654.7 152.78L1656.89 152.9L1659.07 153.01L1661.25 153.13L1663.43 153.25L1665.61 153.37L1667.8 153.49L1669.98 153.61L1672.16 153.74L1674.34 153.87L1676.53 154L1678.71 154.13L1680.89 154.27L1683.07 154.4L1685.26 154.54L1687.44 154.68L1689.62 154.83L1691.8 154.97L1693.98 155.12L1696.17 155.27L1698.35 155.43L1700.53 155.59L1702.71 155.75L1704.9 155.91L1707.08 156.08L1709.26 156.25L1711.44 156.42L1713.63 156.6L1715.81 156.78L1717.99 156.97L1720.17 157.16L1722.36 157.35L1724.54 157.55L1726.72 157.75L1728.9 157.96L1731.08 158.17L1733.27 158.39L1735.45 158.61L1737.63 158.84L1739.81 159.08L1742 159.32L1744.18 159.57L1746.36 159.82L1748.54 160.08L1750.73 160.35L1752.91 160.61L1755.09 160.89L1757.27 161.17L1759.45 161.45L1761.64 161.74L1763.82 162.03L1766 162.33L1768.18 162.64L1770.37 162.95L1772.55 163.27L1774.73 163.6L1776.91 163.93L1779.1 164.27L1781.28 164.62L1783.46 164.97L1785.64 165.34L1787.82 165.71L1790.01 166.09L1792.19 166.48L1794.37 166.89L1796.55 167.3L1798.74 167.72L1800.92 168.15L1803.1 168.59L1805.28 169.05L1807.47 169.52L1809.65 170L1811.83 170.5L1814.01 171.01L1816.19 171.53L1818.38 172.07L1820.56 172.62L1822.74 173.2L1824.92 173.78L1827.11 174.39L1829.29 175.02L1831.47 175.66L1833.65 176.33L1835.84 177.01L1838.02 177.72L1840.2 178.44L1842.38 179.19L1844.57 179.95L1846.75 180.74L1848.93 181.55L1851.11 182.39L1853.29 183.25L1855.48 184.13L1857.66 185.04L1859.84 185.97L1862.02 186.94L1864.21 187.93L1866.39 188.95L1868.57 190L1870.75 191.08L1872.94 192.19L1875.12 193.33L1877.3 194.51L1879.48 195.72L1881.66 196.97L1883.85 198.25L1886.03 199.57L1888.21 200.93L1890.39 202.33L1892.58 203.77L1894.76 205.25L1896.94 206.77L1899.12 208.34L1901.31 209.95L1903.49 211.61L1905.67 213.32L1907.85 215.07L1910.03 216.87L1912.22 218.72L1914.4 220.63L1916.58 222.59L1918.76 224.6L1920.95 226.66L1923.13 228.79L1925.31 231.01L1927.49 233.3L1929.68 235.67L1931.86 238.13L1934.04 240.66L1936.22 243.28L1938.41 245.98L1940.59 248.76L1942.77 251.62L1944.95 254.56L1947.13 257.58L1949.32 260.68L1951.5 263.86L1953.68 267.11L1955.86 270.44L1958.05 273.85L1960.23 277.32L1962.41 280.87L1964.59 284.48L1966.78 288.15L1968.96 291.89L1971.14 295.68L1973.32 299.53L1975.5 303.43L1977.69 307.38L1979.87 311.38L1982.05 315.41L1984.23 319.48L1986.42 323.58L1988.6 327.7L1990.78 331.85L1992.96 336.02L1995.15 340.2L1997.33 344.38L1999.51 348.57L2001.69 352.76L2003.87 356.94L2006.06 361.11L2008.24 365.26L2010.42 369.41L2012.6 373.57L2014.79 377.74L2016.97 381.91L2019.15 386.07L2021.33 390.23L2023.52 394.37L2025.7 398.48L2027.88 402.58L2030.06 406.64L2032.24 410.67L2034.43 414.65L2036.61 418.59L2038.79 422.48L2040.97 426.32L2043.16 430.09L2045.34 433.8L2047.52 437.44L2049.7 441.01L2051.89 444.5L2054.07 447.91L2056.25 451.24L2058.43 454.49L2060.62 457.65L2062.8 460.71L2064.98 463.69L2067.16 466.57L2069.34 469.36L2071.53 472.05L2073.71 474.65L2075.89 477.14L2078.07 479.55L2080.26 481.85L2082.44 484.06L2084.62 486.17L2086.8 488.19L2088.99 490.12L2091.17 491.95L2093.35 493.7L2095.53 495.35L2097.71 496.95L2099.9 498.51L2102.08 500.03L2104.26 501.49L2106.44 502.89L2108.63 504.22L2110.81 505.48L2112.99 506.66L2115.17 507.77L2117.36 508.8L2119.54 509.75L2121.72 510.63L2123.9 511.44L2126.08 512.17L2128.27 512.84L2130.45 513.45L2132.63 513.99L2134.81 514.48L2137 514.92L2139.18 515.31L2141.36 515.66L2143.54 515.96L2145.73 516.23L2147.91 516.47L2150.09 516.68L2152.27 516.87L2154.46 517.03L2156.64 517.17L2158.82 517.29L2161 517.4L2163.18 517.49L2165.37 517.58L2167.55 517.65L2169.73 517.71L2171.91 517.76L2174.1 517.81L2176.28 517.84L2178.46 517.88L2180.64 517.91L2182.83 517.93L2185.01 517.95L2187.19 517.97L2189.37 517.99L2191.55 518.01L2193.74 518.02L2195.92 518.04L2198.1 518.05L2200.28 518.07L2202.47 518.08L2204.65 518.09L2206.83 518.1L2209.01 518.11L2211.2 518.12L2213.38 518.13L2215.56 518.14L2217.74 518.15L2219.92 518.16L2222.11 518.16L2224.29 518.17L2226.47 518.18L2228.65 518.18L2230.84 518.19L2233.02 518.19L2235.2 518.2L2237.38 518.2L2239.57 518.2L2241.75 518.21L2243.93 518.21L2246.11 518.21L2248.29 518.3L2250.48 518.3L2252.66 518.3L2254.84 518.3L2257.02 518.3L2259.21 518.3L2261.39 518.3L2263.57 518.3L2265.75 518.3L2267.94 518.3L2270.12 518.3L2272.3 518.3L2274.48 518.3L2276.67 518.3L2278.85 518.3L2281.03 518.3L2283.21 518.3L2285.39 518.3L2287.58 518.3L2289.76 518.3L2291.94 518.3L2294.12 518.3L2296.31 518.3L2298.49 518.3L2300.67 518.3L2302.85 518.3L2305.04 518.3L2307.22 518.3L2309.4 518.3"/>
<path class="cv" d="M1445.2 148.2L1447.38 148.2L1449.56 148.2L1451.75 148.2L1453.93 148.2L1456.11 148.2L1458.29 148.2L1460.48 148.2L1462.66 148.2L1464.84 148.2L1467.02 148.2L1469.21 148.2L1471.39 148.2L1473.57 148.2L1475.75 148.2L1477.93 148.2L1480.12 148.2L1482.3 148.2L1484.48 148.2L1486.66 148.2L1488.85 148.2L1491.03 148.2L1493.21 148.2L1495.39 148.2L1497.58 148.2L1499.76 148.2L1501.94 148.2L1504.12 148.2L1506.31 148.2L1508.49 148.2L1510.67 148.2L1512.85 148.2L1515.03 148.2L1517.22 148.2L1519.4 148.2L1521.58 148.2L1523.76 148.2L1525.95 148.2L1528.13 148.2L1530.31 148.2L1532.49 148.2L1534.68 148.2L1536.86 148.2L1539.04 148.2L1541.22 148.2L1543.4 148.2L1545.59 148.2L1547.77 148.2L1549.95 148.2L1552.13 148.2L1554.32 148.2L1556.5 148.2L1558.68 148.2L1560.86 148.2L1563.05 148.2L1565.23 148.2L1567.41 148.2L1569.59 148.2L1571.77 148.2L1573.96 148.2L1576.14 148.2L1578.32 148.2L1580.5 148.2L1582.69 148.2L1584.87 148.2L1587.05 148.2L1589.23 148.2L1591.42 148.2L1593.6 148.2L1595.78 148.2L1597.96 148.2L1600.14 148.2L1602.33 148.2L1604.51 148.2L1606.69 148.2L1608.87 148.2L1611.06 148.2L1613.24 148.2L1615.42 148.2L1617.6 148.2L1619.79 148.2L1621.97 148.2L1624.15 148.2L1626.33 148.2L1628.52 148.2L1630.7 148.2L1632.88 148.2L1635.06 148.2L1637.24 148.2L1639.43 148.2L1641.61 148.2L1643.79 148.2L1645.97 148.2L1648.16 148.2L1650.34 148.2L1652.52 148.2L1654.7 148.2L1656.89 148.2L1659.07 148.2L1661.25 148.2L1663.43 148.2L1665.61 148.2L1667.8 148.2L1669.98 148.2L1672.16 148.2L1674.34 148.2L1676.53 148.2L1678.71 148.2L1680.89 148.2L1683.07 148.2L1685.26 148.2L1687.44 148.2L1689.62 148.2L1691.8 148.2L1693.98 148.2L1696.17 148.2L1698.35 148.2L1700.53 148.2L1702.71 148.2L1704.9 148.2L1707.08 148.2L1709.26 148.2L1711.44 148.2L1713.63 148.2L1715.81 148.2L1717.99 148.2L1720.17 148.2L1722.36 148.2L1724.54 148.2L1726.72 148.2L1728.9 148.2L1731.08 148.2L1733.27 148.2L1735.45 148.2L1737.63 148.2L1739.81 148.2L1742 148.2L1744.18 148.2L1746.36 148.2L1748.54 148.2L1750.73 148.2L1752.91 148.2L1755.09 148.2L1757.27 148.2L1759.45 148.29L1761.64 148.29L1763.82 148.3L1766 148.3L1768.18 148.31L1770.37 148.32L1772.55 148.33L1774.73 148.34L1776.91 148.36L1779.1 148.37L1781.28 148.39L1783.46 148.41L1785.64 148.44L1787.82 148.46L1790.01 148.49L1792.19 148.52L1794.37 148.56L1796.55 148.6L1798.74 148.65L1800.92 148.7L1803.1 148.75L1805.28 148.81L1807.47 148.88L1809.65 148.95L1811.83 149.03L1814.01 149.11L1816.19 149.2L1818.38 149.3L1820.56 149.4L1822.74 149.5L1824.92 149.61L1827.11 149.72L1829.29 149.83L1831.47 149.94L1833.65 150.05L1835.84 150.16L1838.02 150.28L1840.2 150.39L1842.38 150.52L1844.57 150.64L1846.75 150.77L1848.93 150.9L1851.11 151.04L1853.29 151.18L1855.48 151.32L1857.66 151.47L1859.84 151.62L1862.02 151.78L1864.21 151.94L1866.39 152.11L1868.57 152.28L1870.75 152.46L1872.94 152.64L1875.12 152.83L1877.3 153.03L1879.48 153.23L1881.66 153.45L1883.85 153.67L1886.03 153.9L1888.21 154.14L1890.39 154.39L1892.58 154.66L1894.76 154.93L1896.94 155.22L1899.12 155.53L1901.31 155.84L1903.49 156.18L1905.67 156.54L1907.85 156.91L1910.03 157.31L1912.22 157.73L1914.4 158.17L1916.58 158.64L1918.76 159.14L1920.95 159.67L1923.13 160.24L1925.31 160.83L1927.49 161.45L1929.68 162.1L1931.86 162.79L1934.04 163.52L1936.22 164.28L1938.41 165.08L1940.59 165.92L1942.77 166.8L1944.95 167.73L1947.13 168.7L1949.32 169.73L1951.5 170.8L1953.68 171.93L1955.86 173.12L1958.05 174.36L1960.23 175.66L1962.41 177.03L1964.59 178.46L1966.78 179.96L1968.96 181.54L1971.14 183.18L1973.32 184.91L1975.5 186.71L1977.69 188.59L1979.87 190.56L1982.05 192.62L1984.23 194.77L1986.42 197.01L1988.6 199.35L1990.78 201.79L1992.96 204.33L1995.15 206.98L1997.33 209.73L1999.51 212.59L2001.69 215.57L2003.87 218.66L2006.06 221.86L2008.24 225.18L2010.42 228.64L2012.6 232.26L2014.79 236.05L2016.97 239.99L2019.15 244.1L2021.33 248.38L2023.52 252.82L2025.7 257.42L2027.88 262.17L2030.06 267.09L2032.24 272.15L2034.43 277.36L2036.61 282.72L2038.79 288.2L2040.97 293.82L2043.16 299.55L2045.34 305.38L2047.52 311.32L2049.7 317.34L2051.89 323.44L2054.07 329.6L2056.25 335.81L2058.43 342.05L2060.62 348.31L2062.8 354.58L2064.98 360.85L2067.16 367.09L2069.34 373.3L2071.53 379.45L2073.71 385.54L2075.89 391.55L2078.07 397.47L2080.26 403.29L2082.44 408.99L2084.62 414.56L2086.8 420L2088.99 425.29L2091.17 430.43L2093.35 435.4L2095.53 440.21L2097.71 444.92L2099.9 449.59L2102.08 454.2L2104.26 458.71L2106.44 463.1L2108.63 467.35L2110.81 471.45L2112.99 475.36L2115.17 479.09L2117.36 482.62L2119.54 485.94L2121.72 489.05L2123.9 491.95L2126.08 494.63L2128.27 497.1L2130.45 499.36L2132.63 501.43L2134.81 503.31L2137 505.01L2139.18 506.54L2141.36 507.91L2143.54 509.14L2145.73 510.23L2147.91 511.19L2150.09 512.05L2152.27 512.8L2154.46 513.46L2156.64 514.04L2158.82 514.55L2161 514.99L2163.18 515.38L2165.37 515.71L2167.55 516L2169.73 516.26L2171.91 516.47L2174.1 516.66L2176.28 516.83L2178.46 516.97L2180.64 517.09L2182.83 517.19L2185.01 517.28L2187.19 517.37L2189.37 517.44L2191.55 517.51L2193.74 517.58L2195.92 517.64L2198.1 517.69L2200.28 517.74L2202.47 517.79L2204.65 517.83L2206.83 517.87L2209.01 517.9L2211.2 517.94L2213.38 517.97L2215.56 517.99L2217.74 518.02L2219.92 518.04L2222.11 518.06L2224.29 518.08L2226.47 518.09L2228.65 518.11L2230.84 518.12L2233.02 518.13L2235.2 518.14L2237.38 518.15L2239.57 518.16L2241.75 518.17L2243.93 518.18L2246.11 518.19L2248.29 518.19L2250.48 518.2L2252.66 518.2L2254.84 518.21L2257.02 518.21L2259.21 518.3L2261.39 518.3L2263.57 518.3L2265.75 518.3L2267.94 518.3L2270.12 518.3L2272.3 518.3L2274.48 518.3L2276.67 518.3L2278.85 518.3L2281.03 518.3L2283.21 518.3L2285.39 518.3L2287.58 518.3L2289.76 518.3L2291.94 518.3L2294.12 518.3L2296.31 518.3L2298.49 518.3L2300.67 518.3L2302.85 518.3L2305.04 518.3L2307.22 518.3L2309.4 518.3"/>
<path class="cv" d="M1445.2 148.2L1447.38 148.2L1449.56 148.2L1451.75 148.2L1453.93 148.2L1456.11 148.2L1458.29 148.2L1460.48 148.2L1462.66 148.2L1464.84 148.2L1467.02 148.2L1469.21 148.2L1471.39 148.2L1473.57 148.2L1475.75 148.2L1477.93 148.2L1480.12 148.2L1482.3 148.2L1484.48 148.2L1486.66 148.2L1488.85 148.2L1491.03 148.2L1493.21 148.2L1495.39 148.2L1497.58 148.2L1499.76 148.2L1501.94 148.2L1504.12 148.2L1506.31 148.2L1508.49 148.2L1510.67 148.2L1512.85 148.2L1515.03 148.2L1517.22 148.2L1519.4 148.2L1521.58 148.2L1523.76 148.2L1525.95 148.2L1528.13 148.2L1530.31 148.2L1532.49 148.2L1534.68 148.2L1536.86 148.2L1539.04 148.2L1541.22 148.2L1543.4 148.2L1545.59 148.2L1547.77 148.2L1549.95 148.2L1552.13 148.2L1554.32 148.2L1556.5 148.2L1558.68 148.2L1560.86 148.2L1563.05 148.2L1565.23 148.2L1567.41 148.2L1569.59 148.2L1571.77 148.2L1573.96 148.2L1576.14 148.2L1578.32 148.2L1580.5 148.2L1582.69 148.2L1584.87 148.2L1587.05 148.2L1589.23 148.2L1591.42 148.2L1593.6 148.2L1595.78 148.2L1597.96 148.2L1600.14 148.2L1602.33 148.2L1604.51 148.2L1606.69 148.2L1608.87 148.2L1611.06 148.2L1613.24 148.2L1615.42 148.2L1617.6 148.2L1619.79 148.2L1621.97 148.2L1624.15 148.2L1626.33 148.2L1628.52 148.2L1630.7 148.2L1632.88 148.2L1635.06 148.2L1637.24 148.2L1639.43 148.2L1641.61 148.2L1643.79 148.2L1645.97 148.2L1648.16 148.2L1650.34 148.2L1652.52 148.2L1654.7 148.2L1656.89 148.2L1659.07 148.2L1661.25 148.2L1663.43 148.2L1665.61 148.2L1667.8 148.2L1669.98 148.2L1672.16 148.2L1674.34 148.2L1676.53 148.2L1678.71 148.2L1680.89 148.2L1683.07 148.2L1685.26 148.2L1687.44 148.2L1689.62 148.2L1691.8 148.2L1693.98 148.2L1696.17 148.2L1698.35 148.2L1700.53 148.2L1702.71 148.2L1704.9 148.2L1707.08 148.2L1709.26 148.2L1711.44 148.2L1713.63 148.2L1715.81 148.2L1717.99 148.2L1720.17 148.2L1722.36 148.2L1724.54 148.2L1726.72 148.2L1728.9 148.2L1731.08 148.2L1733.27 148.2L1735.45 148.2L1737.63 148.2L1739.81 148.2L1742 148.2L1744.18 148.2L1746.36 148.2L1748.54 148.2L1750.73 148.2L1752.91 148.2L1755.09 148.2L1757.27 148.2L1759.45 148.2L1761.64 148.2L1763.82 148.2L1766 148.2L1768.18 148.2L1770.37 148.2L1772.55 148.2L1774.73 148.2L1776.91 148.2L1779.1 148.2L1781.28 148.2L1783.46 148.2L1785.64 148.2L1787.82 148.2L1790.01 148.2L1792.19 148.2L1794.37 148.2L1796.55 148.2L1798.74 148.2L1800.92 148.2L1803.1 148.2L1805.28 148.2L1807.47 148.2L1809.65 148.2L1811.83 148.2L1814.01 148.2L1816.19 148.2L1818.38 148.2L1820.56 148.2L1822.74 148.2L1824.92 148.2L1827.11 148.2L1829.29 148.2L1831.47 148.2L1833.65 148.2L1835.84 148.2L1838.02 148.2L1840.2 148.2L1842.38 148.2L1844.57 148.2L1846.75 148.2L1848.93 148.2L1851.11 148.2L1853.29 148.2L1855.48 148.2L1857.66 148.2L1859.84 148.2L1862.02 148.2L1864.21 148.2L1866.39 148.2L1868.57 148.2L1870.75 148.2L1872.94 148.2L1875.12 148.2L1877.3 148.2L1879.48 148.2L1881.66 148.2L1883.85 148.2L1886.03 148.2L1888.21 148.2L1890.39 148.2L1892.58 148.2L1894.76 148.2L1896.94 148.2L1899.12 148.2L1901.31 148.2L1903.49 148.2L1905.67 148.2L1907.85 148.2L1910.03 148.2L1912.22 148.2L1914.4 148.2L1916.58 148.2L1918.76 148.2L1920.95 148.2L1923.13 148.2L1925.31 148.2L1927.49 148.2L1929.68 148.2L1931.86 148.2L1934.04 148.2L1936.22 148.2L1938.41 148.2L1940.59 148.2L1942.77 148.2L1944.95 148.2L1947.13 148.2L1949.32 148.2L1951.5 148.2L1953.68 148.2L1955.86 148.2L1958.05 148.2L1960.23 148.2L1962.41 148.2L1964.59 148.2L1966.78 148.2L1968.96 148.2L1971.14 148.2L1973.32 148.2L1975.5 148.2L1977.69 148.2L1979.87 148.2L1982.05 148.2L1984.23 148.2L1986.42 148.2L1988.6 148.2L1990.78 148.2L1992.96 148.2L1995.15 148.2L1997.33 148.2L1999.51 148.2L2001.69 148.2L2003.87 148.2L2006.06 148.2L2008.24 148.2L2010.42 148.2L2012.6 148.2L2014.79 148.2L2016.97 148.2L2019.15 148.2L2021.33 148.2L2023.52 148.2L2025.7 148.26L2027.88 148.29L2030.06 148.32L2032.24 148.37L2034.43 148.43L2036.61 148.51L2038.79 148.61L2040.97 148.75L2043.16 148.93L2045.34 149.15L2047.52 149.44L2049.7 149.81L2051.89 150.26L2054.07 150.82L2056.25 151.51L2058.43 152.36L2060.62 153.38L2062.8 154.61L2064.98 156.08L2067.16 157.82L2069.34 159.86L2071.53 162.24L2073.71 165L2075.89 168.17L2078.07 171.79L2080.26 175.88L2082.44 180.49L2084.62 185.63L2086.8 191.33L2088.99 197.61L2091.17 204.46L2093.35 211.9L2095.53 219.92L2097.71 228.51L2099.9 237.64L2102.08 247.28L2104.26 257.39L2106.44 267.92L2108.63 278.83L2110.81 290.04L2112.99 301.49L2115.17 313.11L2117.36 324.83L2119.54 336.58L2121.72 348.27L2123.9 359.84L2126.08 371.22L2128.27 382.34L2130.45 393.14L2132.63 403.56L2134.81 413.56L2137 423.1L2139.18 432.14L2141.36 440.66L2143.54 448.65L2145.73 456.09L2147.91 462.97L2150.09 469.32L2152.27 475.13L2154.46 480.42L2156.64 485.21L2158.82 489.52L2161 493.38L2163.18 496.82L2165.37 499.87L2167.55 502.56L2169.73 504.91L2171.91 506.96L2174.1 508.74L2176.28 510.28L2178.46 511.6L2180.64 512.73L2182.83 513.68L2185.01 514.49L2187.19 515.17L2189.37 515.74L2191.55 516.22L2193.74 516.61L2195.92 516.94L2198.1 517.21L2200.28 517.42L2202.47 517.6L2204.65 517.75L2206.83 517.86L2209.01 517.95L2211.2 518.03L2213.38 518.09L2215.56 518.14L2217.74 518.17L2219.92 518.2L2222.11 518.22L2224.29 518.3L2226.47 518.3L2228.65 518.3L2230.84 518.3L2233.02 518.3L2235.2 518.3L2237.38 518.3L2239.57 518.3L2241.75 518.3L2243.93 518.3L2246.11 518.3L2248.29 518.3L2250.48 518.3L2252.66 518.3L2254.84 518.3L2257.02 518.3L2259.21 518.3L2261.39 518.3L2263.57 518.3L2265.75 518.3L2267.94 518.3L2270.12 518.3L2272.3 518.3L2274.48 518.3L2276.67 518.3L2278.85 518.3L2281.03 518.3L2283.21 518.3L2285.39 518.3L2287.58 518.3L2289.76 518.3L2291.94 518.3L2294.12 518.3L2296.31 518.3L2298.49 518.3L2300.67 518.3L2302.85 518.3L2305.04 518.3L2307.22 518.3L2309.4 518.3"/>
<path d="M1445.2 185.21H2309.4" stroke="#000" stroke-width="3.3" stroke-dasharray="13.95 13.95" fill="none"/>
<g class="mk">
<rect x="1479.11" y="142.5" width="5.95" height="11.5" class="tf"/>
<rect x="1566.4" y="142.5" width="5.95" height="11.5" class="tf"/>
<rect x="1653.69" y="142.5" width="5.95" height="11.5" class="tf"/>
<rect x="1740.99" y="142.5" width="5.95" height="11.5" class="tf"/>
<rect x="1828.28" y="143.5" width="5.95" height="11.5" class="tf"/>
<rect x="1915.57" y="145.5" width="5.95" height="11.5" class="tf"/>
<rect x="2002.86" y="196.5" width="5.95" height="11.5" class="tf"/>
<rect x="2090.16" y="419.5" width="5.95" height="11.5" class="tf"/>
<rect x="2177.45" y="511.5" width="5.95" height="11.5" class="tf"/>
<rect x="2264.74" y="512.5" width="5.95" height="11.5" class="tf"/>
<path d="M1484.48 138.67L1493.06 153.52H1475.91Z"/>
<path d="M1571.77 139.97L1580.35 154.82H1563.2Z"/>
<path d="M1659.07 143.11L1667.64 157.96H1650.49Z"/>
<path d="M1746.36 149.92L1754.93 164.77H1737.79Z"/>
<path d="M1833.65 166.43L1842.23 181.28H1825.08Z"/>
<path d="M1920.95 216.76L1929.52 231.61H1912.37Z"/>
<path d="M2008.24 355.36L2016.81 370.21H1999.67Z"/>
<path d="M2095.53 485.45L2104.11 500.3H2086.96Z"/>
<path d="M2182.83 508.03L2191.4 522.88H2174.25Z"/>
<path d="M2270.12 508.4L2278.69 523.25H2261.54Z"/>
<rect x="1478.08" y="141.8" width="12.8" height="12.8"/>
<rect x="1565.37" y="141.8" width="12.8" height="12.8"/>
<rect x="1652.67" y="141.8" width="12.8" height="12.8"/>
<rect x="1739.96" y="141.8" width="12.8" height="12.8"/>
<rect x="1827.25" y="143.65" width="12.8" height="12.8"/>
<rect x="1914.55" y="153.27" width="12.8" height="12.8"/>
<rect x="2001.84" y="218.78" width="12.8" height="12.8"/>
<rect x="2089.13" y="433.81" width="12.8" height="12.8"/>
<rect x="2176.43" y="510.79" width="12.8" height="12.8"/>
<rect x="2263.72" y="511.9" width="12.8" height="12.8"/>
<path d="M1475.48 148.2H1493.48M1484.48 139.2V157.2" class="pl"/>
<path d="M1562.77 148.2H1580.77M1571.77 139.2V157.2" class="pl"/>
<path d="M1650.07 148.2H1668.07M1659.07 139.2V157.2" class="pl"/>
<path d="M1737.36 148.2H1755.36M1746.36 139.2V157.2" class="pl"/>
<path d="M1824.65 148.2H1842.65M1833.65 139.2V157.2" class="pl"/>
<path d="M1911.95 148.2H1929.95M1920.95 139.2V157.2" class="pl"/>
<path d="M1999.24 148.2H2017.24M2008.24 139.2V157.2" class="pl"/>
<path d="M2086.53 219.92H2104.53M2095.53 210.92V228.92" class="pl"/>
<path d="M2173.83 513.68H2191.83M2182.83 504.68V522.68" class="pl"/>
<path d="M2261.12 518.3H2279.12M2270.12 509.3V527.3" class="pl"/>
</g>
</g>
<path d="M1445.35 129.85H2309.55V131.59H1447.1V535H2309.55V536.75H1445.35Z" fill="#4a4a4a"/><rect x="2308.05" y="130.75" width="1.4" height="405.1" fill="#1c1c1c"/>
<path class="tk" d="M1484.48 536.75V545.95M1571.77 536.75V545.95M1659.07 536.75V545.95M1746.36 536.75V545.95M1833.65 536.75V545.95M1920.95 536.75V545.95M2008.24 536.75V545.95M2095.53 536.75V545.95M2182.83 536.75V545.95M2270.12 536.75V545.95"/>
<text class="ax" text-anchor="middle" transform="translate(1484.48 574.2) scale(1 1.02)">0.125</text>
<text class="ax" text-anchor="middle" transform="translate(1571.77 608.3) scale(1 1.02)">0.25</text>
<text class="ax" text-anchor="middle" transform="translate(1659.07 574.2) scale(1 1.02)">0.5</text>
<text class="ax" text-anchor="middle" transform="translate(1746.36 608.3) scale(1 1.02)">1</text>
<text class="ax" text-anchor="middle" transform="translate(1833.65 574.2) scale(1 1.02)">2</text>
<text class="ax" text-anchor="middle" transform="translate(1920.95 608.3) scale(1 1.02)">4</text>
<text class="ax" text-anchor="middle" transform="translate(2008.24 574.2) scale(1 1.02)">8</text>
<text class="ax" text-anchor="middle" transform="translate(2095.53 608.3) scale(1 1.02)">16</text>
<text class="ax" text-anchor="middle" transform="translate(2182.83 574.2) scale(1 1.02)">32</text>
<text class="ax" text-anchor="middle" transform="translate(2270.12 608.3) scale(1 1.02)">64</text>
<text class="at" text-anchor="middle" transform="translate(1436.25 650.2) scale(1 1.02)">MIC (mg/L)</text>
</g>
</svg>
</body>
</html>
